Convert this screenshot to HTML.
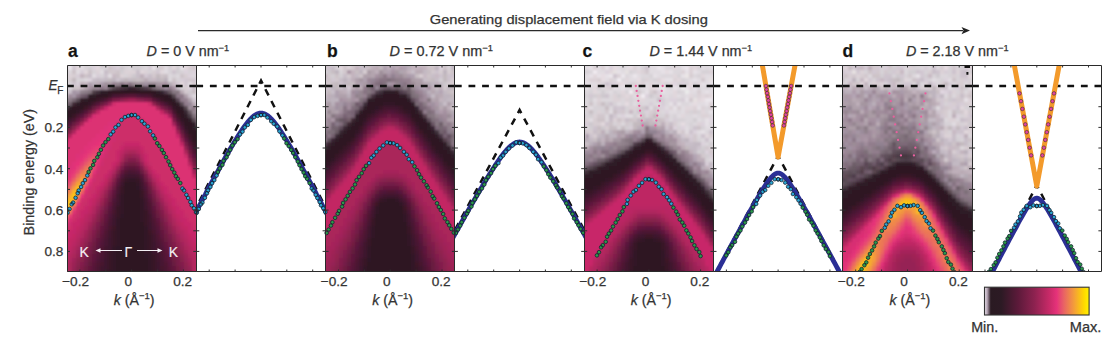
<!DOCTYPE html><html><head><meta charset="utf-8"><style>html,body{margin:0;padding:0;background:#fff;width:1120px;height:343px;overflow:hidden}svg{display:block}text{font-family:"Liberation Sans",sans-serif;fill:#333;stroke:#333;stroke-width:0.25px}</style></head><body>
<svg width="1120" height="343" viewBox="0 0 1120 343">
<defs><clipPath id="hc"><rect x="67.0" y="65.0" width="129.3" height="207.0"/><rect x="325.6" y="65.0" width="129.3" height="207.0"/><rect x="584.2" y="65.0" width="129.3" height="207.0"/><rect x="842.8" y="65.0" width="129.3" height="207.0"/></clipPath><filter id="bl" x="-5%" y="-5%" width="110%" height="110%"><feGaussianBlur stdDeviation="1.3"/></filter></defs><g clip-path="url(#hc)"><g filter="url(#bl)" shape-rendering="crispEdges"><path fill="#c8bec8" d="M64 62h4v4h-4zM168 62h4v4h-4zM104 70h4v4h-4zM136 70h4v4h-4zM88 74h4v4h-4zM136 74h4v4h-4zM148 74h4v4h-4zM92 78h4v4h-4zM100 78h4v4h-4zM176 86h4v4h-4zM192 86h4v4h-4zM68 90h4v4h-4zM339 62h4v4h-4zM359 62h4v4h-4zM443 62h4v4h-4zM331 66h4v4h-4zM359 66h4v4h-4zM363 66h4v4h-4zM411 70h4v4h-4zM343 74h4v4h-4zM431 74h4v4h-4zM455 74h4v4h-4zM339 78h4v4h-4zM347 78h4v4h-4zM423 78h4v4h-4zM435 78h4v4h-4zM455 82h4v4h-4zM339 86h4v4h-4zM331 90h4v4h-4zM443 102h4v4h-4zM657 98h4v4h-4zM581 106h4v4h-4zM645 106h4v4h-4zM581 114h4v4h-4zM609 118h4v4h-4zM625 118h4v4h-4zM669 122h4v4h-4zM581 130h4v4h-4zM593 130h4v4h-4zM685 142h4v4h-4zM689 142h4v4h-4zM709 166h4v4h-4zM717 166h4v4h-4zM856 66h4v4h-4zM932 70h4v4h-4zM964 70h4v4h-4zM888 78h4v4h-4zM920 78h4v4h-4zM848 86h4v4h-4zM864 86h4v4h-4zM888 86h4v4h-4zM972 90h4v4h-4zM960 94h4v4h-4zM976 110h4v4h-4zM972 114h4v4h-4zM960 118h4v4h-4zM940 122h4v4h-4zM964 126h4v4h-4zM952 134h4v4h-4zM944 138h4v4h-4zM952 138h4v4h-4zM964 138h4v4h-4zM944 142h4v4h-4zM964 142h4v4h-4zM972 142h4v4h-4zM944 150h4v4h-4zM952 154h4v4h-4zM972 158h4v4h-4z"/><path fill="#ebe6eb" d="M68 62h4v4h-4zM68 66h4v4h-4zM629 62h4v4h-4zM653 62h4v4h-4zM657 66h4v4h-4zM685 66h4v4h-4zM609 74h4v4h-4zM621 74h4v4h-4zM633 74h4v4h-4zM717 90h4v4h-4zM717 94h4v4h-4zM705 98h4v4h-4zM709 98h4v4h-4z"/><path fill="#d7cdd7" d="M72 62h4v4h-4zM116 66h4v4h-4zM148 66h4v4h-4zM80 70h4v4h-4zM76 74h4v4h-4zM96 74h4v4h-4zM196 74h4v4h-4zM180 78h4v4h-4zM76 82h4v4h-4zM196 98h4v4h-4zM200 98h4v4h-4zM609 82h4v4h-4zM661 98h4v4h-4zM681 98h4v4h-4zM717 98h4v4h-4zM649 102h4v4h-4zM661 102h4v4h-4zM673 102h4v4h-4zM665 118h4v4h-4zM673 118h4v4h-4zM585 122h4v4h-4zM629 126h4v4h-4zM689 134h4v4h-4zM717 150h4v4h-4zM709 154h4v4h-4zM717 154h4v4h-4zM705 162h4v4h-4zM884 66h4v4h-4zM924 66h4v4h-4zM964 66h4v4h-4zM844 70h4v4h-4zM848 70h4v4h-4zM944 70h4v4h-4zM848 78h4v4h-4zM924 78h4v4h-4zM964 78h4v4h-4zM932 82h4v4h-4zM948 82h4v4h-4zM956 86h4v4h-4zM948 102h4v4h-4zM960 102h4v4h-4zM952 106h4v4h-4zM960 134h4v4h-4zM968 150h4v4h-4z"/><path fill="#dcd7dc" d="M76 62h4v4h-4zM80 62h4v4h-4zM96 62h4v4h-4zM116 62h4v4h-4zM156 62h4v4h-4zM128 66h4v4h-4zM144 66h4v4h-4zM200 66h4v4h-4zM68 70h4v4h-4zM168 74h4v4h-4zM176 74h4v4h-4zM192 74h4v4h-4zM200 74h4v4h-4zM64 78h4v4h-4zM84 78h4v4h-4zM168 78h4v4h-4zM192 94h4v4h-4zM331 62h4v4h-4zM459 82h4v4h-4zM585 62h4v4h-4zM589 62h4v4h-4zM593 62h4v4h-4zM609 62h4v4h-4zM617 62h4v4h-4zM621 62h4v4h-4zM657 62h4v4h-4zM661 62h4v4h-4zM665 62h4v4h-4zM677 62h4v4h-4zM693 62h4v4h-4zM701 62h4v4h-4zM713 62h4v4h-4zM621 66h4v4h-4zM665 66h4v4h-4zM669 66h4v4h-4zM677 66h4v4h-4zM705 66h4v4h-4zM581 70h4v4h-4zM589 70h4v4h-4zM633 70h4v4h-4zM673 70h4v4h-4zM677 70h4v4h-4zM625 74h4v4h-4zM641 74h4v4h-4zM645 74h4v4h-4zM661 74h4v4h-4zM665 74h4v4h-4zM669 74h4v4h-4zM693 74h4v4h-4zM613 78h4v4h-4zM621 78h4v4h-4zM649 78h4v4h-4zM685 78h4v4h-4zM625 82h4v4h-4zM657 82h4v4h-4zM589 86h4v4h-4zM601 86h4v4h-4zM629 86h4v4h-4zM637 86h4v4h-4zM669 86h4v4h-4zM697 86h4v4h-4zM705 86h4v4h-4zM585 90h4v4h-4zM597 90h4v4h-4zM605 90h4v4h-4zM617 90h4v4h-4zM641 90h4v4h-4zM681 90h4v4h-4zM609 94h4v4h-4zM661 94h4v4h-4zM669 94h4v4h-4zM681 94h4v4h-4zM693 94h4v4h-4zM585 98h4v4h-4zM601 98h4v4h-4zM605 98h4v4h-4zM609 98h4v4h-4zM621 98h4v4h-4zM633 98h4v4h-4zM645 98h4v4h-4zM649 98h4v4h-4zM653 98h4v4h-4zM665 98h4v4h-4zM581 102h4v4h-4zM585 102h4v4h-4zM593 102h4v4h-4zM621 102h4v4h-4zM641 102h4v4h-4zM645 102h4v4h-4zM653 102h4v4h-4zM665 102h4v4h-4zM681 102h4v4h-4zM685 102h4v4h-4zM609 106h4v4h-4zM705 106h4v4h-4zM713 106h4v4h-4zM661 110h4v4h-4zM677 110h4v4h-4zM705 110h4v4h-4zM713 110h4v4h-4zM605 114h4v4h-4zM617 114h4v4h-4zM669 114h4v4h-4zM685 114h4v4h-4zM689 114h4v4h-4zM697 114h4v4h-4zM709 114h4v4h-4zM605 118h4v4h-4zM669 118h4v4h-4zM685 118h4v4h-4zM689 118h4v4h-4zM701 118h4v4h-4zM621 122h4v4h-4zM677 122h4v4h-4zM685 122h4v4h-4zM693 122h4v4h-4zM709 122h4v4h-4zM717 122h4v4h-4zM585 126h4v4h-4zM705 130h4v4h-4zM697 134h4v4h-4zM717 134h4v4h-4zM701 138h4v4h-4zM705 142h4v4h-4zM709 158h4v4h-4zM924 62h4v4h-4zM944 62h4v4h-4zM976 62h4v4h-4zM904 66h4v4h-4zM920 66h4v4h-4zM928 66h4v4h-4zM936 66h4v4h-4zM904 70h4v4h-4zM868 74h4v4h-4zM912 74h4v4h-4zM940 74h4v4h-4zM944 74h4v4h-4zM908 78h4v4h-4zM936 78h4v4h-4zM972 78h4v4h-4zM912 82h4v4h-4zM920 82h4v4h-4zM936 82h4v4h-4zM952 82h4v4h-4zM964 82h4v4h-4zM964 90h4v4h-4zM944 94h4v4h-4zM952 94h4v4h-4zM972 102h4v4h-4zM936 106h4v4h-4zM948 110h4v4h-4zM972 110h4v4h-4zM948 114h4v4h-4zM944 118h4v4h-4zM956 118h4v4h-4zM972 118h4v4h-4zM968 134h4v4h-4zM976 134h4v4h-4zM960 146h4v4h-4z"/><path fill="#dcd2d7" d="M84 62h4v4h-4zM92 62h4v4h-4zM108 62h4v4h-4zM112 62h4v4h-4zM132 62h4v4h-4zM140 62h4v4h-4zM160 62h4v4h-4zM172 62h4v4h-4zM176 62h4v4h-4zM96 70h4v4h-4zM124 70h4v4h-4zM128 70h4v4h-4zM132 70h4v4h-4zM144 70h4v4h-4zM68 74h4v4h-4zM120 74h4v4h-4zM64 82h4v4h-4zM196 82h4v4h-4zM196 90h4v4h-4zM200 90h4v4h-4zM431 62h4v4h-4zM347 66h4v4h-4zM459 70h4v4h-4zM717 62h4v4h-4zM593 66h4v4h-4zM601 66h4v4h-4zM633 66h4v4h-4zM689 66h4v4h-4zM641 70h4v4h-4zM681 70h4v4h-4zM689 70h4v4h-4zM709 70h4v4h-4zM717 70h4v4h-4zM617 74h4v4h-4zM589 78h4v4h-4zM593 78h4v4h-4zM609 78h4v4h-4zM645 78h4v4h-4zM657 78h4v4h-4zM673 78h4v4h-4zM633 82h4v4h-4zM641 82h4v4h-4zM605 86h4v4h-4zM633 90h4v4h-4zM613 94h4v4h-4zM621 94h4v4h-4zM629 94h4v4h-4zM657 94h4v4h-4zM697 94h4v4h-4zM705 94h4v4h-4zM597 98h4v4h-4zM613 98h4v4h-4zM617 98h4v4h-4zM625 98h4v4h-4zM709 102h4v4h-4zM585 106h4v4h-4zM629 106h4v4h-4zM633 106h4v4h-4zM669 106h4v4h-4zM693 106h4v4h-4zM701 106h4v4h-4zM597 110h4v4h-4zM657 110h4v4h-4zM685 110h4v4h-4zM593 114h4v4h-4zM701 114h4v4h-4zM705 114h4v4h-4zM717 114h4v4h-4zM585 118h4v4h-4zM613 118h4v4h-4zM697 122h4v4h-4zM677 130h4v4h-4zM581 134h4v4h-4zM713 134h4v4h-4zM713 138h4v4h-4zM709 146h4v4h-4zM717 146h4v4h-4zM713 166h4v4h-4zM896 62h4v4h-4zM916 62h4v4h-4zM840 66h4v4h-4zM844 66h4v4h-4zM908 66h4v4h-4zM968 66h4v4h-4zM860 70h4v4h-4zM940 70h4v4h-4zM956 70h4v4h-4zM856 74h4v4h-4zM972 74h4v4h-4zM872 82h4v4h-4zM880 82h4v4h-4zM924 82h4v4h-4zM924 86h4v4h-4zM952 90h4v4h-4zM968 98h4v4h-4zM976 98h4v4h-4zM968 102h4v4h-4zM964 114h4v4h-4zM948 118h4v4h-4zM952 118h4v4h-4zM964 122h4v4h-4zM968 130h4v4h-4zM944 134h4v4h-4zM948 134h4v4h-4z"/><path fill="#e6e1e6" d="M88 62h4v4h-4zM152 66h4v4h-4zM180 66h4v4h-4zM196 66h4v4h-4zM649 62h4v4h-4zM581 66h4v4h-4zM589 66h4v4h-4zM605 66h4v4h-4zM661 66h4v4h-4zM681 66h4v4h-4zM617 70h4v4h-4zM661 70h4v4h-4zM669 70h4v4h-4zM685 70h4v4h-4zM693 70h4v4h-4zM589 74h4v4h-4zM597 74h4v4h-4zM605 74h4v4h-4zM653 74h4v4h-4zM681 74h4v4h-4zM665 78h4v4h-4zM669 78h4v4h-4zM693 78h4v4h-4zM585 82h4v4h-4zM701 82h4v4h-4zM709 82h4v4h-4zM713 82h4v4h-4zM585 86h4v4h-4zM613 86h4v4h-4zM621 86h4v4h-4zM657 86h4v4h-4zM673 86h4v4h-4zM685 86h4v4h-4zM693 86h4v4h-4zM645 90h4v4h-4zM661 90h4v4h-4zM705 90h4v4h-4zM685 98h4v4h-4zM669 102h4v4h-4zM677 102h4v4h-4zM705 102h4v4h-4zM673 106h4v4h-4zM697 106h4v4h-4zM709 110h4v4h-4zM705 118h4v4h-4zM705 122h4v4h-4zM701 130h4v4h-4zM717 130h4v4h-4zM717 162h4v4h-4zM968 62h4v4h-4zM916 74h4v4h-4zM972 82h4v4h-4zM964 98h4v4h-4z"/><path fill="#beafb9" d="M100 62h4v4h-4zM140 74h4v4h-4zM80 82h4v4h-4zM371 66h4v4h-4zM387 66h4v4h-4zM419 66h4v4h-4zM375 70h4v4h-4zM323 74h4v4h-4zM351 78h4v4h-4zM455 78h4v4h-4zM435 82h4v4h-4zM431 86h4v4h-4zM439 86h4v4h-4zM343 90h4v4h-4zM327 94h4v4h-4zM455 98h4v4h-4zM447 106h4v4h-4zM661 122h4v4h-4zM601 130h4v4h-4zM673 134h4v4h-4zM677 138h4v4h-4zM677 142h4v4h-4zM689 150h4v4h-4zM697 154h4v4h-4zM697 158h4v4h-4zM701 158h4v4h-4zM717 170h4v4h-4zM717 178h4v4h-4zM868 66h4v4h-4zM856 86h4v4h-4zM868 86h4v4h-4zM932 98h4v4h-4zM856 102h4v4h-4zM952 114h4v4h-4zM936 118h4v4h-4zM936 126h4v4h-4zM964 134h4v4h-4zM956 142h4v4h-4zM948 150h4v4h-4zM948 154h4v4h-4zM948 158h4v4h-4zM956 166h4v4h-4zM972 166h4v4h-4zM952 170h4v4h-4zM956 170h4v4h-4zM964 170h4v4h-4z"/><path fill="#d7d2d7" d="M104 62h4v4h-4zM144 62h4v4h-4zM200 62h4v4h-4zM84 66h4v4h-4zM100 66h4v4h-4zM104 66h4v4h-4zM124 66h4v4h-4zM140 66h4v4h-4zM168 66h4v4h-4zM64 70h4v4h-4zM92 70h4v4h-4zM148 70h4v4h-4zM168 70h4v4h-4zM180 70h4v4h-4zM188 70h4v4h-4zM64 74h4v4h-4zM100 74h4v4h-4zM124 74h4v4h-4zM172 74h4v4h-4zM76 78h4v4h-4zM80 78h4v4h-4zM176 78h4v4h-4zM196 78h4v4h-4zM68 82h4v4h-4zM68 86h4v4h-4zM196 86h4v4h-4zM200 94h4v4h-4zM427 62h4v4h-4zM439 62h4v4h-4zM455 62h4v4h-4zM335 66h4v4h-4zM447 66h4v4h-4zM323 70h4v4h-4zM339 70h4v4h-4zM459 78h4v4h-4zM597 62h4v4h-4zM641 66h4v4h-4zM697 66h4v4h-4zM585 70h4v4h-4zM629 70h4v4h-4zM701 70h4v4h-4zM705 70h4v4h-4zM649 74h4v4h-4zM677 74h4v4h-4zM697 74h4v4h-4zM641 78h4v4h-4zM653 78h4v4h-4zM681 78h4v4h-4zM717 78h4v4h-4zM601 82h4v4h-4zM629 82h4v4h-4zM665 82h4v4h-4zM677 82h4v4h-4zM685 82h4v4h-4zM693 82h4v4h-4zM581 86h4v4h-4zM589 90h4v4h-4zM613 90h4v4h-4zM625 90h4v4h-4zM677 90h4v4h-4zM585 94h4v4h-4zM653 94h4v4h-4zM581 98h4v4h-4zM629 98h4v4h-4zM677 98h4v4h-4zM613 102h4v4h-4zM629 102h4v4h-4zM637 102h4v4h-4zM593 106h4v4h-4zM597 106h4v4h-4zM601 106h4v4h-4zM625 106h4v4h-4zM657 106h4v4h-4zM585 110h4v4h-4zM593 110h4v4h-4zM601 110h4v4h-4zM625 110h4v4h-4zM633 110h4v4h-4zM689 110h4v4h-4zM697 110h4v4h-4zM585 114h4v4h-4zM645 114h4v4h-4zM657 114h4v4h-4zM661 114h4v4h-4zM673 114h4v4h-4zM677 118h4v4h-4zM681 118h4v4h-4zM613 122h4v4h-4zM689 122h4v4h-4zM617 126h4v4h-4zM677 126h4v4h-4zM689 126h4v4h-4zM701 126h4v4h-4zM713 126h4v4h-4zM717 126h4v4h-4zM713 130h4v4h-4zM697 138h4v4h-4zM713 146h4v4h-4zM705 158h4v4h-4zM713 162h4v4h-4zM856 62h4v4h-4zM884 62h4v4h-4zM928 62h4v4h-4zM940 62h4v4h-4zM960 62h4v4h-4zM880 66h4v4h-4zM912 66h4v4h-4zM916 66h4v4h-4zM948 66h4v4h-4zM956 66h4v4h-4zM864 70h4v4h-4zM880 70h4v4h-4zM924 70h4v4h-4zM948 70h4v4h-4zM968 70h4v4h-4zM976 70h4v4h-4zM892 74h4v4h-4zM904 74h4v4h-4zM932 74h4v4h-4zM948 74h4v4h-4zM956 74h4v4h-4zM844 78h4v4h-4zM856 78h4v4h-4zM872 78h4v4h-4zM928 78h4v4h-4zM940 78h4v4h-4zM956 78h4v4h-4zM968 78h4v4h-4zM844 82h4v4h-4zM868 82h4v4h-4zM884 82h4v4h-4zM952 86h4v4h-4zM956 90h4v4h-4zM976 90h4v4h-4zM972 94h4v4h-4zM944 102h4v4h-4zM964 106h4v4h-4zM960 114h4v4h-4zM976 114h4v4h-4zM944 122h4v4h-4zM948 122h4v4h-4zM960 122h4v4h-4zM948 130h4v4h-4zM956 134h4v4h-4zM960 138h4v4h-4z"/><path fill="#e1d7dc" d="M120 62h4v4h-4zM184 62h4v4h-4zM76 66h4v4h-4zM96 66h4v4h-4zM172 66h4v4h-4zM184 66h4v4h-4zM84 70h4v4h-4zM140 70h4v4h-4zM160 70h4v4h-4zM200 70h4v4h-4zM180 82h4v4h-4zM200 86h4v4h-4zM339 66h4v4h-4zM697 62h4v4h-4zM673 66h4v4h-4zM693 66h4v4h-4zM609 70h4v4h-4zM637 70h4v4h-4zM593 74h4v4h-4zM673 74h4v4h-4zM701 74h4v4h-4zM713 74h4v4h-4zM625 78h4v4h-4zM677 78h4v4h-4zM581 82h4v4h-4zM597 82h4v4h-4zM617 82h4v4h-4zM637 82h4v4h-4zM649 82h4v4h-4zM661 82h4v4h-4zM669 82h4v4h-4zM697 82h4v4h-4zM593 86h4v4h-4zM633 86h4v4h-4zM649 86h4v4h-4zM689 86h4v4h-4zM593 90h4v4h-4zM621 90h4v4h-4zM673 90h4v4h-4zM713 90h4v4h-4zM625 94h4v4h-4zM637 94h4v4h-4zM673 94h4v4h-4zM689 94h4v4h-4zM701 94h4v4h-4zM709 94h4v4h-4zM637 98h4v4h-4zM641 98h4v4h-4zM697 98h4v4h-4zM685 106h4v4h-4zM689 106h4v4h-4zM717 106h4v4h-4zM701 110h4v4h-4zM637 114h4v4h-4zM681 114h4v4h-4zM601 122h4v4h-4zM705 134h4v4h-4zM713 142h4v4h-4zM864 62h4v4h-4zM972 62h4v4h-4zM968 74h4v4h-4zM864 78h4v4h-4zM904 78h4v4h-4zM860 82h4v4h-4zM960 106h4v4h-4zM964 110h4v4h-4zM964 130h4v4h-4z"/><path fill="#dcd2dc" d="M124 62h4v4h-4zM188 62h4v4h-4zM92 66h4v4h-4zM184 70h4v4h-4zM192 70h4v4h-4zM188 74h4v4h-4zM88 78h4v4h-4zM188 86h4v4h-4zM447 62h4v4h-4zM439 66h4v4h-4zM601 62h4v4h-4zM685 62h4v4h-4zM609 66h4v4h-4zM605 70h4v4h-4zM613 82h4v4h-4zM681 82h4v4h-4zM657 90h4v4h-4zM645 94h4v4h-4zM669 98h4v4h-4zM673 98h4v4h-4zM661 106h4v4h-4zM645 110h4v4h-4zM665 110h4v4h-4zM621 114h4v4h-4zM701 122h4v4h-4zM673 126h4v4h-4zM681 126h4v4h-4zM693 130h4v4h-4zM701 142h4v4h-4zM705 150h4v4h-4zM852 62h4v4h-4zM944 78h4v4h-4zM944 90h4v4h-4zM976 106h4v4h-4zM956 114h4v4h-4z"/><path fill="#d7cdd2" d="M128 62h4v4h-4zM152 62h4v4h-4zM164 62h4v4h-4zM196 62h4v4h-4zM64 66h4v4h-4zM160 66h4v4h-4zM188 66h4v4h-4zM152 70h4v4h-4zM72 74h4v4h-4zM128 74h4v4h-4zM184 74h4v4h-4zM68 78h4v4h-4zM192 82h4v4h-4zM64 86h4v4h-4zM184 86h4v4h-4zM64 90h4v4h-4zM419 62h4v4h-4zM435 62h4v4h-4zM455 66h4v4h-4zM363 70h4v4h-4zM439 70h4v4h-4zM447 70h4v4h-4zM419 74h4v4h-4zM451 78h4v4h-4zM447 82h4v4h-4zM451 82h4v4h-4zM689 74h4v4h-4zM597 78h4v4h-4zM609 86h4v4h-4zM581 90h4v4h-4zM649 90h4v4h-4zM697 90h4v4h-4zM597 94h4v4h-4zM597 102h4v4h-4zM637 106h4v4h-4zM677 106h4v4h-4zM709 106h4v4h-4zM649 110h4v4h-4zM693 110h4v4h-4zM593 118h4v4h-4zM621 118h4v4h-4zM593 122h4v4h-4zM597 122h4v4h-4zM617 122h4v4h-4zM673 122h4v4h-4zM605 126h4v4h-4zM589 130h4v4h-4zM593 134h4v4h-4zM685 134h4v4h-4zM709 134h4v4h-4zM713 150h4v4h-4zM717 158h4v4h-4zM872 62h4v4h-4zM876 62h4v4h-4zM880 62h4v4h-4zM948 62h4v4h-4zM940 66h4v4h-4zM972 66h4v4h-4zM976 66h4v4h-4zM896 70h4v4h-4zM928 70h4v4h-4zM848 74h4v4h-4zM860 74h4v4h-4zM952 74h4v4h-4zM960 78h4v4h-4zM840 82h4v4h-4zM876 82h4v4h-4zM896 82h4v4h-4zM940 82h4v4h-4zM956 82h4v4h-4zM960 82h4v4h-4zM968 82h4v4h-4zM920 86h4v4h-4zM928 86h4v4h-4zM976 86h4v4h-4zM968 90h4v4h-4zM956 94h4v4h-4zM964 94h4v4h-4zM944 98h4v4h-4zM952 102h4v4h-4zM964 102h4v4h-4zM948 106h4v4h-4zM944 110h4v4h-4zM944 114h4v4h-4zM956 122h4v4h-4zM968 126h4v4h-4zM944 130h4v4h-4zM972 130h4v4h-4zM976 130h4v4h-4zM972 134h4v4h-4zM976 138h4v4h-4zM964 146h4v4h-4zM952 150h4v4h-4zM976 150h4v4h-4zM968 154h4v4h-4zM972 154h4v4h-4zM968 162h4v4h-4z"/><path fill="#d2c8cd" d="M136 62h4v4h-4zM192 66h4v4h-4zM108 70h4v4h-4zM112 70h4v4h-4zM152 74h4v4h-4zM188 78h4v4h-4zM200 82h4v4h-4zM184 90h4v4h-4zM355 62h4v4h-4zM459 62h4v4h-4zM343 66h4v4h-4zM351 66h4v4h-4zM343 70h4v4h-4zM431 70h4v4h-4zM455 70h4v4h-4zM327 74h4v4h-4zM347 74h4v4h-4zM335 78h4v4h-4zM327 82h4v4h-4zM443 86h4v4h-4zM451 106h4v4h-4zM645 70h4v4h-4zM701 78h4v4h-4zM637 90h4v4h-4zM689 98h4v4h-4zM641 106h4v4h-4zM653 106h4v4h-4zM605 110h4v4h-4zM621 110h4v4h-4zM653 110h4v4h-4zM597 114h4v4h-4zM601 114h4v4h-4zM649 114h4v4h-4zM665 114h4v4h-4zM633 118h4v4h-4zM653 118h4v4h-4zM625 122h4v4h-4zM665 122h4v4h-4zM585 130h4v4h-4zM681 130h4v4h-4zM693 134h4v4h-4zM693 138h4v4h-4zM705 146h4v4h-4zM709 150h4v4h-4zM701 154h4v4h-4zM848 62h4v4h-4zM920 62h4v4h-4zM872 66h4v4h-4zM888 66h4v4h-4zM952 66h4v4h-4zM876 70h4v4h-4zM884 70h4v4h-4zM852 74h4v4h-4zM864 74h4v4h-4zM908 74h4v4h-4zM976 78h4v4h-4zM852 82h4v4h-4zM936 86h4v4h-4zM940 86h4v4h-4zM960 90h4v4h-4zM948 94h4v4h-4zM976 94h4v4h-4zM936 98h4v4h-4zM956 98h4v4h-4zM960 98h4v4h-4zM944 106h4v4h-4zM940 110h4v4h-4zM960 110h4v4h-4zM968 110h4v4h-4zM968 118h4v4h-4zM976 118h4v4h-4zM944 126h4v4h-4zM972 126h4v4h-4zM972 138h4v4h-4zM944 146h4v4h-4zM960 154h4v4h-4zM944 158h4v4h-4z"/><path fill="#cdc3c8" d="M148 62h4v4h-4zM108 66h4v4h-4zM72 70h4v4h-4zM88 70h4v4h-4zM116 70h4v4h-4zM84 74h4v4h-4zM160 74h4v4h-4zM180 74h4v4h-4zM172 78h4v4h-4zM72 86h4v4h-4zM76 86h4v4h-4zM200 102h4v4h-4zM323 62h4v4h-4zM343 62h4v4h-4zM423 62h4v4h-4zM323 66h4v4h-4zM427 66h4v4h-4zM431 66h4v4h-4zM443 66h4v4h-4zM451 70h4v4h-4zM335 74h4v4h-4zM359 74h4v4h-4zM427 74h4v4h-4zM327 78h4v4h-4zM323 82h4v4h-4zM451 90h4v4h-4zM455 90h4v4h-4zM653 90h4v4h-4zM589 102h4v4h-4zM641 114h4v4h-4zM581 118h4v4h-4zM597 118h4v4h-4zM601 118h4v4h-4zM617 118h4v4h-4zM629 118h4v4h-4zM641 118h4v4h-4zM661 118h4v4h-4zM609 122h4v4h-4zM657 122h4v4h-4zM697 126h4v4h-4zM597 130h4v4h-4zM713 154h4v4h-4zM868 70h4v4h-4zM844 74h4v4h-4zM872 74h4v4h-4zM876 74h4v4h-4zM912 78h4v4h-4zM952 78h4v4h-4zM856 82h4v4h-4zM880 86h4v4h-4zM960 86h4v4h-4zM968 94h4v4h-4zM932 130h4v4h-4zM936 138h4v4h-4zM968 138h4v4h-4zM952 142h4v4h-4zM968 146h4v4h-4zM976 146h4v4h-4zM956 154h4v4h-4zM976 154h4v4h-4zM964 166h4v4h-4z"/><path fill="#d2c8d2" d="M180 62h4v4h-4zM72 66h4v4h-4zM112 66h4v4h-4zM156 70h4v4h-4zM144 74h4v4h-4zM184 78h4v4h-4zM192 78h4v4h-4zM176 82h4v4h-4zM184 82h4v4h-4zM196 102h4v4h-4zM200 106h4v4h-4zM327 62h4v4h-4zM347 62h4v4h-4zM459 66h4v4h-4zM331 78h4v4h-4zM347 86h4v4h-4zM713 70h4v4h-4zM589 94h4v4h-4zM713 98h4v4h-4zM617 106h4v4h-4zM617 110h4v4h-4zM613 114h4v4h-4zM681 134h4v4h-4zM689 138h4v4h-4zM717 142h4v4h-4zM844 62h4v4h-4zM860 62h4v4h-4zM904 62h4v4h-4zM932 62h4v4h-4zM952 62h4v4h-4zM852 66h4v4h-4zM864 66h4v4h-4zM876 66h4v4h-4zM896 66h4v4h-4zM900 66h4v4h-4zM856 70h4v4h-4zM872 70h4v4h-4zM892 70h4v4h-4zM920 70h4v4h-4zM840 74h4v4h-4zM900 74h4v4h-4zM920 74h4v4h-4zM868 78h4v4h-4zM904 82h4v4h-4zM908 82h4v4h-4zM948 90h4v4h-4zM940 98h4v4h-4zM940 102h4v4h-4zM956 102h4v4h-4zM940 114h4v4h-4zM968 114h4v4h-4zM952 126h4v4h-4zM960 126h4v4h-4zM940 130h4v4h-4zM948 138h4v4h-4z"/><path fill="#d2cdd2" d="M192 62h4v4h-4zM88 66h4v4h-4zM132 66h4v4h-4zM136 66h4v4h-4zM156 66h4v4h-4zM176 66h4v4h-4zM120 70h4v4h-4zM176 70h4v4h-4zM196 70h4v4h-4zM180 86h4v4h-4zM331 74h4v4h-4zM339 74h4v4h-4zM439 78h4v4h-4zM673 62h4v4h-4zM597 86h4v4h-4zM601 90h4v4h-4zM593 94h4v4h-4zM617 94h4v4h-4zM589 98h4v4h-4zM605 102h4v4h-4zM641 110h4v4h-4zM589 114h4v4h-4zM633 114h4v4h-4zM693 118h4v4h-4zM629 122h4v4h-4zM589 126h4v4h-4zM625 126h4v4h-4zM709 142h4v4h-4zM701 146h4v4h-4zM697 150h4v4h-4zM705 154h4v4h-4zM868 62h4v4h-4zM892 66h4v4h-4zM960 66h4v4h-4zM888 70h4v4h-4zM908 70h4v4h-4zM912 70h4v4h-4zM880 74h4v4h-4zM924 74h4v4h-4zM900 82h4v4h-4zM976 82h4v4h-4zM964 86h4v4h-4zM968 106h4v4h-4zM976 126h4v4h-4zM956 138h4v4h-4zM968 142h4v4h-4zM976 162h4v4h-4z"/><path fill="#e1dce1" d="M80 66h4v4h-4zM164 66h4v4h-4zM76 70h4v4h-4zM100 70h4v4h-4zM164 70h4v4h-4zM92 74h4v4h-4zM108 74h4v4h-4zM188 82h4v4h-4zM581 62h4v4h-4zM605 62h4v4h-4zM613 62h4v4h-4zM625 62h4v4h-4zM633 62h4v4h-4zM637 62h4v4h-4zM641 62h4v4h-4zM645 62h4v4h-4zM669 62h4v4h-4zM681 62h4v4h-4zM689 62h4v4h-4zM705 62h4v4h-4zM709 62h4v4h-4zM585 66h4v4h-4zM597 66h4v4h-4zM617 66h4v4h-4zM625 66h4v4h-4zM637 66h4v4h-4zM649 66h4v4h-4zM653 66h4v4h-4zM701 66h4v4h-4zM709 66h4v4h-4zM713 66h4v4h-4zM717 66h4v4h-4zM597 70h4v4h-4zM601 70h4v4h-4zM621 70h4v4h-4zM649 70h4v4h-4zM653 70h4v4h-4zM657 70h4v4h-4zM697 70h4v4h-4zM581 74h4v4h-4zM585 74h4v4h-4zM629 74h4v4h-4zM637 74h4v4h-4zM657 74h4v4h-4zM705 74h4v4h-4zM709 74h4v4h-4zM717 74h4v4h-4zM581 78h4v4h-4zM585 78h4v4h-4zM605 78h4v4h-4zM629 78h4v4h-4zM633 78h4v4h-4zM689 78h4v4h-4zM697 78h4v4h-4zM705 78h4v4h-4zM713 78h4v4h-4zM589 82h4v4h-4zM593 82h4v4h-4zM645 82h4v4h-4zM653 82h4v4h-4zM705 82h4v4h-4zM717 82h4v4h-4zM617 86h4v4h-4zM625 86h4v4h-4zM641 86h4v4h-4zM645 86h4v4h-4zM665 86h4v4h-4zM677 86h4v4h-4zM701 86h4v4h-4zM709 86h4v4h-4zM717 86h4v4h-4zM609 90h4v4h-4zM665 90h4v4h-4zM669 90h4v4h-4zM689 90h4v4h-4zM693 90h4v4h-4zM701 90h4v4h-4zM709 90h4v4h-4zM633 94h4v4h-4zM665 94h4v4h-4zM677 94h4v4h-4zM685 94h4v4h-4zM593 98h4v4h-4zM617 102h4v4h-4zM633 102h4v4h-4zM657 102h4v4h-4zM689 102h4v4h-4zM697 102h4v4h-4zM701 102h4v4h-4zM713 102h4v4h-4zM717 102h4v4h-4zM589 106h4v4h-4zM649 106h4v4h-4zM665 106h4v4h-4zM681 106h4v4h-4zM581 110h4v4h-4zM609 110h4v4h-4zM669 110h4v4h-4zM673 110h4v4h-4zM681 110h4v4h-4zM717 110h4v4h-4zM625 114h4v4h-4zM629 114h4v4h-4zM677 114h4v4h-4zM693 114h4v4h-4zM713 114h4v4h-4zM589 118h4v4h-4zM697 118h4v4h-4zM713 118h4v4h-4zM713 122h4v4h-4zM685 126h4v4h-4zM705 126h4v4h-4zM709 126h4v4h-4zM685 130h4v4h-4zM697 130h4v4h-4zM709 138h4v4h-4zM717 138h4v4h-4zM892 62h4v4h-4zM900 62h4v4h-4zM936 62h4v4h-4zM956 62h4v4h-4zM964 62h4v4h-4zM932 78h4v4h-4zM948 78h4v4h-4zM948 86h4v4h-4zM968 86h4v4h-4zM972 86h4v4h-4zM952 122h4v4h-4zM976 122h4v4h-4z"/><path fill="#cdc8cd" d="M120 66h4v4h-4zM132 74h4v4h-4zM188 90h4v4h-4zM327 70h4v4h-4zM443 82h4v4h-4zM459 90h4v4h-4zM459 94h4v4h-4zM581 94h4v4h-4zM601 94h4v4h-4zM649 94h4v4h-4zM589 122h4v4h-4zM601 126h4v4h-4zM605 130h4v4h-4zM701 150h4v4h-4zM840 62h4v4h-4zM896 74h4v4h-4zM936 74h4v4h-4zM900 78h4v4h-4zM948 98h4v4h-4zM956 110h4v4h-4zM968 122h4v4h-4zM976 142h4v4h-4z"/><path fill="#cdc3cd" d="M172 70h4v4h-4zM104 74h4v4h-4zM116 78h4v4h-4zM200 78h4v4h-4zM72 82h4v4h-4zM188 94h4v4h-4zM192 98h4v4h-4zM415 62h4v4h-4zM327 66h4v4h-4zM435 70h4v4h-4zM439 74h4v4h-4zM447 74h4v4h-4zM451 74h4v4h-4zM323 78h4v4h-4zM447 78h4v4h-4zM339 82h4v4h-4zM327 86h4v4h-4zM455 86h4v4h-4zM459 86h4v4h-4zM323 90h4v4h-4zM645 66h4v4h-4zM613 74h4v4h-4zM605 82h4v4h-4zM605 94h4v4h-4zM609 102h4v4h-4zM613 106h4v4h-4zM621 106h4v4h-4zM637 110h4v4h-4zM581 122h4v4h-4zM605 122h4v4h-4zM593 126h4v4h-4zM665 126h4v4h-4zM693 126h4v4h-4zM689 130h4v4h-4zM709 130h4v4h-4zM589 134h4v4h-4zM701 134h4v4h-4zM705 138h4v4h-4zM697 146h4v4h-4zM713 158h4v4h-4zM713 170h4v4h-4zM908 62h4v4h-4zM932 66h4v4h-4zM840 70h4v4h-4zM916 70h4v4h-4zM936 70h4v4h-4zM952 70h4v4h-4zM960 70h4v4h-4zM884 74h4v4h-4zM888 74h4v4h-4zM960 74h4v4h-4zM964 74h4v4h-4zM876 78h4v4h-4zM884 78h4v4h-4zM916 78h4v4h-4zM888 82h4v4h-4zM916 86h4v4h-4zM944 86h4v4h-4zM936 94h4v4h-4zM952 98h4v4h-4zM972 98h4v4h-4zM976 102h4v4h-4zM940 106h4v4h-4zM956 106h4v4h-4zM936 110h4v4h-4zM964 118h4v4h-4zM956 130h4v4h-4zM960 130h4v4h-4zM940 134h4v4h-4zM940 146h4v4h-4zM956 150h4v4h-4zM972 150h4v4h-4zM964 154h4v4h-4zM976 158h4v4h-4z"/><path fill="#c3b4be" d="M80 74h4v4h-4zM84 82h4v4h-4zM80 86h4v4h-4zM399 62h4v4h-4zM411 62h4v4h-4zM355 66h4v4h-4zM411 66h4v4h-4zM415 66h4v4h-4zM423 66h4v4h-4zM351 70h4v4h-4zM407 70h4v4h-4zM351 74h4v4h-4zM439 98h4v4h-4zM459 106h4v4h-4zM459 110h4v4h-4zM669 126h4v4h-4zM601 138h4v4h-4zM681 142h4v4h-4zM705 166h4v4h-4zM888 62h4v4h-4zM864 82h4v4h-4zM844 86h4v4h-4zM912 90h4v4h-4zM936 102h4v4h-4zM928 110h4v4h-4zM936 114h4v4h-4zM940 142h4v4h-4zM960 150h4v4h-4zM968 170h4v4h-4z"/><path fill="#c8b9c3" d="M112 74h4v4h-4zM152 78h4v4h-4zM172 82h4v4h-4zM423 74h4v4h-4zM435 74h4v4h-4zM629 110h4v4h-4zM649 118h4v4h-4zM581 142h4v4h-4zM912 62h4v4h-4zM860 66h4v4h-4zM900 70h4v4h-4zM928 74h4v4h-4zM860 78h4v4h-4zM880 78h4v4h-4zM848 82h4v4h-4zM892 82h4v4h-4zM892 86h4v4h-4zM952 130h4v4h-4zM948 146h4v4h-4zM952 146h4v4h-4z"/><path fill="#c8bec3" d="M116 74h4v4h-4zM164 74h4v4h-4zM136 78h4v4h-4zM192 90h4v4h-4zM351 62h4v4h-4zM363 62h4v4h-4zM367 66h4v4h-4zM331 70h4v4h-4zM355 70h4v4h-4zM427 70h4v4h-4zM415 74h4v4h-4zM427 78h4v4h-4zM331 82h4v4h-4zM351 82h4v4h-4zM323 86h4v4h-4zM435 86h4v4h-4zM447 90h4v4h-4zM459 102h4v4h-4zM601 102h4v4h-4zM605 106h4v4h-4zM589 110h4v4h-4zM613 110h4v4h-4zM657 118h4v4h-4zM597 126h4v4h-4zM609 126h4v4h-4zM613 126h4v4h-4zM621 126h4v4h-4zM593 138h4v4h-4zM585 142h4v4h-4zM717 174h4v4h-4zM848 66h4v4h-4zM976 74h4v4h-4zM892 78h4v4h-4zM908 86h4v4h-4zM936 90h4v4h-4zM928 94h4v4h-4zM952 110h4v4h-4zM956 146h4v4h-4zM960 158h4v4h-4zM968 158h4v4h-4zM972 162h4v4h-4zM976 170h4v4h-4z"/><path fill="#c3b9be" d="M156 74h4v4h-4zM72 78h4v4h-4zM108 78h4v4h-4zM132 78h4v4h-4zM140 78h4v4h-4zM160 78h4v4h-4zM200 110h4v4h-4zM335 62h4v4h-4zM379 66h4v4h-4zM443 74h4v4h-4zM431 78h4v4h-4zM443 78h4v4h-4zM335 82h4v4h-4zM347 82h4v4h-4zM335 86h4v4h-4zM451 86h4v4h-4zM327 90h4v4h-4zM451 94h4v4h-4zM459 114h4v4h-4zM653 114h4v4h-4zM633 122h4v4h-4zM637 122h4v4h-4zM649 122h4v4h-4zM633 126h4v4h-4zM685 146h4v4h-4zM896 78h4v4h-4zM944 82h4v4h-4zM884 86h4v4h-4zM948 126h4v4h-4zM956 126h4v4h-4zM960 142h4v4h-4z"/><path fill="#c3b9c3" d="M96 78h4v4h-4zM104 78h4v4h-4zM120 78h4v4h-4zM128 78h4v4h-4zM148 78h4v4h-4zM371 62h4v4h-4zM451 62h4v4h-4zM451 66h4v4h-4zM423 70h4v4h-4zM355 74h4v4h-4zM343 82h4v4h-4zM439 82h4v4h-4zM447 86h4v4h-4zM347 90h4v4h-4zM443 90h4v4h-4zM323 94h4v4h-4zM431 94h4v4h-4zM455 94h4v4h-4zM447 98h4v4h-4zM451 98h4v4h-4zM609 114h4v4h-4zM637 118h4v4h-4zM645 118h4v4h-4zM581 126h4v4h-4zM669 130h4v4h-4zM597 134h4v4h-4zM589 138h4v4h-4zM681 138h4v4h-4zM693 142h4v4h-4zM697 142h4v4h-4zM689 146h4v4h-4zM693 146h4v4h-4zM693 150h4v4h-4zM709 162h4v4h-4zM713 174h4v4h-4zM972 70h4v4h-4zM840 78h4v4h-4zM916 82h4v4h-4zM928 82h4v4h-4zM896 86h4v4h-4zM940 94h4v4h-4zM932 106h4v4h-4zM928 118h4v4h-4zM932 118h4v4h-4zM948 142h4v4h-4zM972 146h4v4h-4zM940 150h4v4h-4zM956 158h4v4h-4zM952 162h4v4h-4zM956 162h4v4h-4zM960 166h4v4h-4z"/><path fill="#beb4be" d="M112 78h4v4h-4zM156 78h4v4h-4zM375 62h4v4h-4zM435 66h4v4h-4zM335 70h4v4h-4zM359 70h4v4h-4zM443 70h4v4h-4zM343 78h4v4h-4zM431 82h4v4h-4zM331 86h4v4h-4zM343 86h4v4h-4zM443 94h4v4h-4zM447 94h4v4h-4zM323 98h4v4h-4zM331 98h4v4h-4zM335 98h4v4h-4zM443 98h4v4h-4zM451 102h4v4h-4zM653 122h4v4h-4zM609 130h4v4h-4zM625 130h4v4h-4zM601 134h4v4h-4zM609 134h4v4h-4zM613 134h4v4h-4zM677 134h4v4h-4zM685 138h4v4h-4zM852 78h4v4h-4zM840 86h4v4h-4zM912 86h4v4h-4zM888 90h4v4h-4zM928 90h4v4h-4zM932 90h4v4h-4zM932 94h4v4h-4zM940 118h4v4h-4zM932 126h4v4h-4zM940 138h4v4h-4zM944 154h4v4h-4zM952 158h4v4h-4zM964 158h4v4h-4zM972 170h4v4h-4zM960 174h4v4h-4z"/><path fill="#beb4b9" d="M124 78h4v4h-4zM64 94h4v4h-4zM932 86h4v4h-4zM924 102h4v4h-4zM920 106h4v4h-4zM928 130h4v4h-4zM936 130h4v4h-4zM932 134h4v4h-4z"/><path fill="#b9aab4" d="M144 78h4v4h-4zM96 82h4v4h-4zM180 90h4v4h-4zM192 102h4v4h-4zM196 106h4v4h-4zM383 62h4v4h-4zM387 62h4v4h-4zM375 66h4v4h-4zM395 66h4v4h-4zM415 70h4v4h-4zM419 70h4v4h-4zM351 86h4v4h-4zM359 86h4v4h-4zM339 90h4v4h-4zM439 94h4v4h-4zM323 106h4v4h-4zM439 106h4v4h-4zM455 106h4v4h-4zM455 110h4v4h-4zM455 114h4v4h-4zM459 122h4v4h-4zM645 122h4v4h-4zM641 126h4v4h-4zM613 130h4v4h-4zM629 130h4v4h-4zM581 138h4v4h-4zM609 138h4v4h-4zM585 146h4v4h-4zM681 146h4v4h-4zM852 86h4v4h-4zM860 86h4v4h-4zM904 86h4v4h-4zM916 90h4v4h-4zM892 94h4v4h-4zM916 94h4v4h-4zM852 98h4v4h-4zM904 98h4v4h-4zM916 98h4v4h-4zM932 102h4v4h-4zM924 106h4v4h-4zM972 106h4v4h-4zM860 110h4v4h-4zM840 114h4v4h-4zM876 122h4v4h-4zM940 126h4v4h-4zM936 142h4v4h-4zM952 166h4v4h-4zM960 170h4v4h-4z"/><path fill="#b9afb9" d="M164 78h4v4h-4zM92 82h4v4h-4zM391 62h4v4h-4zM407 66h4v4h-4zM427 90h4v4h-4zM435 90h4v4h-4zM331 94h4v4h-4zM347 94h4v4h-4zM327 98h4v4h-4zM331 102h4v4h-4zM455 102h4v4h-4zM323 110h4v4h-4zM637 126h4v4h-4zM665 130h4v4h-4zM673 130h4v4h-4zM585 138h4v4h-4zM589 142h4v4h-4zM601 142h4v4h-4zM701 166h4v4h-4zM844 90h4v4h-4zM848 90h4v4h-4zM856 90h4v4h-4zM920 90h4v4h-4zM864 94h4v4h-4zM872 102h4v4h-4zM936 122h4v4h-4zM936 134h4v4h-4zM964 150h4v4h-4zM976 178h4v4h-4z"/><path fill="#afa0af" d="M88 82h4v4h-4zM379 62h4v4h-4zM395 62h4v4h-4zM383 66h4v4h-4zM391 66h4v4h-4zM403 66h4v4h-4zM387 70h4v4h-4zM411 74h4v4h-4zM363 78h4v4h-4zM359 82h4v4h-4zM335 90h4v4h-4zM335 94h4v4h-4zM427 94h4v4h-4zM451 114h4v4h-4zM459 118h4v4h-4zM641 130h4v4h-4zM585 134h4v4h-4zM593 142h4v4h-4zM693 158h4v4h-4zM701 162h4v4h-4zM864 90h4v4h-4zM868 90h4v4h-4zM872 94h4v4h-4zM876 98h4v4h-4zM912 98h4v4h-4zM868 102h4v4h-4zM924 130h4v4h-4zM932 138h4v4h-4zM964 162h4v4h-4z"/><path fill="#aa9baa" d="M100 82h4v4h-4zM76 90h4v4h-4zM407 74h4v4h-4zM419 86h4v4h-4zM840 90h4v4h-4zM900 90h4v4h-4zM888 94h4v4h-4zM844 98h4v4h-4zM860 106h4v4h-4zM904 106h4v4h-4zM916 110h4v4h-4zM876 118h4v4h-4zM924 122h4v4h-4zM936 150h4v4h-4zM948 162h4v4h-4z"/><path fill="#a0919b" d="M104 82h4v4h-4zM188 106h4v4h-4zM379 70h4v4h-4zM451 122h4v4h-4zM459 126h4v4h-4zM459 130h4v4h-4zM669 138h4v4h-4zM685 150h4v4h-4zM713 178h4v4h-4zM912 94h4v4h-4zM848 110h4v4h-4zM880 118h4v4h-4zM840 126h4v4h-4zM856 134h4v4h-4z"/><path fill="#a596a0" d="M108 82h4v4h-4zM156 82h4v4h-4zM395 70h4v4h-4zM359 78h4v4h-4zM339 106h4v4h-4zM435 106h4v4h-4zM323 118h4v4h-4zM613 138h4v4h-4zM617 138h4v4h-4zM597 142h4v4h-4zM669 142h4v4h-4zM673 142h4v4h-4zM677 150h4v4h-4zM705 174h4v4h-4zM896 90h4v4h-4zM876 94h4v4h-4zM860 102h4v4h-4zM864 102h4v4h-4zM908 106h4v4h-4zM884 114h4v4h-4zM916 114h4v4h-4zM844 122h4v4h-4zM856 122h4v4h-4zM916 122h4v4h-4zM876 130h4v4h-4zM840 138h4v4h-4zM952 174h4v4h-4z"/><path fill="#968291" d="M112 82h4v4h-4zM104 86h4v4h-4zM184 98h4v4h-4zM403 78h4v4h-4zM407 78h4v4h-4zM407 82h4v4h-4zM363 94h4v4h-4zM419 98h4v4h-4zM327 126h4v4h-4zM661 134h4v4h-4zM661 138h4v4h-4zM665 142h4v4h-4zM605 146h4v4h-4zM681 150h4v4h-4zM597 154h4v4h-4zM589 158h4v4h-4zM697 166h4v4h-4zM705 178h4v4h-4zM884 106h4v4h-4zM892 106h4v4h-4zM896 114h4v4h-4zM860 118h4v4h-4zM868 122h4v4h-4zM900 122h4v4h-4zM912 122h4v4h-4zM912 130h4v4h-4zM880 134h4v4h-4zM884 134h4v4h-4zM884 142h4v4h-4zM856 146h4v4h-4zM868 146h4v4h-4zM852 150h4v4h-4zM844 154h4v4h-4zM976 182h4v4h-4zM952 186h4v4h-4zM968 186h4v4h-4z"/><path fill="#968791" d="M116 82h4v4h-4zM132 82h4v4h-4zM148 82h4v4h-4zM152 82h4v4h-4zM92 86h4v4h-4zM192 110h4v4h-4zM200 114h4v4h-4zM411 86h4v4h-4zM359 90h4v4h-4zM359 94h4v4h-4zM327 110h4v4h-4zM435 114h4v4h-4zM443 122h4v4h-4zM617 142h4v4h-4zM593 146h4v4h-4zM613 146h4v4h-4zM593 154h4v4h-4zM844 110h4v4h-4zM872 110h4v4h-4zM884 118h4v4h-4zM852 122h4v4h-4zM924 126h4v4h-4zM892 134h4v4h-4zM916 134h4v4h-4zM876 138h4v4h-4zM848 150h4v4h-4z"/><path fill="#877382" d="M120 82h4v4h-4zM128 82h4v4h-4zM196 118h4v4h-4zM379 78h4v4h-4zM383 78h4v4h-4zM391 78h4v4h-4zM403 82h4v4h-4zM363 90h4v4h-4zM343 106h4v4h-4zM343 110h4v4h-4zM431 110h4v4h-4zM435 118h4v4h-4zM451 142h4v4h-4zM645 126h4v4h-4zM617 146h4v4h-4zM613 150h4v4h-4zM593 158h4v4h-4zM681 158h4v4h-4zM896 122h4v4h-4zM912 126h4v4h-4zM920 138h4v4h-4zM856 150h4v4h-4zM840 154h4v4h-4zM860 158h4v4h-4zM848 162h4v4h-4zM936 162h4v4h-4zM940 170h4v4h-4zM952 182h4v4h-4zM968 198h4v4h-4zM972 198h4v4h-4z"/><path fill="#9b8796" d="M124 82h4v4h-4zM96 86h4v4h-4zM196 110h4v4h-4zM200 118h4v4h-4zM367 78h4v4h-4zM419 90h4v4h-4zM439 114h4v4h-4zM327 118h4v4h-4zM443 118h4v4h-4zM455 118h4v4h-4zM609 142h4v4h-4zM597 150h4v4h-4zM685 154h4v4h-4zM705 170h4v4h-4zM717 186h4v4h-4zM872 90h4v4h-4zM864 98h4v4h-4zM888 98h4v4h-4zM900 98h4v4h-4zM884 110h4v4h-4zM876 114h4v4h-4zM908 114h4v4h-4zM896 126h4v4h-4zM880 130h4v4h-4zM888 130h4v4h-4zM848 134h4v4h-4zM920 134h4v4h-4zM844 138h4v4h-4zM868 138h4v4h-4zM880 138h4v4h-4zM848 142h4v4h-4zM856 142h4v4h-4zM844 150h4v4h-4zM840 158h4v4h-4zM960 178h4v4h-4zM956 182h4v4h-4zM968 182h4v4h-4zM972 186h4v4h-4z"/><path fill="#9b8c96" d="M136 82h4v4h-4zM140 82h4v4h-4zM379 74h4v4h-4zM399 74h4v4h-4zM411 82h4v4h-4zM447 114h4v4h-4zM327 122h4v4h-4zM673 146h4v4h-4zM601 154h4v4h-4zM701 174h4v4h-4zM888 102h4v4h-4zM912 106h4v4h-4zM916 106h4v4h-4zM856 110h4v4h-4zM864 114h4v4h-4zM880 122h4v4h-4zM860 126h4v4h-4zM848 130h4v4h-4zM852 142h4v4h-4z"/><path fill="#a091a0" d="M144 82h4v4h-4zM415 86h4v4h-4zM431 102h4v4h-4zM335 106h4v4h-4zM697 162h4v4h-4zM844 106h4v4h-4zM896 106h4v4h-4zM920 110h4v4h-4zM840 118h4v4h-4zM912 118h4v4h-4zM876 126h4v4h-4zM916 126h4v4h-4zM844 130h4v4h-4zM848 138h4v4h-4zM844 142h4v4h-4zM848 146h4v4h-4zM936 158h4v4h-4z"/><path fill="#aa96a5" d="M160 82h4v4h-4zM347 70h4v4h-4zM343 98h4v4h-4zM355 98h4v4h-4zM331 118h4v4h-4zM653 126h4v4h-4zM896 94h4v4h-4zM920 98h4v4h-4zM924 98h4v4h-4zM876 102h4v4h-4zM852 118h4v4h-4zM860 122h4v4h-4zM872 130h4v4h-4zM864 138h4v4h-4zM928 138h4v4h-4zM940 162h4v4h-4z"/><path fill="#a591a0" d="M164 82h4v4h-4zM88 86h4v4h-4zM172 86h4v4h-4zM391 70h4v4h-4zM375 74h4v4h-4zM387 74h4v4h-4zM391 82h4v4h-4zM427 86h4v4h-4zM351 94h4v4h-4zM339 98h4v4h-4zM351 98h4v4h-4zM335 102h4v4h-4zM427 102h4v4h-4zM443 110h4v4h-4zM323 122h4v4h-4zM633 130h4v4h-4zM657 134h4v4h-4zM669 134h4v4h-4zM665 138h4v4h-4zM673 138h4v4h-4zM589 146h4v4h-4zM689 154h4v4h-4zM709 182h4v4h-4zM713 186h4v4h-4zM892 90h4v4h-4zM856 94h4v4h-4zM884 94h4v4h-4zM900 94h4v4h-4zM880 98h4v4h-4zM896 102h4v4h-4zM920 102h4v4h-4zM840 106h4v4h-4zM900 106h4v4h-4zM864 110h4v4h-4zM888 110h4v4h-4zM904 110h4v4h-4zM912 110h4v4h-4zM856 114h4v4h-4zM924 114h4v4h-4zM856 118h4v4h-4zM868 118h4v4h-4zM872 118h4v4h-4zM840 122h4v4h-4zM888 122h4v4h-4zM904 122h4v4h-4zM852 130h4v4h-4zM860 134h4v4h-4zM864 134h4v4h-4zM860 138h4v4h-4zM840 150h4v4h-4z"/><path fill="#b4aab4" d="M168 82h4v4h-4zM367 62h4v4h-4zM427 82h4v4h-4zM439 102h4v4h-4zM451 110h4v4h-4zM597 138h4v4h-4zM876 86h4v4h-4zM924 90h4v4h-4zM928 122h4v4h-4zM964 174h4v4h-4z"/><path fill="#b4a5af" d="M84 86h4v4h-4zM371 70h4v4h-4zM403 70h4v4h-4zM371 74h4v4h-4zM423 82h4v4h-4zM431 90h4v4h-4zM435 94h4v4h-4zM431 98h4v4h-4zM459 98h4v4h-4zM323 102h4v4h-4zM451 118h4v4h-4zM657 126h4v4h-4zM605 134h4v4h-4zM621 134h4v4h-4zM709 170h4v4h-4zM872 86h4v4h-4zM900 86h4v4h-4zM876 90h4v4h-4zM908 90h4v4h-4zM904 94h4v4h-4zM924 94h4v4h-4zM856 98h4v4h-4zM872 98h4v4h-4zM916 102h4v4h-4zM928 102h4v4h-4zM932 110h4v4h-4zM852 114h4v4h-4zM920 114h4v4h-4zM928 114h4v4h-4zM932 114h4v4h-4zM864 118h4v4h-4zM920 118h4v4h-4zM932 142h4v4h-4zM940 158h4v4h-4zM960 162h4v4h-4zM968 166h4v4h-4zM948 170h4v4h-4zM968 174h4v4h-4zM968 178h4v4h-4z"/><path fill="#8c7887" d="M100 86h4v4h-4zM160 86h4v4h-4zM76 94h4v4h-4zM176 94h4v4h-4zM180 94h4v4h-4zM192 106h4v4h-4zM383 74h4v4h-4zM427 106h4v4h-4zM339 114h4v4h-4zM323 130h4v4h-4zM327 134h4v4h-4zM323 138h4v4h-4zM455 138h4v4h-4zM459 138h4v4h-4zM593 150h4v4h-4zM589 154h4v4h-4zM681 154h4v4h-4zM920 94h4v4h-4zM900 114h4v4h-4zM912 114h4v4h-4zM884 126h4v4h-4zM888 134h4v4h-4zM852 138h4v4h-4zM860 146h4v4h-4zM928 154h4v4h-4zM960 190h4v4h-4zM972 190h4v4h-4zM960 194h4v4h-4zM964 194h4v4h-4zM976 194h4v4h-4z"/><path fill="#6e5f69" d="M108 86h4v4h-4zM68 102h4v4h-4zM407 86h4v4h-4zM367 94h4v4h-4zM439 122h4v4h-4zM455 142h4v4h-4zM645 134h4v4h-4zM653 138h4v4h-4zM617 150h4v4h-4zM609 154h4v4h-4zM601 158h4v4h-4zM677 158h4v4h-4zM908 146h4v4h-4zM912 150h4v4h-4zM852 162h4v4h-4zM848 166h4v4h-4zM956 186h4v4h-4z"/><path fill="#554650" d="M112 86h4v4h-4zM172 94h4v4h-4zM184 106h4v4h-4zM589 166h4v4h-4zM717 202h4v4h-4zM896 158h4v4h-4zM888 162h4v4h-4zM868 166h4v4h-4zM928 170h4v4h-4zM848 174h4v4h-4zM864 174h4v4h-4zM940 182h4v4h-4zM952 194h4v4h-4zM956 198h4v4h-4z"/><path fill="#503c46" d="M116 86h4v4h-4zM92 90h4v4h-4zM64 106h4v4h-4zM888 158h4v4h-4zM872 166h4v4h-4zM932 174h4v4h-4zM840 186h4v4h-4z"/><path fill="#463241" d="M120 86h4v4h-4zM371 94h4v4h-4zM609 158h4v4h-4zM860 178h4v4h-4z"/><path fill="#3c2d37" d="M124 86h4v4h-4zM136 86h4v4h-4zM705 190h4v4h-4zM892 162h4v4h-4z"/><path fill="#32232d" d="M128 86h4v4h-4zM160 90h4v4h-4zM415 106h4v4h-4zM669 154h4v4h-4zM701 186h4v4h-4zM912 162h4v4h-4z"/><path fill="#37232d" d="M132 86h4v4h-4zM327 142h4v4h-4zM323 146h4v4h-4zM649 138h4v4h-4z"/><path fill="#463741" d="M140 86h4v4h-4zM601 162h4v4h-4zM593 166h4v4h-4zM709 194h4v4h-4zM900 154h4v4h-4zM904 154h4v4h-4zM916 162h4v4h-4zM876 170h4v4h-4zM868 174h4v4h-4z"/><path fill="#503c4b" d="M144 86h4v4h-4zM164 90h4v4h-4zM375 90h4v4h-4zM399 90h4v4h-4zM633 142h4v4h-4zM629 146h4v4h-4zM581 170h4v4h-4zM852 174h4v4h-4z"/><path fill="#5a4650" d="M148 86h4v4h-4zM860 166h4v4h-4zM872 170h4v4h-4zM948 190h4v4h-4z"/><path fill="#73646e" d="M152 86h4v4h-4zM379 86h4v4h-4zM399 86h4v4h-4zM331 126h4v4h-4zM335 126h4v4h-4zM439 130h4v4h-4zM649 134h4v4h-4zM625 146h4v4h-4zM597 158h4v4h-4zM701 178h4v4h-4zM908 142h4v4h-4zM888 146h4v4h-4zM896 146h4v4h-4zM884 150h4v4h-4zM924 158h4v4h-4zM856 162h4v4h-4zM932 170h4v4h-4zM960 198h4v4h-4z"/><path fill="#82737d" d="M156 86h4v4h-4zM88 90h4v4h-4zM200 122h4v4h-4zM383 82h4v4h-4zM367 86h4v4h-4zM411 90h4v4h-4zM415 94h4v4h-4zM359 98h4v4h-4zM427 114h4v4h-4zM451 138h4v4h-4zM629 138h4v4h-4zM661 142h4v4h-4zM621 146h4v4h-4zM581 162h4v4h-4zM900 126h4v4h-4zM884 130h4v4h-4zM908 130h4v4h-4zM900 134h4v4h-4zM900 138h4v4h-4zM876 146h4v4h-4zM884 146h4v4h-4zM876 154h4v4h-4zM928 166h4v4h-4zM960 186h4v4h-4zM964 198h4v4h-4z"/><path fill="#9b8c9b" d="M164 86h4v4h-4zM367 82h4v4h-4zM355 90h4v4h-4zM637 134h4v4h-4zM585 150h4v4h-4zM689 162h4v4h-4zM876 106h4v4h-4zM860 130h4v4h-4zM928 146h4v4h-4zM932 146h4v4h-4z"/><path fill="#917d8c" d="M168 86h4v4h-4zM180 98h4v4h-4zM184 102h4v4h-4zM375 78h4v4h-4zM399 78h4v4h-4zM371 82h4v4h-4zM363 86h4v4h-4zM415 90h4v4h-4zM419 94h4v4h-4zM423 110h4v4h-4zM335 114h4v4h-4zM447 122h4v4h-4zM633 134h4v4h-4zM641 134h4v4h-4zM633 138h4v4h-4zM657 138h4v4h-4zM613 142h4v4h-4zM685 158h4v4h-4zM693 162h4v4h-4zM697 170h4v4h-4zM717 194h4v4h-4zM900 102h4v4h-4zM888 114h4v4h-4zM892 114h4v4h-4zM848 118h4v4h-4zM904 118h4v4h-4zM884 122h4v4h-4zM900 130h4v4h-4zM868 142h4v4h-4zM872 142h4v4h-4zM872 150h4v4h-4zM876 150h4v4h-4zM932 158h4v4h-4zM840 166h4v4h-4zM944 174h4v4h-4zM956 178h4v4h-4zM976 186h4v4h-4z"/><path fill="#a596a5" d="M72 90h4v4h-4zM72 94h4v4h-4zM387 82h4v4h-4zM423 90h4v4h-4zM339 102h4v4h-4zM435 110h4v4h-4zM649 126h4v4h-4zM661 130h4v4h-4zM709 174h4v4h-4zM868 98h4v4h-4zM892 98h4v4h-4zM904 102h4v4h-4zM896 110h4v4h-4zM840 130h4v4h-4zM856 130h4v4h-4zM856 138h4v4h-4zM924 142h4v4h-4zM944 170h4v4h-4z"/><path fill="#91828c" d="M80 90h4v4h-4zM196 114h4v4h-4zM395 82h4v4h-4zM355 94h4v4h-4zM351 102h4v4h-4zM447 126h4v4h-4zM459 134h4v4h-4zM621 138h4v4h-4zM621 142h4v4h-4zM585 154h4v4h-4zM693 170h4v4h-4zM713 182h4v4h-4zM908 98h4v4h-4zM856 126h4v4h-4zM864 130h4v4h-4zM904 130h4v4h-4zM844 134h4v4h-4zM840 146h4v4h-4zM864 146h4v4h-4zM868 150h4v4h-4zM948 174h4v4h-4zM960 182h4v4h-4zM964 186h4v4h-4zM976 198h4v4h-4z"/><path fill="#8c7d87" d="M84 90h4v4h-4zM64 98h4v4h-4zM68 98h4v4h-4zM395 78h4v4h-4zM423 102h4v4h-4zM451 130h4v4h-4zM625 142h4v4h-4zM609 150h4v4h-4zM581 154h4v4h-4zM892 110h4v4h-4zM864 126h4v4h-4zM912 134h4v4h-4zM888 138h4v4h-4zM840 142h4v4h-4zM872 146h4v4h-4zM920 146h4v4h-4zM932 154h4v4h-4zM848 158h4v4h-4zM952 178h4v4h-4zM968 190h4v4h-4zM976 190h4v4h-4zM968 194h4v4h-4z"/><path fill="#41323c" d="M96 90h4v4h-4zM196 126h4v4h-4zM379 90h4v4h-4zM363 102h4v4h-4zM435 130h4v4h-4zM455 154h4v4h-4zM661 146h4v4h-4zM617 154h4v4h-4zM844 186h4v4h-4zM972 210h4v4h-4z"/><path fill="#2d1e28" d="M100 90h4v4h-4zM104 90h4v4h-4zM156 90h4v4h-4zM88 94h4v4h-4zM92 94h4v4h-4zM168 94h4v4h-4zM84 98h4v4h-4zM172 98h4v4h-4zM76 102h4v4h-4zM176 102h4v4h-4zM68 106h4v4h-4zM180 106h4v4h-4zM64 110h4v4h-4zM184 114h4v4h-4zM188 118h4v4h-4zM192 122h4v4h-4zM192 126h4v4h-4zM196 130h4v4h-4zM200 134h4v4h-4zM200 138h4v4h-4zM383 90h4v4h-4zM387 90h4v4h-4zM391 90h4v4h-4zM375 94h4v4h-4zM379 94h4v4h-4zM399 94h4v4h-4zM403 94h4v4h-4zM367 98h4v4h-4zM371 98h4v4h-4zM407 98h4v4h-4zM411 102h4v4h-4zM363 106h4v4h-4zM359 110h4v4h-4zM415 110h4v4h-4zM355 114h4v4h-4zM419 114h4v4h-4zM355 118h4v4h-4zM423 118h4v4h-4zM351 122h4v4h-4zM427 122h4v4h-4zM347 126h4v4h-4zM427 126h4v4h-4zM343 130h4v4h-4zM431 130h4v4h-4zM339 134h4v4h-4zM435 134h4v4h-4zM335 138h4v4h-4zM439 138h4v4h-4zM331 142h4v4h-4zM443 142h4v4h-4zM327 146h4v4h-4zM443 146h4v4h-4zM447 146h4v4h-4zM323 150h4v4h-4zM447 150h4v4h-4zM451 154h4v4h-4zM455 158h4v4h-4zM459 162h4v4h-4zM645 138h4v4h-4zM641 142h4v4h-4zM653 142h4v4h-4zM633 146h4v4h-4zM637 146h4v4h-4zM657 146h4v4h-4zM629 150h4v4h-4zM661 150h4v4h-4zM621 154h4v4h-4zM625 154h4v4h-4zM665 154h4v4h-4zM613 158h4v4h-4zM617 158h4v4h-4zM669 158h4v4h-4zM673 158h4v4h-4zM605 162h4v4h-4zM609 162h4v4h-4zM613 162h4v4h-4zM673 162h4v4h-4zM677 162h4v4h-4zM601 166h4v4h-4zM605 166h4v4h-4zM677 166h4v4h-4zM681 166h4v4h-4zM589 170h4v4h-4zM593 170h4v4h-4zM597 170h4v4h-4zM681 170h4v4h-4zM685 170h4v4h-4zM581 174h4v4h-4zM585 174h4v4h-4zM589 174h4v4h-4zM685 174h4v4h-4zM689 174h4v4h-4zM581 178h4v4h-4zM689 178h4v4h-4zM693 178h4v4h-4zM693 182h4v4h-4zM697 182h4v4h-4zM697 186h4v4h-4zM701 190h4v4h-4zM705 194h4v4h-4zM709 198h4v4h-4zM713 202h4v4h-4zM713 206h4v4h-4zM717 206h4v4h-4zM717 210h4v4h-4zM896 162h4v4h-4zM900 162h4v4h-4zM904 162h4v4h-4zM908 162h4v4h-4zM888 166h4v4h-4zM892 166h4v4h-4zM916 166h4v4h-4zM920 166h4v4h-4zM880 170h4v4h-4zM884 170h4v4h-4zM924 170h4v4h-4zM872 174h4v4h-4zM876 174h4v4h-4zM928 174h4v4h-4zM868 178h4v4h-4zM872 178h4v4h-4zM932 178h4v4h-4zM860 182h4v4h-4zM864 182h4v4h-4zM936 182h4v4h-4zM852 186h4v4h-4zM856 186h4v4h-4zM940 186h4v4h-4zM840 190h4v4h-4zM844 190h4v4h-4zM848 190h4v4h-4zM944 190h4v4h-4zM840 194h4v4h-4zM844 194h4v4h-4zM948 194h4v4h-4zM948 198h4v4h-4zM952 198h4v4h-4zM952 202h4v4h-4zM956 202h4v4h-4zM956 206h4v4h-4zM960 206h4v4h-4zM960 210h4v4h-4zM964 210h4v4h-4zM968 210h4v4h-4zM968 214h4v4h-4zM972 214h4v4h-4zM972 218h4v4h-4zM976 218h4v4h-4z"/><path fill="#2d1923" d="M108 90h4v4h-4zM112 90h4v4h-4zM116 90h4v4h-4zM120 90h4v4h-4zM124 90h4v4h-4zM128 90h4v4h-4zM132 90h4v4h-4zM136 90h4v4h-4zM140 90h4v4h-4zM144 90h4v4h-4zM148 90h4v4h-4zM152 90h4v4h-4zM96 94h4v4h-4zM100 94h4v4h-4zM104 94h4v4h-4zM156 94h4v4h-4zM160 94h4v4h-4zM164 94h4v4h-4zM88 98h4v4h-4zM92 98h4v4h-4zM164 98h4v4h-4zM168 98h4v4h-4zM80 102h4v4h-4zM84 102h4v4h-4zM172 102h4v4h-4zM72 106h4v4h-4zM76 106h4v4h-4zM80 106h4v4h-4zM176 106h4v4h-4zM68 110h4v4h-4zM72 110h4v4h-4zM176 110h4v4h-4zM180 110h4v4h-4zM64 114h4v4h-4zM68 114h4v4h-4zM180 114h4v4h-4zM64 118h4v4h-4zM184 118h4v4h-4zM184 122h4v4h-4zM188 122h4v4h-4zM188 126h4v4h-4zM188 130h4v4h-4zM192 130h4v4h-4zM192 134h4v4h-4zM196 134h4v4h-4zM192 138h4v4h-4zM196 138h4v4h-4zM196 142h4v4h-4zM200 142h4v4h-4zM196 146h4v4h-4zM200 146h4v4h-4zM200 150h4v4h-4zM124 182h4v4h-4zM128 182h4v4h-4zM132 182h4v4h-4zM124 186h4v4h-4zM128 186h4v4h-4zM132 186h4v4h-4zM124 190h4v4h-4zM128 190h4v4h-4zM132 190h4v4h-4zM136 190h4v4h-4zM124 194h4v4h-4zM128 194h4v4h-4zM132 194h4v4h-4zM136 194h4v4h-4zM124 198h4v4h-4zM128 198h4v4h-4zM132 198h4v4h-4zM136 198h4v4h-4zM124 202h4v4h-4zM128 202h4v4h-4zM132 202h4v4h-4zM136 202h4v4h-4zM124 206h4v4h-4zM128 206h4v4h-4zM132 206h4v4h-4zM136 206h4v4h-4zM124 210h4v4h-4zM128 210h4v4h-4zM132 210h4v4h-4zM136 210h4v4h-4zM124 214h4v4h-4zM128 214h4v4h-4zM132 214h4v4h-4zM136 214h4v4h-4zM120 218h4v4h-4zM124 218h4v4h-4zM128 218h4v4h-4zM132 218h4v4h-4zM136 218h4v4h-4zM120 222h4v4h-4zM124 222h4v4h-4zM128 222h4v4h-4zM132 222h4v4h-4zM136 222h4v4h-4zM140 222h4v4h-4zM120 226h4v4h-4zM124 226h4v4h-4zM128 226h4v4h-4zM132 226h4v4h-4zM136 226h4v4h-4zM140 226h4v4h-4zM120 230h4v4h-4zM124 230h4v4h-4zM128 230h4v4h-4zM132 230h4v4h-4zM136 230h4v4h-4zM140 230h4v4h-4zM120 234h4v4h-4zM124 234h4v4h-4zM128 234h4v4h-4zM132 234h4v4h-4zM136 234h4v4h-4zM140 234h4v4h-4zM120 238h4v4h-4zM124 238h4v4h-4zM128 238h4v4h-4zM132 238h4v4h-4zM136 238h4v4h-4zM140 238h4v4h-4zM120 242h4v4h-4zM124 242h4v4h-4zM128 242h4v4h-4zM132 242h4v4h-4zM136 242h4v4h-4zM140 242h4v4h-4zM120 246h4v4h-4zM124 246h4v4h-4zM128 246h4v4h-4zM132 246h4v4h-4zM136 246h4v4h-4zM140 246h4v4h-4zM116 250h4v4h-4zM120 250h4v4h-4zM124 250h4v4h-4zM128 250h4v4h-4zM132 250h4v4h-4zM136 250h4v4h-4zM140 250h4v4h-4zM116 254h4v4h-4zM120 254h4v4h-4zM124 254h4v4h-4zM128 254h4v4h-4zM132 254h4v4h-4zM136 254h4v4h-4zM140 254h4v4h-4zM116 258h4v4h-4zM120 258h4v4h-4zM124 258h4v4h-4zM128 258h4v4h-4zM132 258h4v4h-4zM136 258h4v4h-4zM140 258h4v4h-4zM144 258h4v4h-4zM116 262h4v4h-4zM120 262h4v4h-4zM124 262h4v4h-4zM128 262h4v4h-4zM132 262h4v4h-4zM136 262h4v4h-4zM140 262h4v4h-4zM144 262h4v4h-4zM116 266h4v4h-4zM120 266h4v4h-4zM124 266h4v4h-4zM128 266h4v4h-4zM132 266h4v4h-4zM136 266h4v4h-4zM140 266h4v4h-4zM144 266h4v4h-4zM116 270h4v4h-4zM120 270h4v4h-4zM124 270h4v4h-4zM128 270h4v4h-4zM132 270h4v4h-4zM136 270h4v4h-4zM140 270h4v4h-4zM144 270h4v4h-4zM116 274h4v4h-4zM120 274h4v4h-4zM124 274h4v4h-4zM128 274h4v4h-4zM132 274h4v4h-4zM136 274h4v4h-4zM140 274h4v4h-4zM144 274h4v4h-4zM383 94h4v4h-4zM387 94h4v4h-4zM391 94h4v4h-4zM395 94h4v4h-4zM375 98h4v4h-4zM379 98h4v4h-4zM383 98h4v4h-4zM387 98h4v4h-4zM391 98h4v4h-4zM395 98h4v4h-4zM399 98h4v4h-4zM403 98h4v4h-4zM367 102h4v4h-4zM371 102h4v4h-4zM375 102h4v4h-4zM379 102h4v4h-4zM395 102h4v4h-4zM399 102h4v4h-4zM403 102h4v4h-4zM407 102h4v4h-4zM367 106h4v4h-4zM371 106h4v4h-4zM403 106h4v4h-4zM407 106h4v4h-4zM411 106h4v4h-4zM363 110h4v4h-4zM367 110h4v4h-4zM411 110h4v4h-4zM359 114h4v4h-4zM363 114h4v4h-4zM411 114h4v4h-4zM415 114h4v4h-4zM359 118h4v4h-4zM415 118h4v4h-4zM419 118h4v4h-4zM355 122h4v4h-4zM359 122h4v4h-4zM419 122h4v4h-4zM423 122h4v4h-4zM351 126h4v4h-4zM355 126h4v4h-4zM419 126h4v4h-4zM423 126h4v4h-4zM347 130h4v4h-4zM351 130h4v4h-4zM423 130h4v4h-4zM427 130h4v4h-4zM343 134h4v4h-4zM347 134h4v4h-4zM351 134h4v4h-4zM427 134h4v4h-4zM431 134h4v4h-4zM339 138h4v4h-4zM343 138h4v4h-4zM347 138h4v4h-4zM431 138h4v4h-4zM435 138h4v4h-4zM335 142h4v4h-4zM339 142h4v4h-4zM343 142h4v4h-4zM431 142h4v4h-4zM435 142h4v4h-4zM439 142h4v4h-4zM331 146h4v4h-4zM335 146h4v4h-4zM339 146h4v4h-4zM435 146h4v4h-4zM439 146h4v4h-4zM327 150h4v4h-4zM331 150h4v4h-4zM335 150h4v4h-4zM439 150h4v4h-4zM443 150h4v4h-4zM323 154h4v4h-4zM327 154h4v4h-4zM331 154h4v4h-4zM443 154h4v4h-4zM447 154h4v4h-4zM323 158h4v4h-4zM327 158h4v4h-4zM443 158h4v4h-4zM447 158h4v4h-4zM451 158h4v4h-4zM323 162h4v4h-4zM447 162h4v4h-4zM451 162h4v4h-4zM455 162h4v4h-4zM451 166h4v4h-4zM455 166h4v4h-4zM459 166h4v4h-4zM455 170h4v4h-4zM459 170h4v4h-4zM455 174h4v4h-4zM459 174h4v4h-4zM459 178h4v4h-4zM387 198h4v4h-4zM391 198h4v4h-4zM379 202h4v4h-4zM383 202h4v4h-4zM387 202h4v4h-4zM391 202h4v4h-4zM395 202h4v4h-4zM379 206h4v4h-4zM383 206h4v4h-4zM387 206h4v4h-4zM391 206h4v4h-4zM395 206h4v4h-4zM399 206h4v4h-4zM379 210h4v4h-4zM383 210h4v4h-4zM387 210h4v4h-4zM391 210h4v4h-4zM395 210h4v4h-4zM399 210h4v4h-4zM375 214h4v4h-4zM379 214h4v4h-4zM383 214h4v4h-4zM387 214h4v4h-4zM391 214h4v4h-4zM395 214h4v4h-4zM399 214h4v4h-4zM375 218h4v4h-4zM379 218h4v4h-4zM383 218h4v4h-4zM387 218h4v4h-4zM391 218h4v4h-4zM395 218h4v4h-4zM399 218h4v4h-4zM375 222h4v4h-4zM379 222h4v4h-4zM383 222h4v4h-4zM387 222h4v4h-4zM391 222h4v4h-4zM395 222h4v4h-4zM399 222h4v4h-4zM403 222h4v4h-4zM375 226h4v4h-4zM379 226h4v4h-4zM383 226h4v4h-4zM387 226h4v4h-4zM391 226h4v4h-4zM395 226h4v4h-4zM399 226h4v4h-4zM403 226h4v4h-4zM375 230h4v4h-4zM379 230h4v4h-4zM383 230h4v4h-4zM387 230h4v4h-4zM391 230h4v4h-4zM395 230h4v4h-4zM399 230h4v4h-4zM403 230h4v4h-4zM375 234h4v4h-4zM379 234h4v4h-4zM383 234h4v4h-4zM387 234h4v4h-4zM391 234h4v4h-4zM395 234h4v4h-4zM399 234h4v4h-4zM403 234h4v4h-4zM371 238h4v4h-4zM375 238h4v4h-4zM379 238h4v4h-4zM383 238h4v4h-4zM387 238h4v4h-4zM391 238h4v4h-4zM395 238h4v4h-4zM399 238h4v4h-4zM403 238h4v4h-4zM371 242h4v4h-4zM375 242h4v4h-4zM379 242h4v4h-4zM383 242h4v4h-4zM387 242h4v4h-4zM391 242h4v4h-4zM395 242h4v4h-4zM399 242h4v4h-4zM403 242h4v4h-4zM371 246h4v4h-4zM375 246h4v4h-4zM379 246h4v4h-4zM383 246h4v4h-4zM387 246h4v4h-4zM391 246h4v4h-4zM395 246h4v4h-4zM399 246h4v4h-4zM403 246h4v4h-4zM407 246h4v4h-4zM371 250h4v4h-4zM375 250h4v4h-4zM379 250h4v4h-4zM383 250h4v4h-4zM387 250h4v4h-4zM391 250h4v4h-4zM395 250h4v4h-4zM399 250h4v4h-4zM403 250h4v4h-4zM407 250h4v4h-4zM371 254h4v4h-4zM375 254h4v4h-4zM379 254h4v4h-4zM383 254h4v4h-4zM387 254h4v4h-4zM391 254h4v4h-4zM395 254h4v4h-4zM399 254h4v4h-4zM403 254h4v4h-4zM407 254h4v4h-4zM371 258h4v4h-4zM375 258h4v4h-4zM379 258h4v4h-4zM383 258h4v4h-4zM387 258h4v4h-4zM391 258h4v4h-4zM395 258h4v4h-4zM399 258h4v4h-4zM403 258h4v4h-4zM407 258h4v4h-4zM367 262h4v4h-4zM371 262h4v4h-4zM375 262h4v4h-4zM379 262h4v4h-4zM383 262h4v4h-4zM387 262h4v4h-4zM391 262h4v4h-4zM395 262h4v4h-4zM399 262h4v4h-4zM403 262h4v4h-4zM407 262h4v4h-4zM367 266h4v4h-4zM371 266h4v4h-4zM375 266h4v4h-4zM379 266h4v4h-4zM383 266h4v4h-4zM387 266h4v4h-4zM391 266h4v4h-4zM395 266h4v4h-4zM399 266h4v4h-4zM403 266h4v4h-4zM407 266h4v4h-4zM367 270h4v4h-4zM371 270h4v4h-4zM375 270h4v4h-4zM379 270h4v4h-4zM383 270h4v4h-4zM387 270h4v4h-4zM391 270h4v4h-4zM395 270h4v4h-4zM399 270h4v4h-4zM403 270h4v4h-4zM407 270h4v4h-4zM411 270h4v4h-4zM367 274h4v4h-4zM371 274h4v4h-4zM375 274h4v4h-4zM379 274h4v4h-4zM383 274h4v4h-4zM387 274h4v4h-4zM391 274h4v4h-4zM395 274h4v4h-4zM399 274h4v4h-4zM403 274h4v4h-4zM407 274h4v4h-4zM411 274h4v4h-4zM645 142h4v4h-4zM649 142h4v4h-4zM641 146h4v4h-4zM645 146h4v4h-4zM649 146h4v4h-4zM653 146h4v4h-4zM633 150h4v4h-4zM637 150h4v4h-4zM641 150h4v4h-4zM653 150h4v4h-4zM657 150h4v4h-4zM629 154h4v4h-4zM633 154h4v4h-4zM657 154h4v4h-4zM661 154h4v4h-4zM621 158h4v4h-4zM625 158h4v4h-4zM629 158h4v4h-4zM661 158h4v4h-4zM665 158h4v4h-4zM617 162h4v4h-4zM621 162h4v4h-4zM625 162h4v4h-4zM665 162h4v4h-4zM669 162h4v4h-4zM609 166h4v4h-4zM613 166h4v4h-4zM617 166h4v4h-4zM621 166h4v4h-4zM669 166h4v4h-4zM673 166h4v4h-4zM601 170h4v4h-4zM605 170h4v4h-4zM609 170h4v4h-4zM613 170h4v4h-4zM673 170h4v4h-4zM677 170h4v4h-4zM593 174h4v4h-4zM597 174h4v4h-4zM601 174h4v4h-4zM605 174h4v4h-4zM609 174h4v4h-4zM677 174h4v4h-4zM681 174h4v4h-4zM585 178h4v4h-4zM589 178h4v4h-4zM593 178h4v4h-4zM597 178h4v4h-4zM601 178h4v4h-4zM681 178h4v4h-4zM685 178h4v4h-4zM581 182h4v4h-4zM585 182h4v4h-4zM589 182h4v4h-4zM593 182h4v4h-4zM597 182h4v4h-4zM685 182h4v4h-4zM689 182h4v4h-4zM581 186h4v4h-4zM585 186h4v4h-4zM589 186h4v4h-4zM689 186h4v4h-4zM693 186h4v4h-4zM581 190h4v4h-4zM693 190h4v4h-4zM697 190h4v4h-4zM697 194h4v4h-4zM701 194h4v4h-4zM701 198h4v4h-4zM705 198h4v4h-4zM701 202h4v4h-4zM705 202h4v4h-4zM709 202h4v4h-4zM705 206h4v4h-4zM709 206h4v4h-4zM709 210h4v4h-4zM713 210h4v4h-4zM713 214h4v4h-4zM717 214h4v4h-4zM713 218h4v4h-4zM717 218h4v4h-4zM717 222h4v4h-4zM645 238h4v4h-4zM649 238h4v4h-4zM637 242h4v4h-4zM641 242h4v4h-4zM645 242h4v4h-4zM649 242h4v4h-4zM653 242h4v4h-4zM657 242h4v4h-4zM637 246h4v4h-4zM641 246h4v4h-4zM645 246h4v4h-4zM649 246h4v4h-4zM653 246h4v4h-4zM657 246h4v4h-4zM637 250h4v4h-4zM641 250h4v4h-4zM645 250h4v4h-4zM649 250h4v4h-4zM653 250h4v4h-4zM657 250h4v4h-4zM637 254h4v4h-4zM641 254h4v4h-4zM645 254h4v4h-4zM649 254h4v4h-4zM653 254h4v4h-4zM657 254h4v4h-4zM637 258h4v4h-4zM641 258h4v4h-4zM645 258h4v4h-4zM649 258h4v4h-4zM653 258h4v4h-4zM657 258h4v4h-4zM637 262h4v4h-4zM641 262h4v4h-4zM645 262h4v4h-4zM649 262h4v4h-4zM653 262h4v4h-4zM657 262h4v4h-4zM633 266h4v4h-4zM637 266h4v4h-4zM641 266h4v4h-4zM645 266h4v4h-4zM649 266h4v4h-4zM653 266h4v4h-4zM657 266h4v4h-4zM661 266h4v4h-4zM633 270h4v4h-4zM637 270h4v4h-4zM641 270h4v4h-4zM645 270h4v4h-4zM649 270h4v4h-4zM653 270h4v4h-4zM657 270h4v4h-4zM661 270h4v4h-4zM633 274h4v4h-4zM637 274h4v4h-4zM641 274h4v4h-4zM645 274h4v4h-4zM649 274h4v4h-4zM653 274h4v4h-4zM657 274h4v4h-4zM661 274h4v4h-4zM896 166h4v4h-4zM900 166h4v4h-4zM904 166h4v4h-4zM908 166h4v4h-4zM912 166h4v4h-4zM888 170h4v4h-4zM892 170h4v4h-4zM896 170h4v4h-4zM900 170h4v4h-4zM904 170h4v4h-4zM908 170h4v4h-4zM912 170h4v4h-4zM916 170h4v4h-4zM920 170h4v4h-4zM880 174h4v4h-4zM884 174h4v4h-4zM888 174h4v4h-4zM892 174h4v4h-4zM916 174h4v4h-4zM920 174h4v4h-4zM924 174h4v4h-4zM876 178h4v4h-4zM880 178h4v4h-4zM884 178h4v4h-4zM924 178h4v4h-4zM928 178h4v4h-4zM868 182h4v4h-4zM872 182h4v4h-4zM876 182h4v4h-4zM880 182h4v4h-4zM928 182h4v4h-4zM932 182h4v4h-4zM860 186h4v4h-4zM864 186h4v4h-4zM868 186h4v4h-4zM872 186h4v4h-4zM932 186h4v4h-4zM936 186h4v4h-4zM852 190h4v4h-4zM856 190h4v4h-4zM860 190h4v4h-4zM864 190h4v4h-4zM868 190h4v4h-4zM936 190h4v4h-4zM940 190h4v4h-4zM848 194h4v4h-4zM852 194h4v4h-4zM856 194h4v4h-4zM860 194h4v4h-4zM940 194h4v4h-4zM944 194h4v4h-4zM840 198h4v4h-4zM844 198h4v4h-4zM848 198h4v4h-4zM852 198h4v4h-4zM856 198h4v4h-4zM940 198h4v4h-4zM944 198h4v4h-4zM840 202h4v4h-4zM844 202h4v4h-4zM848 202h4v4h-4zM852 202h4v4h-4zM944 202h4v4h-4zM948 202h4v4h-4zM840 206h4v4h-4zM844 206h4v4h-4zM948 206h4v4h-4zM952 206h4v4h-4zM840 210h4v4h-4zM952 210h4v4h-4zM956 210h4v4h-4zM952 214h4v4h-4zM956 214h4v4h-4zM960 214h4v4h-4zM964 214h4v4h-4zM956 218h4v4h-4zM960 218h4v4h-4zM964 218h4v4h-4zM968 218h4v4h-4zM960 222h4v4h-4zM964 222h4v4h-4zM968 222h4v4h-4zM972 222h4v4h-4zM976 222h4v4h-4zM964 226h4v4h-4zM968 226h4v4h-4zM972 226h4v4h-4zM976 226h4v4h-4zM968 230h4v4h-4zM972 230h4v4h-4zM976 230h4v4h-4zM972 234h4v4h-4zM976 234h4v4h-4z"/><path fill="#695a64" d="M168 90h4v4h-4zM188 110h4v4h-4zM395 86h4v4h-4zM407 90h4v4h-4zM339 118h4v4h-4zM335 130h4v4h-4zM455 150h4v4h-4zM673 154h4v4h-4zM717 198h4v4h-4zM900 146h4v4h-4zM912 146h4v4h-4zM864 158h4v4h-4zM852 166h4v4h-4zM976 206h4v4h-4z"/><path fill="#877882" d="M172 90h4v4h-4zM176 90h4v4h-4zM403 86h4v4h-4zM367 90h4v4h-4zM427 98h4v4h-4zM331 114h4v4h-4zM431 114h4v4h-4zM435 122h4v4h-4zM645 130h4v4h-4zM625 138h4v4h-4zM669 146h4v4h-4zM581 158h4v4h-4zM685 162h4v4h-4zM888 106h4v4h-4zM892 118h4v4h-4zM904 126h4v4h-4zM896 130h4v4h-4zM916 130h4v4h-4zM896 134h4v4h-4zM908 134h4v4h-4zM884 138h4v4h-4zM852 158h4v4h-4zM868 158h4v4h-4zM840 162h4v4h-4zM972 194h4v4h-4z"/><path fill="#a08c9b" d="M68 94h4v4h-4zM395 74h4v4h-4zM351 90h4v4h-4zM423 94h4v4h-4zM423 98h4v4h-4zM347 102h4v4h-4zM347 106h4v4h-4zM431 106h4v4h-4zM339 110h4v4h-4zM443 114h4v4h-4zM455 122h4v4h-4zM451 126h4v4h-4zM455 130h4v4h-4zM637 130h4v4h-4zM657 130h4v4h-4zM625 134h4v4h-4zM653 134h4v4h-4zM605 142h4v4h-4zM677 146h4v4h-4zM581 150h4v4h-4zM589 150h4v4h-4zM689 158h4v4h-4zM693 166h4v4h-4zM701 170h4v4h-4zM709 178h4v4h-4zM717 182h4v4h-4zM717 190h4v4h-4zM868 94h4v4h-4zM880 94h4v4h-4zM864 106h4v4h-4zM840 110h4v4h-4zM852 110h4v4h-4zM876 110h4v4h-4zM880 110h4v4h-4zM900 110h4v4h-4zM924 110h4v4h-4zM844 114h4v4h-4zM860 114h4v4h-4zM844 118h4v4h-4zM900 118h4v4h-4zM848 122h4v4h-4zM872 122h4v4h-4zM892 122h4v4h-4zM844 126h4v4h-4zM868 130h4v4h-4zM840 134h4v4h-4zM868 134h4v4h-4zM876 134h4v4h-4zM872 138h4v4h-4zM916 138h4v4h-4zM924 138h4v4h-4zM864 142h4v4h-4zM928 142h4v4h-4zM852 146h4v4h-4zM928 150h4v4h-4zM948 166h4v4h-4z"/><path fill="#735f6e" d="M80 94h4v4h-4zM371 86h4v4h-4zM391 86h4v4h-4zM419 106h4v4h-4zM331 134h4v4h-4zM673 150h4v4h-4zM589 162h4v4h-4zM860 162h4v4h-4zM868 170h4v4h-4z"/><path fill="#695564" d="M84 94h4v4h-4zM383 86h4v4h-4zM343 118h4v4h-4zM431 122h4v4h-4zM447 138h4v4h-4zM451 146h4v4h-4zM459 154h4v4h-4zM892 146h4v4h-4zM904 146h4v4h-4zM880 154h4v4h-4zM884 162h4v4h-4zM856 166h4v4h-4zM856 174h4v4h-4z"/><path fill="#371928" d="M108 94h4v4h-4zM96 98h4v4h-4zM160 98h4v4h-4zM168 102h4v4h-4zM72 114h4v4h-4zM188 134h4v4h-4zM192 142h4v4h-4zM196 150h4v4h-4zM124 178h4v4h-4zM136 178h4v4h-4zM120 186h4v4h-4zM120 190h4v4h-4zM140 190h4v4h-4zM140 194h4v4h-4zM116 206h4v4h-4zM116 210h4v4h-4zM144 210h4v4h-4zM116 214h4v4h-4zM144 214h4v4h-4zM144 218h4v4h-4zM144 222h4v4h-4zM112 230h4v4h-4zM112 234h4v4h-4zM148 234h4v4h-4zM112 238h4v4h-4zM148 238h4v4h-4zM112 242h4v4h-4zM148 242h4v4h-4zM148 246h4v4h-4zM108 250h4v4h-4zM108 254h4v4h-4zM152 254h4v4h-4zM108 258h4v4h-4zM152 258h4v4h-4zM108 262h4v4h-4zM152 262h4v4h-4zM108 266h4v4h-4zM152 266h4v4h-4zM104 270h4v4h-4zM152 270h4v4h-4zM104 274h4v4h-4zM156 274h4v4h-4zM379 106h4v4h-4zM399 106h4v4h-4zM403 110h4v4h-4zM367 114h4v4h-4zM411 118h4v4h-4zM359 126h4v4h-4zM423 134h4v4h-4zM351 138h4v4h-4zM347 142h4v4h-4zM343 146h4v4h-4zM431 146h4v4h-4zM339 150h4v4h-4zM335 154h4v4h-4zM443 162h4v4h-4zM447 166h4v4h-4zM455 178h4v4h-4zM459 182h4v4h-4zM379 198h4v4h-4zM403 210h4v4h-4zM371 218h4v4h-4zM371 222h4v4h-4zM407 226h4v4h-4zM407 230h4v4h-4zM367 238h4v4h-4zM367 242h4v4h-4zM411 246h4v4h-4zM411 250h4v4h-4zM363 258h4v4h-4zM363 262h4v4h-4zM415 266h4v4h-4zM415 270h4v4h-4zM645 150h4v4h-4zM649 150h4v4h-4zM633 158h4v4h-4zM629 162h4v4h-4zM625 166h4v4h-4zM613 174h4v4h-4zM673 174h4v4h-4zM609 178h4v4h-4zM677 178h4v4h-4zM601 182h4v4h-4zM681 182h4v4h-4zM597 186h4v4h-4zM589 190h4v4h-4zM581 194h4v4h-4zM701 206h4v4h-4zM705 210h4v4h-4zM713 222h4v4h-4zM717 226h4v4h-4zM637 238h4v4h-4zM657 238h4v4h-4zM633 242h4v4h-4zM661 242h4v4h-4zM633 246h4v4h-4zM661 246h4v4h-4zM629 258h4v4h-4zM629 262h4v4h-4zM665 262h4v4h-4zM629 266h4v4h-4zM665 266h4v4h-4zM900 174h4v4h-4zM904 174h4v4h-4zM908 174h4v4h-4zM884 182h4v4h-4zM928 186h4v4h-4zM872 190h4v4h-4zM932 190h4v4h-4zM868 194h4v4h-4zM856 202h4v4h-4zM940 202h4v4h-4zM844 210h4v4h-4zM840 214h4v4h-4zM952 218h4v4h-4zM964 230h4v4h-4zM968 234h4v4h-4zM972 238h4v4h-4z"/><path fill="#461932" d="M112 94h4v4h-4zM156 98h4v4h-4zM164 102h4v4h-4zM128 170h4v4h-4zM140 178h4v4h-4zM116 190h4v4h-4zM144 194h4v4h-4zM112 206h4v4h-4zM148 210h4v4h-4zM108 222h4v4h-4zM152 226h4v4h-4zM104 238h4v4h-4zM104 242h4v4h-4zM156 242h4v4h-4zM100 258h4v4h-4zM160 258h4v4h-4zM160 262h4v4h-4zM96 274h4v4h-4zM164 274h4v4h-4zM379 110h4v4h-4zM403 114h4v4h-4zM419 134h4v4h-4zM427 146h4v4h-4zM439 162h4v4h-4zM323 174h4v4h-4zM451 178h4v4h-4zM379 194h4v4h-4zM375 198h4v4h-4zM371 206h4v4h-4zM407 210h4v4h-4zM367 222h4v4h-4zM411 226h4v4h-4zM363 238h4v4h-4zM415 242h4v4h-4zM359 254h4v4h-4zM419 258h4v4h-4zM355 270h4v4h-4zM423 274h4v4h-4zM633 162h4v4h-4zM629 166h4v4h-4zM673 178h4v4h-4zM609 182h4v4h-4zM677 182h4v4h-4zM597 190h4v4h-4zM585 198h4v4h-4zM701 210h4v4h-4zM629 242h4v4h-4zM665 242h4v4h-4zM625 258h4v4h-4zM669 258h4v4h-4zM621 270h4v4h-4zM673 270h4v4h-4zM920 182h4v4h-4zM924 186h4v4h-4zM928 190h4v4h-4zM932 194h4v4h-4zM868 198h4v4h-4zM940 206h4v4h-4zM852 210h4v4h-4zM948 218h4v4h-4zM960 234h4v4h-4z"/><path fill="#4b1932" d="M116 94h4v4h-4zM140 94h4v4h-4zM144 94h4v4h-4zM88 106h4v4h-4zM76 114h4v4h-4zM72 118h4v4h-4zM176 118h4v4h-4zM196 158h4v4h-4zM132 170h4v4h-4zM116 186h4v4h-4zM144 190h4v4h-4zM112 202h4v4h-4zM148 206h4v4h-4zM108 218h4v4h-4zM152 222h4v4h-4zM104 234h4v4h-4zM156 238h4v4h-4zM100 250h4v4h-4zM160 250h4v4h-4zM100 254h4v4h-4zM160 254h4v4h-4zM96 266h4v4h-4zM164 266h4v4h-4zM96 270h4v4h-4zM164 270h4v4h-4zM395 110h4v4h-4zM375 114h4v4h-4zM407 118h4v4h-4zM363 126h4v4h-4zM415 130h4v4h-4zM355 138h4v4h-4zM339 158h4v4h-4zM435 158h4v4h-4zM335 162h4v4h-4zM331 166h4v4h-4zM327 170h4v4h-4zM447 174h4v4h-4zM455 186h4v4h-4zM459 190h4v4h-4zM399 194h4v4h-4zM403 198h4v4h-4zM367 218h4v4h-4zM411 222h4v4h-4zM363 234h4v4h-4zM415 238h4v4h-4zM359 246h4v4h-4zM359 250h4v4h-4zM419 254h4v4h-4zM355 262h4v4h-4zM355 266h4v4h-4zM423 266h4v4h-4zM423 270h4v4h-4zM649 154h4v4h-4zM625 170h4v4h-4zM621 174h4v4h-4zM669 174h4v4h-4zM605 186h4v4h-4zM593 194h4v4h-4zM581 202h4v4h-4zM693 202h4v4h-4zM697 206h4v4h-4zM709 222h4v4h-4zM641 230h4v4h-4zM645 230h4v4h-4zM649 230h4v4h-4zM653 230h4v4h-4zM633 234h4v4h-4zM625 254h4v4h-4zM669 254h4v4h-4zM621 266h4v4h-4zM673 266h4v4h-4zM900 178h4v4h-4zM908 178h4v4h-4zM884 186h4v4h-4zM864 202h4v4h-4zM848 214h4v4h-4zM844 218h4v4h-4zM956 230h4v4h-4zM964 238h4v4h-4zM968 242h4v4h-4zM972 246h4v4h-4zM976 250h4v4h-4z"/><path fill="#501932" d="M120 94h4v4h-4zM104 98h4v4h-4zM184 134h4v4h-4zM188 142h4v4h-4zM192 150h4v4h-4zM200 166h4v4h-4zM124 170h4v4h-4zM148 202h4v4h-4zM152 218h4v4h-4zM104 230h4v4h-4zM156 234h4v4h-4zM100 246h4v4h-4zM96 262h4v4h-4zM164 262h4v4h-4zM383 110h4v4h-4zM423 142h4v4h-4zM347 150h4v4h-4zM343 154h4v4h-4zM443 170h4v4h-4zM387 190h4v4h-4zM391 190h4v4h-4zM371 202h4v4h-4zM407 206h4v4h-4zM367 214h4v4h-4zM363 230h4v4h-4zM415 234h4v4h-4zM419 250h4v4h-4zM355 258h4v4h-4zM351 274h4v4h-4zM645 154h4v4h-4zM653 158h4v4h-4zM665 170h4v4h-4zM617 178h4v4h-4zM601 190h4v4h-4zM589 198h4v4h-4zM689 198h4v4h-4zM705 218h4v4h-4zM661 234h4v4h-4zM717 234h4v4h-4zM625 250h4v4h-4zM669 250h4v4h-4zM621 262h4v4h-4zM673 262h4v4h-4zM617 274h4v4h-4zM904 178h4v4h-4zM880 190h4v4h-4zM936 202h4v4h-4zM860 206h4v4h-4zM944 214h4v4h-4zM840 222h4v4h-4zM952 226h4v4h-4z"/><path fill="#551937" d="M124 94h4v4h-4zM96 102h4v4h-4zM168 106h4v4h-4zM84 110h4v4h-4zM64 126h4v4h-4zM140 174h4v4h-4zM116 182h4v4h-4zM148 198h4v4h-4zM108 210h4v4h-4zM152 214h4v4h-4zM104 226h4v4h-4zM156 226h4v4h-4zM100 238h4v4h-4zM160 242h4v4h-4zM96 254h4v4h-4zM164 254h4v4h-4zM164 258h4v4h-4zM92 266h4v4h-4zM92 270h4v4h-4zM168 270h4v4h-4zM387 110h4v4h-4zM399 114h4v4h-4zM403 118h4v4h-4zM411 126h4v4h-4zM419 138h4v4h-4zM355 142h4v4h-4zM427 150h4v4h-4zM439 166h4v4h-4zM331 170h4v4h-4zM327 174h4v4h-4zM323 178h4v4h-4zM447 178h4v4h-4zM379 190h4v4h-4zM375 194h4v4h-4zM407 202h4v4h-4zM367 210h4v4h-4zM363 226h4v4h-4zM415 230h4v4h-4zM359 238h4v4h-4zM419 242h4v4h-4zM355 250h4v4h-4zM355 254h4v4h-4zM423 258h4v4h-4zM351 266h4v4h-4zM427 270h4v4h-4zM641 158h4v4h-4zM657 162h4v4h-4zM661 166h4v4h-4zM613 182h4v4h-4zM609 186h4v4h-4zM677 186h4v4h-4zM681 190h4v4h-4zM597 194h4v4h-4zM585 202h4v4h-4zM701 214h4v4h-4zM625 246h4v4h-4zM669 246h4v4h-4zM621 258h4v4h-4zM673 258h4v4h-4zM617 270h4v4h-4zM677 270h4v4h-4zM892 182h4v4h-4zM916 182h4v4h-4zM872 198h4v4h-4zM940 210h4v4h-4zM852 214h4v4h-4zM848 218h4v4h-4zM948 222h4v4h-4zM956 234h4v4h-4zM960 238h4v4h-4zM964 242h4v4h-4zM968 246h4v4h-4zM972 250h4v4h-4zM976 254h4v4h-4z"/><path fill="#5a1937" d="M128 94h4v4h-4zM132 94h4v4h-4zM152 98h4v4h-4zM160 102h4v4h-4zM196 162h4v4h-4zM128 166h4v4h-4zM132 166h4v4h-4zM200 170h4v4h-4zM144 182h4v4h-4zM112 194h4v4h-4zM152 210h4v4h-4zM104 222h4v4h-4zM156 222h4v4h-4zM100 234h4v4h-4zM160 238h4v4h-4zM96 250h4v4h-4zM164 250h4v4h-4zM92 262h4v4h-4zM168 266h4v4h-4zM88 274h4v4h-4zM379 114h4v4h-4zM407 122h4v4h-4zM363 130h4v4h-4zM339 162h4v4h-4zM435 162h4v4h-4zM335 166h4v4h-4zM455 190h4v4h-4zM459 194h4v4h-4zM371 198h4v4h-4zM411 214h4v4h-4zM363 222h4v4h-4zM415 226h4v4h-4zM359 234h4v4h-4zM423 254h4v4h-4zM351 262h4v4h-4zM427 266h4v4h-4zM347 274h4v4h-4zM637 162h4v4h-4zM673 182h4v4h-4zM593 198h4v4h-4zM581 206h4v4h-4zM697 210h4v4h-4zM709 226h4v4h-4zM621 254h4v4h-4zM617 266h4v4h-4zM677 266h4v4h-4zM896 182h4v4h-4zM888 186h4v4h-4zM932 198h4v4h-4zM868 202h4v4h-4zM844 222h4v4h-4z"/><path fill="#501937" d="M136 94h4v4h-4zM68 122h4v4h-4zM180 126h4v4h-4zM136 170h4v4h-4zM120 174h4v4h-4zM144 186h4v4h-4zM112 198h4v4h-4zM108 214h4v4h-4zM156 230h4v4h-4zM100 242h4v4h-4zM160 246h4v4h-4zM96 258h4v4h-4zM92 274h4v4h-4zM168 274h4v4h-4zM391 110h4v4h-4zM371 118h4v4h-4zM367 122h4v4h-4zM359 134h4v4h-4zM351 146h4v4h-4zM431 154h4v4h-4zM451 182h4v4h-4zM383 190h4v4h-4zM395 190h4v4h-4zM411 218h4v4h-4zM359 242h4v4h-4zM419 246h4v4h-4zM423 262h4v4h-4zM351 270h4v4h-4zM427 274h4v4h-4zM685 194h4v4h-4zM637 230h4v4h-4zM657 230h4v4h-4zM713 230h4v4h-4zM629 238h4v4h-4zM665 238h4v4h-4zM677 274h4v4h-4zM876 194h4v4h-4zM856 210h4v4h-4z"/><path fill="#46192d" d="M148 94h4v4h-4zM92 102h4v4h-4zM172 110h4v4h-4zM200 162h4v4h-4zM120 178h4v4h-4zM112 210h4v4h-4zM108 226h4v4h-4zM152 230h4v4h-4zM156 246h4v4h-4zM100 262h4v4h-4zM160 266h4v4h-4zM367 118h4v4h-4zM411 122h4v4h-4zM351 142h4v4h-4zM411 230h4v4h-4zM415 246h4v4h-4zM419 262h4v4h-4zM681 186h4v4h-4zM713 226h4v4h-4zM621 274h4v4h-4zM673 274h4v4h-4zM896 178h4v4h-4zM912 178h4v4h-4zM872 194h4v4h-4z"/><path fill="#321928" d="M152 94h4v4h-4zM88 102h4v4h-4zM172 106h4v4h-4zM76 110h4v4h-4zM180 118h4v4h-4zM184 126h4v4h-4zM200 154h4v4h-4zM128 178h4v4h-4zM132 178h4v4h-4zM136 182h4v4h-4zM120 194h4v4h-4zM120 198h4v4h-4zM140 198h4v4h-4zM120 202h4v4h-4zM140 202h4v4h-4zM120 206h4v4h-4zM140 206h4v4h-4zM120 210h4v4h-4zM140 210h4v4h-4zM140 214h4v4h-4zM116 218h4v4h-4zM140 218h4v4h-4zM116 222h4v4h-4zM116 226h4v4h-4zM144 226h4v4h-4zM116 230h4v4h-4zM144 230h4v4h-4zM116 234h4v4h-4zM144 234h4v4h-4zM116 238h4v4h-4zM144 238h4v4h-4zM116 242h4v4h-4zM144 242h4v4h-4zM112 246h4v4h-4zM144 246h4v4h-4zM112 250h4v4h-4zM144 250h4v4h-4zM148 250h4v4h-4zM112 254h4v4h-4zM148 254h4v4h-4zM112 258h4v4h-4zM148 258h4v4h-4zM112 262h4v4h-4zM148 262h4v4h-4zM112 266h4v4h-4zM148 266h4v4h-4zM108 270h4v4h-4zM112 270h4v4h-4zM148 270h4v4h-4zM108 274h4v4h-4zM112 274h4v4h-4zM148 274h4v4h-4zM152 274h4v4h-4zM383 102h4v4h-4zM387 102h4v4h-4zM391 102h4v4h-4zM371 110h4v4h-4zM407 110h4v4h-4zM363 118h4v4h-4zM415 122h4v4h-4zM355 130h4v4h-4zM427 138h4v4h-4zM435 150h4v4h-4zM439 154h4v4h-4zM331 158h4v4h-4zM327 162h4v4h-4zM323 166h4v4h-4zM451 170h4v4h-4zM383 198h4v4h-4zM395 198h4v4h-4zM399 202h4v4h-4zM375 206h4v4h-4zM375 210h4v4h-4zM403 214h4v4h-4zM403 218h4v4h-4zM371 226h4v4h-4zM371 230h4v4h-4zM371 234h4v4h-4zM407 234h4v4h-4zM407 238h4v4h-4zM407 242h4v4h-4zM367 246h4v4h-4zM367 250h4v4h-4zM367 254h4v4h-4zM411 254h4v4h-4zM411 258h4v4h-4zM411 262h4v4h-4zM363 266h4v4h-4zM411 266h4v4h-4zM363 270h4v4h-4zM363 274h4v4h-4zM415 274h4v4h-4zM637 154h4v4h-4zM617 170h4v4h-4zM605 178h4v4h-4zM593 186h4v4h-4zM685 186h4v4h-4zM585 190h4v4h-4zM689 190h4v4h-4zM693 194h4v4h-4zM697 198h4v4h-4zM709 214h4v4h-4zM641 238h4v4h-4zM653 238h4v4h-4zM633 250h4v4h-4zM661 250h4v4h-4zM633 254h4v4h-4zM661 254h4v4h-4zM633 258h4v4h-4zM661 258h4v4h-4zM633 262h4v4h-4zM661 262h4v4h-4zM629 270h4v4h-4zM665 270h4v4h-4zM629 274h4v4h-4zM665 274h4v4h-4zM896 174h4v4h-4zM912 174h4v4h-4zM888 178h4v4h-4zM920 178h4v4h-4zM924 182h4v4h-4zM876 186h4v4h-4zM864 194h4v4h-4zM936 194h4v4h-4zM860 198h4v4h-4zM848 206h4v4h-4zM944 206h4v4h-4zM948 210h4v4h-4zM956 222h4v4h-4zM960 226h4v4h-4zM976 238h4v4h-4z"/><path fill="#afa0aa" d="M184 94h4v4h-4zM188 98h4v4h-4zM407 62h4v4h-4zM383 70h4v4h-4zM363 74h4v4h-4zM367 74h4v4h-4zM355 78h4v4h-4zM415 78h4v4h-4zM419 78h4v4h-4zM355 82h4v4h-4zM355 86h4v4h-4zM339 94h4v4h-4zM343 94h4v4h-4zM435 98h4v4h-4zM447 102h4v4h-4zM327 106h4v4h-4zM331 106h4v4h-4zM335 110h4v4h-4zM447 110h4v4h-4zM447 118h4v4h-4zM455 126h4v4h-4zM661 126h4v4h-4zM617 130h4v4h-4zM665 134h4v4h-4zM605 138h4v4h-4zM884 90h4v4h-4zM904 90h4v4h-4zM840 94h4v4h-4zM908 94h4v4h-4zM840 98h4v4h-4zM860 98h4v4h-4zM928 98h4v4h-4zM844 102h4v4h-4zM852 102h4v4h-4zM908 102h4v4h-4zM852 106h4v4h-4zM856 106h4v4h-4zM880 106h4v4h-4zM864 122h4v4h-4zM932 122h4v4h-4zM920 126h4v4h-4zM936 146h4v4h-4zM944 162h4v4h-4zM956 174h4v4h-4zM972 174h4v4h-4zM972 182h4v4h-4z"/><path fill="#e1d7e1" d="M196 94h4v4h-4zM673 82h4v4h-4zM709 118h4v4h-4zM717 118h4v4h-4zM940 90h4v4h-4z"/><path fill="#786973" d="M72 98h4v4h-4zM415 102h4v4h-4zM355 106h4v4h-4zM335 118h4v4h-4zM439 126h4v4h-4zM451 134h4v4h-4zM459 142h4v4h-4zM455 146h4v4h-4zM713 194h4v4h-4zM904 134h4v4h-4zM896 142h4v4h-4zM888 150h4v4h-4zM872 158h4v4h-4zM932 166h4v4h-4zM944 182h4v4h-4zM948 186h4v4h-4zM952 190h4v4h-4zM968 202h4v4h-4z"/><path fill="#5a4b55" d="M76 98h4v4h-4zM180 102h4v4h-4zM192 118h4v4h-4zM447 142h4v4h-4zM459 146h4v4h-4zM641 138h4v4h-4zM621 150h4v4h-4zM613 154h4v4h-4zM605 158h4v4h-4zM597 162h4v4h-4zM697 178h4v4h-4zM709 190h4v4h-4zM896 150h4v4h-4zM888 154h4v4h-4zM920 158h4v4h-4zM856 170h4v4h-4zM844 178h4v4h-4zM844 182h4v4h-4z"/><path fill="#321e28" d="M80 98h4v4h-4zM395 90h4v4h-4zM597 166h4v4h-4zM864 178h4v4h-4zM856 182h4v4h-4zM848 186h4v4h-4zM976 214h4v4h-4z"/><path fill="#41192d" d="M100 98h4v4h-4zM80 110h4v4h-4zM64 122h4v4h-4zM180 122h4v4h-4zM184 130h4v4h-4zM188 138h4v4h-4zM192 146h4v4h-4zM196 154h4v4h-4zM124 174h4v4h-4zM136 174h4v4h-4zM140 182h4v4h-4zM116 194h4v4h-4zM116 198h4v4h-4zM144 198h4v4h-4zM112 214h4v4h-4zM148 214h4v4h-4zM148 218h4v4h-4zM108 230h4v4h-4zM108 234h4v4h-4zM152 234h4v4h-4zM152 238h4v4h-4zM104 246h4v4h-4zM104 250h4v4h-4zM156 250h4v4h-4zM104 254h4v4h-4zM156 254h4v4h-4zM156 258h4v4h-4zM100 266h4v4h-4zM100 270h4v4h-4zM160 270h4v4h-4zM100 274h4v4h-4zM160 274h4v4h-4zM383 106h4v4h-4zM387 106h4v4h-4zM391 106h4v4h-4zM399 110h4v4h-4zM371 114h4v4h-4zM415 126h4v4h-4zM359 130h4v4h-4zM423 138h4v4h-4zM347 146h4v4h-4zM343 150h4v4h-4zM431 150h4v4h-4zM339 154h4v4h-4zM435 154h4v4h-4zM335 158h4v4h-4zM331 162h4v4h-4zM443 166h4v4h-4zM447 170h4v4h-4zM455 182h4v4h-4zM459 186h4v4h-4zM383 194h4v4h-4zM395 194h4v4h-4zM403 202h4v4h-4zM371 210h4v4h-4zM407 214h4v4h-4zM407 218h4v4h-4zM367 226h4v4h-4zM411 234h4v4h-4zM363 242h4v4h-4zM363 246h4v4h-4zM415 250h4v4h-4zM359 258h4v4h-4zM359 262h4v4h-4zM419 266h4v4h-4zM419 270h4v4h-4zM355 274h4v4h-4zM637 158h4v4h-4zM661 162h4v4h-4zM613 178h4v4h-4zM601 186h4v4h-4zM685 190h4v4h-4zM589 194h4v4h-4zM689 194h4v4h-4zM581 198h4v4h-4zM705 214h4v4h-4zM717 230h4v4h-4zM637 234h4v4h-4zM657 234h4v4h-4zM633 238h4v4h-4zM661 238h4v4h-4zM629 246h4v4h-4zM665 246h4v4h-4zM629 250h4v4h-4zM665 250h4v4h-4zM625 262h4v4h-4zM669 262h4v4h-4zM625 266h4v4h-4zM669 266h4v4h-4zM888 182h4v4h-4zM876 190h4v4h-4zM936 198h4v4h-4zM860 202h4v4h-4zM856 206h4v4h-4zM944 210h4v4h-4zM844 214h4v4h-4zM840 218h4v4h-4zM952 222h4v4h-4zM964 234h4v4h-4zM968 238h4v4h-4zM972 242h4v4h-4zM976 246h4v4h-4z"/><path fill="#64193c" d="M108 98h4v4h-4zM76 118h4v4h-4zM176 122h4v4h-4zM136 166h4v4h-4zM120 170h4v4h-4zM108 202h4v4h-4zM104 214h4v4h-4zM100 226h4v4h-4zM160 230h4v4h-4zM96 238h4v4h-4zM164 242h4v4h-4zM168 254h4v4h-4zM88 266h4v4h-4zM172 266h4v4h-4zM391 114h4v4h-4zM399 118h4v4h-4zM367 126h4v4h-4zM411 130h4v4h-4zM419 142h4v4h-4zM427 154h4v4h-4zM331 174h4v4h-4zM327 178h4v4h-4zM447 182h4v4h-4zM383 186h4v4h-4zM387 186h4v4h-4zM391 186h4v4h-4zM395 186h4v4h-4zM407 198h4v4h-4zM459 198h4v4h-4zM363 214h4v4h-4zM427 258h4v4h-4zM347 266h4v4h-4zM431 270h4v4h-4zM649 158h4v4h-4zM597 198h4v4h-4zM685 198h4v4h-4zM585 206h4v4h-4zM637 226h4v4h-4zM657 226h4v4h-4zM673 250h4v4h-4zM613 270h4v4h-4zM681 270h4v4h-4zM900 182h4v4h-4zM880 194h4v4h-4zM936 206h4v4h-4zM852 218h4v4h-4zM956 238h4v4h-4z"/><path fill="#7d1e46" d="M112 98h4v4h-4zM80 118h4v4h-4zM180 134h4v4h-4zM192 162h4v4h-4zM148 182h4v4h-4zM104 202h4v4h-4zM160 214h4v4h-4zM92 234h4v4h-4zM172 246h4v4h-4zM80 266h4v4h-4zM403 126h4v4h-4zM363 138h4v4h-4zM423 154h4v4h-4zM323 190h4v4h-4zM371 190h4v4h-4zM411 198h4v4h-4zM359 214h4v4h-4zM419 218h4v4h-4zM351 234h4v4h-4zM427 238h4v4h-4zM339 266h4v4h-4zM439 270h4v4h-4zM681 198h4v4h-4zM593 206h4v4h-4zM685 266h4v4h-4zM605 274h4v4h-4zM689 274h4v4h-4zM912 186h4v4h-4zM920 190h4v4h-4zM880 198h4v4h-4zM964 254h4v4h-4z"/><path fill="#821e4b" d="M116 98h4v4h-4zM144 98h4v4h-4zM96 106h4v4h-4zM160 106h4v4h-4zM76 122h4v4h-4zM188 154h4v4h-4zM128 158h4v4h-4zM132 158h4v4h-4zM152 190h4v4h-4zM100 210h4v4h-4zM160 210h4v4h-4zM164 222h4v4h-4zM92 230h4v4h-4zM172 242h4v4h-4zM84 250h4v4h-4zM176 254h4v4h-4zM80 262h4v4h-4zM180 262h4v4h-4zM76 270h4v4h-4zM184 274h4v4h-4zM379 122h4v4h-4zM375 126h4v4h-4zM359 146h4v4h-4zM351 158h4v4h-4zM331 182h4v4h-4zM399 182h4v4h-4zM407 190h4v4h-4zM447 190h4v4h-4zM367 194h4v4h-4zM455 202h4v4h-4zM459 206h4v4h-4zM359 210h4v4h-4zM419 214h4v4h-4zM351 230h4v4h-4zM427 234h4v4h-4zM347 242h4v4h-4zM431 242h4v4h-4zM343 250h4v4h-4zM435 254h4v4h-4zM339 258h4v4h-4zM339 262h4v4h-4zM439 262h4v4h-4zM439 266h4v4h-4zM335 270h4v4h-4zM443 274h4v4h-4zM649 162h4v4h-4zM677 194h4v4h-4zM605 198h4v4h-4zM589 210h4v4h-4zM697 218h4v4h-4zM629 226h4v4h-4zM705 230h4v4h-4zM713 242h4v4h-4zM613 254h4v4h-4zM681 254h4v4h-4zM609 262h4v4h-4zM685 262h4v4h-4zM605 270h4v4h-4zM689 270h4v4h-4zM900 186h4v4h-4zM868 210h4v4h-4zM864 214h4v4h-4zM860 218h4v4h-4zM940 218h4v4h-4zM960 250h4v4h-4z"/><path fill="#8c2350" d="M120 98h4v4h-4zM64 134h4v4h-4zM184 146h4v4h-4zM124 158h4v4h-4zM136 158h4v4h-4zM192 166h4v4h-4zM144 170h4v4h-4zM148 178h4v4h-4zM108 186h4v4h-4zM160 206h4v4h-4zM96 214h4v4h-4zM168 226h4v4h-4zM88 234h4v4h-4zM172 234h4v4h-4zM84 242h4v4h-4zM176 246h4v4h-4zM80 254h4v4h-4zM180 254h4v4h-4zM76 262h4v4h-4zM184 266h4v4h-4zM72 274h4v4h-4zM188 274h4v4h-4zM383 122h4v4h-4zM399 126h4v4h-4zM343 170h4v4h-4zM379 178h4v4h-4zM395 178h4v4h-4zM403 182h4v4h-4zM371 186h4v4h-4zM367 190h4v4h-4zM323 194h4v4h-4zM363 198h4v4h-4zM359 206h4v4h-4zM355 214h4v4h-4zM423 218h4v4h-4zM351 222h4v4h-4zM427 226h4v4h-4zM347 234h4v4h-4zM431 238h4v4h-4zM343 242h4v4h-4zM435 246h4v4h-4zM339 250h4v4h-4zM439 254h4v4h-4zM335 262h4v4h-4zM443 262h4v4h-4zM443 266h4v4h-4zM331 270h4v4h-4zM447 274h4v4h-4zM641 166h4v4h-4zM657 170h4v4h-4zM661 174h4v4h-4zM625 182h4v4h-4zM621 186h4v4h-4zM617 190h4v4h-4zM597 206h4v4h-4zM581 218h4v4h-4zM637 218h4v4h-4zM657 218h4v4h-4zM701 226h4v4h-4zM621 234h4v4h-4zM673 234h4v4h-4zM709 238h4v4h-4zM685 258h4v4h-4zM689 266h4v4h-4zM601 274h4v4h-4zM693 274h4v4h-4zM904 186h4v4h-4zM892 190h4v4h-4zM932 206h4v4h-4zM948 234h4v4h-4zM840 238h4v4h-4zM964 258h4v4h-4z"/><path fill="#962350" d="M124 98h4v4h-4zM128 154h4v4h-4zM100 202h4v4h-4zM180 250h4v4h-4zM355 210h4v4h-4zM427 222h4v4h-4zM335 254h4v4h-4zM447 266h4v4h-4zM617 238h4v4h-4z"/><path fill="#a02355" d="M128 98h4v4h-4zM132 98h4v4h-4zM100 106h4v4h-4zM176 130h4v4h-4zM152 182h4v4h-4zM100 198h4v4h-4zM168 218h4v4h-4zM172 226h4v4h-4zM84 234h4v4h-4zM80 242h4v4h-4zM188 262h4v4h-4zM411 142h4v4h-4zM379 174h4v4h-4zM407 182h4v4h-4zM363 190h4v4h-4zM323 198h4v4h-4zM423 206h4v4h-4zM427 214h4v4h-4zM431 222h4v4h-4zM435 230h4v4h-4zM439 238h4v4h-4zM443 246h4v4h-4zM331 250h4v4h-4zM447 254h4v4h-4zM327 258h4v4h-4zM451 262h4v4h-4zM323 266h4v4h-4zM323 270h4v4h-4zM455 270h4v4h-4zM323 274h4v4h-4zM677 198h4v4h-4zM585 218h4v4h-4zM693 218h4v4h-4zM673 230h4v4h-4zM681 242h4v4h-4zM597 270h4v4h-4zM697 270h4v4h-4zM848 234h4v4h-4zM844 238h4v4h-4zM840 242h4v4h-4zM900 254h4v4h-4zM912 254h4v4h-4zM896 258h4v4h-4zM916 258h4v4h-4zM916 262h4v4h-4zM968 266h4v4h-4z"/><path fill="#912350" d="M136 98h4v4h-4zM152 102h4v4h-4zM92 110h4v4h-4zM120 162h4v4h-4zM152 186h4v4h-4zM104 194h4v4h-4zM164 214h4v4h-4zM92 222h4v4h-4zM88 230h4v4h-4zM176 242h4v4h-4zM80 250h4v4h-4zM76 258h4v4h-4zM184 262h4v4h-4zM72 270h4v4h-4zM188 270h4v4h-4zM391 122h4v4h-4zM403 130h4v4h-4zM407 134h4v4h-4zM363 142h4v4h-4zM415 146h4v4h-4zM423 158h4v4h-4zM351 162h4v4h-4zM347 166h4v4h-4zM431 170h4v4h-4zM399 178h4v4h-4zM439 182h4v4h-4zM331 186h4v4h-4zM407 186h4v4h-4zM327 190h4v4h-4zM447 194h4v4h-4zM415 198h4v4h-4zM359 202h4v4h-4zM419 206h4v4h-4zM455 206h4v4h-4zM459 210h4v4h-4zM423 214h4v4h-4zM347 230h4v4h-4zM431 234h4v4h-4zM343 238h4v4h-4zM435 242h4v4h-4zM339 246h4v4h-4zM439 250h4v4h-4zM335 258h4v4h-4zM443 258h4v4h-4zM331 266h4v4h-4zM447 270h4v4h-4zM629 178h4v4h-4zM669 186h4v4h-4zM613 194h4v4h-4zM685 206h4v4h-4zM593 210h4v4h-4zM613 246h4v4h-4zM681 246h4v4h-4zM717 250h4v4h-4zM609 254h4v4h-4zM685 254h4v4h-4zM605 262h4v4h-4zM689 262h4v4h-4zM601 270h4v4h-4zM693 270h4v4h-4zM936 214h4v4h-4zM960 254h4v4h-4z"/><path fill="#872350" d="M140 98h4v4h-4zM156 198h4v4h-4zM100 206h4v4h-4zM164 218h4v4h-4zM92 226h4v4h-4zM395 122h4v4h-4zM355 154h4v4h-4zM383 178h4v4h-4zM375 182h4v4h-4zM411 194h4v4h-4zM451 198h4v4h-4zM419 210h4v4h-4zM339 254h4v4h-4zM439 258h4v4h-4zM689 210h4v4h-4zM677 242h4v4h-4zM681 250h4v4h-4zM609 258h4v4h-4zM605 266h4v4h-4zM908 186h4v4h-4zM844 234h4v4h-4zM968 262h4v4h-4z"/><path fill="#781e46" d="M148 98h4v4h-4zM168 110h4v4h-4zM84 114h4v4h-4zM172 118h4v4h-4zM136 162h4v4h-4zM120 166h4v4h-4zM196 170h4v4h-4zM144 174h4v4h-4zM200 178h4v4h-4zM112 182h4v4h-4zM152 194h4v4h-4zM156 206h4v4h-4zM100 214h4v4h-4zM96 226h4v4h-4zM164 226h4v4h-4zM168 238h4v4h-4zM88 246h4v4h-4zM172 250h4v4h-4zM84 258h4v4h-4zM176 258h4v4h-4zM176 262h4v4h-4zM80 270h4v4h-4zM180 270h4v4h-4zM383 118h4v4h-4zM391 118h4v4h-4zM399 122h4v4h-4zM355 150h4v4h-4zM343 166h4v4h-4zM339 170h4v4h-4zM435 170h4v4h-4zM383 182h4v4h-4zM395 182h4v4h-4zM443 182h4v4h-4zM375 186h4v4h-4zM451 194h4v4h-4zM355 226h4v4h-4zM423 230h4v4h-4zM351 238h4v4h-4zM427 242h4v4h-4zM347 246h4v4h-4zM431 250h4v4h-4zM343 258h4v4h-4zM435 262h4v4h-4zM339 270h4v4h-4zM439 274h4v4h-4zM633 170h4v4h-4zM629 174h4v4h-4zM669 182h4v4h-4zM617 186h4v4h-4zM613 190h4v4h-4zM597 202h4v4h-4zM685 202h4v4h-4zM581 214h4v4h-4zM637 222h4v4h-4zM657 222h4v4h-4zM701 222h4v4h-4zM625 234h4v4h-4zM669 234h4v4h-4zM709 234h4v4h-4zM677 250h4v4h-4zM613 258h4v4h-4zM681 258h4v4h-4zM609 266h4v4h-4zM896 186h4v4h-4zM884 194h4v4h-4zM924 194h4v4h-4zM936 210h4v4h-4zM848 226h4v4h-4zM844 230h4v4h-4zM948 230h4v4h-4zM840 234h4v4h-4zM968 258h4v4h-4zM972 262h4v4h-4zM976 266h4v4h-4z"/><path fill="#5a4655" d="M176 98h4v4h-4zM403 90h4v4h-4zM355 110h4v4h-4zM701 182h4v4h-4zM900 150h4v4h-4zM904 150h4v4h-4zM884 158h4v4h-4zM864 162h4v4h-4zM876 162h4v4h-4zM880 166h4v4h-4zM944 186h4v4h-4z"/><path fill="#7d6978" d="M64 102h4v4h-4zM379 82h4v4h-4zM371 90h4v4h-4zM423 106h4v4h-4zM347 110h4v4h-4zM435 126h4v4h-4zM443 126h4v4h-4zM637 138h4v4h-4zM581 166h4v4h-4zM689 166h4v4h-4zM705 182h4v4h-4zM896 138h4v4h-4zM900 142h4v4h-4zM904 142h4v4h-4zM924 146h4v4h-4zM864 154h4v4h-4zM880 158h4v4h-4zM940 178h4v4h-4z"/><path fill="#3c2832" d="M72 102h4v4h-4zM351 118h4v4h-4zM347 122h4v4h-4zM665 150h4v4h-4zM964 206h4v4h-4z"/><path fill="#691e41" d="M100 102h4v4h-4zM92 106h4v4h-4zM164 106h4v4h-4zM72 122h4v4h-4zM68 126h4v4h-4zM192 158h4v4h-4zM196 166h4v4h-4zM140 170h4v4h-4zM200 174h4v4h-4zM144 178h4v4h-4zM112 186h4v4h-4zM108 198h4v4h-4zM104 210h4v4h-4zM156 214h4v4h-4zM100 222h4v4h-4zM160 226h4v4h-4zM96 234h4v4h-4zM164 238h4v4h-4zM92 246h4v4h-4zM168 250h4v4h-4zM88 258h4v4h-4zM172 262h4v4h-4zM84 270h4v4h-4zM176 274h4v4h-4zM387 114h4v4h-4zM403 122h4v4h-4zM407 126h4v4h-4zM363 134h4v4h-4zM355 146h4v4h-4zM343 162h4v4h-4zM339 166h4v4h-4zM435 166h4v4h-4zM443 178h4v4h-4zM379 186h4v4h-4zM451 190h4v4h-4zM371 194h4v4h-4zM367 202h4v4h-4zM419 230h4v4h-4zM423 242h4v4h-4zM351 246h4v4h-4zM427 254h4v4h-4zM347 258h4v4h-4zM431 262h4v4h-4zM431 266h4v4h-4zM343 270h4v4h-4zM435 274h4v4h-4zM645 158h4v4h-4zM653 162h4v4h-4zM609 190h4v4h-4zM677 190h4v4h-4zM681 194h4v4h-4zM593 202h4v4h-4zM581 210h4v4h-4zM709 230h4v4h-4zM625 238h4v4h-4zM669 238h4v4h-4zM621 246h4v4h-4zM673 246h4v4h-4zM677 258h4v4h-4zM613 266h4v4h-4zM681 266h4v4h-4zM904 182h4v4h-4zM872 202h4v4h-4zM868 206h4v4h-4zM940 214h4v4h-4zM844 226h4v4h-4zM948 226h4v4h-4zM840 230h4v4h-4zM972 258h4v4h-4z"/><path fill="#7d1e4b" d="M104 102h4v4h-4zM176 126h4v4h-4zM140 166h4v4h-4zM108 190h4v4h-4zM156 202h4v4h-4zM96 222h4v4h-4zM168 234h4v4h-4zM88 242h4v4h-4zM84 254h4v4h-4zM180 266h4v4h-4zM76 274h4v4h-4zM387 118h4v4h-4zM407 130h4v4h-4zM415 142h4v4h-4zM347 162h4v4h-4zM431 166h4v4h-4zM439 178h4v4h-4zM379 182h4v4h-4zM327 186h4v4h-4zM403 186h4v4h-4zM363 202h4v4h-4zM415 206h4v4h-4zM355 222h4v4h-4zM423 226h4v4h-4zM431 246h4v4h-4zM343 254h4v4h-4zM435 258h4v4h-4zM335 274h4v4h-4zM665 178h4v4h-4zM609 194h4v4h-4zM621 238h4v4h-4zM673 238h4v4h-4zM617 246h4v4h-4zM677 246h4v4h-4zM717 246h4v4h-4zM876 202h4v4h-4zM872 206h4v4h-4zM952 238h4v4h-4z"/><path fill="#a0235a" d="M108 102h4v4h-4zM172 122h4v4h-4zM136 154h4v4h-4zM116 166h4v4h-4zM148 174h4v4h-4zM156 190h4v4h-4zM96 206h4v4h-4zM176 234h4v4h-4zM180 242h4v4h-4zM76 250h4v4h-4zM72 258h4v4h-4zM371 134h4v4h-4zM367 138h4v4h-4zM355 158h4v4h-4zM343 174h4v4h-4zM399 174h4v4h-4zM411 186h4v4h-4zM419 198h4v4h-4zM355 202h4v4h-4zM351 210h4v4h-4zM347 218h4v4h-4zM343 226h4v4h-4zM339 234h4v4h-4zM335 242h4v4h-4zM443 242h4v4h-4zM447 250h4v4h-4zM451 258h4v4h-4zM455 266h4v4h-4zM459 274h4v4h-4zM665 182h4v4h-4zM601 206h4v4h-4zM637 214h4v4h-4zM657 214h4v4h-4zM617 234h4v4h-4zM605 254h4v4h-4zM601 262h4v4h-4zM693 262h4v4h-4zM892 270h4v4h-4zM892 274h4v4h-4z"/><path fill="#d22d6e" d="M112 102h4v4h-4zM172 126h4v4h-4zM112 130h4v4h-4zM108 134h4v4h-4zM108 138h4v4h-4zM108 142h4v4h-4zM104 150h4v4h-4zM100 158h4v4h-4zM80 198h4v4h-4zM76 206h4v4h-4zM72 214h4v4h-4zM64 226h4v4h-4zM904 190h4v4h-4zM924 202h4v4h-4zM904 234h4v4h-4zM844 246h4v4h-4zM840 250h4v4h-4zM888 250h4v4h-4zM924 250h4v4h-4zM884 258h4v4h-4zM928 258h4v4h-4zM932 266h4v4h-4zM968 274h4v4h-4z"/><path fill="#dc3273" d="M116 102h4v4h-4zM120 102h4v4h-4zM124 102h4v4h-4zM128 102h4v4h-4zM132 102h4v4h-4zM136 102h4v4h-4zM140 102h4v4h-4zM144 102h4v4h-4zM108 106h4v4h-4zM112 106h4v4h-4zM116 106h4v4h-4zM120 106h4v4h-4zM124 106h4v4h-4zM128 106h4v4h-4zM132 106h4v4h-4zM136 106h4v4h-4zM140 106h4v4h-4zM144 106h4v4h-4zM148 106h4v4h-4zM152 106h4v4h-4zM100 110h4v4h-4zM104 110h4v4h-4zM108 110h4v4h-4zM112 110h4v4h-4zM116 110h4v4h-4zM120 110h4v4h-4zM124 110h4v4h-4zM128 110h4v4h-4zM132 110h4v4h-4zM136 110h4v4h-4zM140 110h4v4h-4zM144 110h4v4h-4zM148 110h4v4h-4zM152 110h4v4h-4zM156 110h4v4h-4zM96 114h4v4h-4zM100 114h4v4h-4zM104 114h4v4h-4zM108 114h4v4h-4zM112 114h4v4h-4zM116 114h4v4h-4zM120 114h4v4h-4zM140 114h4v4h-4zM144 114h4v4h-4zM148 114h4v4h-4zM152 114h4v4h-4zM156 114h4v4h-4zM160 114h4v4h-4zM92 118h4v4h-4zM96 118h4v4h-4zM100 118h4v4h-4zM104 118h4v4h-4zM108 118h4v4h-4zM112 118h4v4h-4zM144 118h4v4h-4zM148 118h4v4h-4zM152 118h4v4h-4zM156 118h4v4h-4zM160 118h4v4h-4zM164 118h4v4h-4zM168 118h4v4h-4zM84 122h4v4h-4zM88 122h4v4h-4zM92 122h4v4h-4zM96 122h4v4h-4zM100 122h4v4h-4zM104 122h4v4h-4zM148 122h4v4h-4zM152 122h4v4h-4zM156 122h4v4h-4zM160 122h4v4h-4zM164 122h4v4h-4zM168 122h4v4h-4zM80 126h4v4h-4zM84 126h4v4h-4zM88 126h4v4h-4zM92 126h4v4h-4zM96 126h4v4h-4zM100 126h4v4h-4zM148 126h4v4h-4zM152 126h4v4h-4zM156 126h4v4h-4zM160 126h4v4h-4zM164 126h4v4h-4zM168 126h4v4h-4zM76 130h4v4h-4zM80 130h4v4h-4zM84 130h4v4h-4zM88 130h4v4h-4zM92 130h4v4h-4zM96 130h4v4h-4zM152 130h4v4h-4zM156 130h4v4h-4zM160 130h4v4h-4zM164 130h4v4h-4zM168 130h4v4h-4zM172 130h4v4h-4zM72 134h4v4h-4zM76 134h4v4h-4zM80 134h4v4h-4zM84 134h4v4h-4zM88 134h4v4h-4zM92 134h4v4h-4zM156 134h4v4h-4zM160 134h4v4h-4zM164 134h4v4h-4zM168 134h4v4h-4zM172 134h4v4h-4zM68 138h4v4h-4zM72 138h4v4h-4zM76 138h4v4h-4zM80 138h4v4h-4zM84 138h4v4h-4zM88 138h4v4h-4zM156 138h4v4h-4zM160 138h4v4h-4zM164 138h4v4h-4zM168 138h4v4h-4zM172 138h4v4h-4zM176 138h4v4h-4zM64 142h4v4h-4zM68 142h4v4h-4zM72 142h4v4h-4zM76 142h4v4h-4zM80 142h4v4h-4zM84 142h4v4h-4zM160 142h4v4h-4zM164 142h4v4h-4zM168 142h4v4h-4zM172 142h4v4h-4zM176 142h4v4h-4zM64 146h4v4h-4zM68 146h4v4h-4zM72 146h4v4h-4zM76 146h4v4h-4zM80 146h4v4h-4zM100 146h4v4h-4zM160 146h4v4h-4zM164 146h4v4h-4zM168 146h4v4h-4zM172 146h4v4h-4zM176 146h4v4h-4zM180 146h4v4h-4zM64 150h4v4h-4zM68 150h4v4h-4zM72 150h4v4h-4zM76 150h4v4h-4zM164 150h4v4h-4zM168 150h4v4h-4zM172 150h4v4h-4zM176 150h4v4h-4zM180 150h4v4h-4zM64 154h4v4h-4zM68 154h4v4h-4zM72 154h4v4h-4zM168 154h4v4h-4zM172 154h4v4h-4zM176 154h4v4h-4zM180 154h4v4h-4zM64 158h4v4h-4zM68 158h4v4h-4zM72 158h4v4h-4zM168 158h4v4h-4zM172 158h4v4h-4zM176 158h4v4h-4zM180 158h4v4h-4zM184 158h4v4h-4zM64 162h4v4h-4zM68 162h4v4h-4zM96 162h4v4h-4zM172 162h4v4h-4zM176 162h4v4h-4zM180 162h4v4h-4zM184 162h4v4h-4zM64 166h4v4h-4zM172 166h4v4h-4zM176 166h4v4h-4zM180 166h4v4h-4zM184 166h4v4h-4zM64 170h4v4h-4zM176 170h4v4h-4zM180 170h4v4h-4zM184 170h4v4h-4zM188 170h4v4h-4zM176 174h4v4h-4zM180 174h4v4h-4zM184 174h4v4h-4zM188 174h4v4h-4zM180 178h4v4h-4zM184 178h4v4h-4zM188 178h4v4h-4zM192 178h4v4h-4zM180 182h4v4h-4zM184 182h4v4h-4zM188 182h4v4h-4zM192 182h4v4h-4zM184 186h4v4h-4zM188 186h4v4h-4zM192 186h4v4h-4zM188 190h4v4h-4zM192 190h4v4h-4zM196 190h4v4h-4zM188 194h4v4h-4zM192 194h4v4h-4zM196 194h4v4h-4zM192 198h4v4h-4zM196 198h4v4h-4zM200 198h4v4h-4zM192 202h4v4h-4zM196 202h4v4h-4zM200 202h4v4h-4zM196 206h4v4h-4zM200 206h4v4h-4zM72 210h4v4h-4zM196 210h4v4h-4zM200 210h4v4h-4zM200 214h4v4h-4zM200 218h4v4h-4zM868 222h4v4h-4zM864 230h4v4h-4zM904 230h4v4h-4zM912 234h4v4h-4zM856 242h4v4h-4zM848 254h4v4h-4zM956 258h4v4h-4zM932 262h4v4h-4z"/><path fill="#cd2d69" d="M148 102h4v4h-4zM124 114h4v4h-4zM128 114h4v4h-4zM132 114h4v4h-4zM136 114h4v4h-4zM120 118h4v4h-4zM124 118h4v4h-4zM128 118h4v4h-4zM132 118h4v4h-4zM136 118h4v4h-4zM140 118h4v4h-4zM120 122h4v4h-4zM124 122h4v4h-4zM128 122h4v4h-4zM132 122h4v4h-4zM136 122h4v4h-4zM140 122h4v4h-4zM144 122h4v4h-4zM120 126h4v4h-4zM124 126h4v4h-4zM128 126h4v4h-4zM132 126h4v4h-4zM136 126h4v4h-4zM140 126h4v4h-4zM144 126h4v4h-4zM116 130h4v4h-4zM120 130h4v4h-4zM124 130h4v4h-4zM128 130h4v4h-4zM132 130h4v4h-4zM136 130h4v4h-4zM140 130h4v4h-4zM144 130h4v4h-4zM148 130h4v4h-4zM116 134h4v4h-4zM120 134h4v4h-4zM124 134h4v4h-4zM128 134h4v4h-4zM132 134h4v4h-4zM136 134h4v4h-4zM140 134h4v4h-4zM144 134h4v4h-4zM148 134h4v4h-4zM152 134h4v4h-4zM116 138h4v4h-4zM120 138h4v4h-4zM124 138h4v4h-4zM128 138h4v4h-4zM132 138h4v4h-4zM136 138h4v4h-4zM140 138h4v4h-4zM144 138h4v4h-4zM148 138h4v4h-4zM152 138h4v4h-4zM112 142h4v4h-4zM116 142h4v4h-4zM140 142h4v4h-4zM144 142h4v4h-4zM148 142h4v4h-4zM152 142h4v4h-4zM156 142h4v4h-4zM112 146h4v4h-4zM116 146h4v4h-4zM144 146h4v4h-4zM148 146h4v4h-4zM152 146h4v4h-4zM156 146h4v4h-4zM108 150h4v4h-4zM112 150h4v4h-4zM148 150h4v4h-4zM152 150h4v4h-4zM156 150h4v4h-4zM160 150h4v4h-4zM108 154h4v4h-4zM112 154h4v4h-4zM148 154h4v4h-4zM152 154h4v4h-4zM156 154h4v4h-4zM160 154h4v4h-4zM164 154h4v4h-4zM104 158h4v4h-4zM108 158h4v4h-4zM112 158h4v4h-4zM148 158h4v4h-4zM152 158h4v4h-4zM156 158h4v4h-4zM160 158h4v4h-4zM164 158h4v4h-4zM104 162h4v4h-4zM108 162h4v4h-4zM152 162h4v4h-4zM156 162h4v4h-4zM160 162h4v4h-4zM164 162h4v4h-4zM168 162h4v4h-4zM100 166h4v4h-4zM104 166h4v4h-4zM108 166h4v4h-4zM152 166h4v4h-4zM156 166h4v4h-4zM160 166h4v4h-4zM164 166h4v4h-4zM168 166h4v4h-4zM100 170h4v4h-4zM104 170h4v4h-4zM156 170h4v4h-4zM160 170h4v4h-4zM164 170h4v4h-4zM168 170h4v4h-4zM172 170h4v4h-4zM96 174h4v4h-4zM100 174h4v4h-4zM160 174h4v4h-4zM164 174h4v4h-4zM168 174h4v4h-4zM172 174h4v4h-4zM96 178h4v4h-4zM160 178h4v4h-4zM164 178h4v4h-4zM168 178h4v4h-4zM172 178h4v4h-4zM176 178h4v4h-4zM92 182h4v4h-4zM96 182h4v4h-4zM164 182h4v4h-4zM168 182h4v4h-4zM172 182h4v4h-4zM176 182h4v4h-4zM92 186h4v4h-4zM168 186h4v4h-4zM172 186h4v4h-4zM176 186h4v4h-4zM180 186h4v4h-4zM196 186h4v4h-4zM88 190h4v4h-4zM172 190h4v4h-4zM176 190h4v4h-4zM180 190h4v4h-4zM184 190h4v4h-4zM88 194h4v4h-4zM172 194h4v4h-4zM176 194h4v4h-4zM180 194h4v4h-4zM184 194h4v4h-4zM84 198h4v4h-4zM176 198h4v4h-4zM180 198h4v4h-4zM184 198h4v4h-4zM188 198h4v4h-4zM80 202h4v4h-4zM180 202h4v4h-4zM184 202h4v4h-4zM188 202h4v4h-4zM80 206h4v4h-4zM180 206h4v4h-4zM184 206h4v4h-4zM188 206h4v4h-4zM192 206h4v4h-4zM76 210h4v4h-4zM184 210h4v4h-4zM188 210h4v4h-4zM192 210h4v4h-4zM188 214h4v4h-4zM192 214h4v4h-4zM196 214h4v4h-4zM72 218h4v4h-4zM188 218h4v4h-4zM192 218h4v4h-4zM196 218h4v4h-4zM192 222h4v4h-4zM196 222h4v4h-4zM200 222h4v4h-4zM68 226h4v4h-4zM196 226h4v4h-4zM200 226h4v4h-4zM64 230h4v4h-4zM196 230h4v4h-4zM200 230h4v4h-4zM200 234h4v4h-4zM900 238h4v4h-4zM960 262h4v4h-4zM932 270h4v4h-4z"/><path fill="#6e1e41" d="M156 102h4v4h-4zM88 110h4v4h-4zM64 130h4v4h-4zM188 150h4v4h-4zM128 162h4v4h-4zM132 162h4v4h-4zM148 186h4v4h-4zM152 198h4v4h-4zM156 210h4v4h-4zM160 222h4v4h-4zM96 230h4v4h-4zM164 234h4v4h-4zM92 242h4v4h-4zM168 246h4v4h-4zM88 254h4v4h-4zM172 258h4v4h-4zM84 266h4v4h-4zM176 270h4v4h-4zM379 118h4v4h-4zM375 122h4v4h-4zM415 138h4v4h-4zM423 150h4v4h-4zM351 154h4v4h-4zM347 158h4v4h-4zM431 162h4v4h-4zM439 174h4v4h-4zM327 182h4v4h-4zM323 186h4v4h-4zM399 186h4v4h-4zM403 190h4v4h-4zM411 202h4v4h-4zM363 210h4v4h-4zM415 214h4v4h-4zM359 222h4v4h-4zM419 226h4v4h-4zM355 234h4v4h-4zM423 238h4v4h-4zM427 250h4v4h-4zM347 254h4v4h-4zM431 258h4v4h-4zM343 266h4v4h-4zM435 270h4v4h-4zM641 162h4v4h-4zM657 166h4v4h-4zM661 170h4v4h-4zM673 186h4v4h-4zM605 194h4v4h-4zM589 206h4v4h-4zM693 210h4v4h-4zM697 214h4v4h-4zM705 226h4v4h-4zM717 242h4v4h-4zM617 254h4v4h-4zM677 254h4v4h-4zM613 262h4v4h-4zM609 274h4v4h-4zM685 274h4v4h-4zM892 186h4v4h-4zM916 186h4v4h-4zM932 202h4v4h-4zM864 210h4v4h-4zM860 214h4v4h-4zM952 234h4v4h-4zM960 246h4v4h-4zM964 250h4v4h-4zM968 254h4v4h-4zM976 262h4v4h-4z"/><path fill="#968796" d="M188 102h4v4h-4zM371 78h4v4h-4zM375 86h4v4h-4zM343 102h4v4h-4zM597 146h4v4h-4zM848 106h4v4h-4zM908 110h4v4h-4zM896 118h4v4h-4zM908 122h4v4h-4zM852 134h4v4h-4zM844 146h4v4h-4zM852 154h4v4h-4zM944 178h4v4h-4zM948 182h4v4h-4zM964 182h4v4h-4z"/><path fill="#3c1928" d="M84 106h4v4h-4zM176 114h4v4h-4zM112 226h4v4h-4zM148 230h4v4h-4zM419 130h4v4h-4zM375 202h4v4h-4zM403 206h4v4h-4zM415 262h4v4h-4zM359 274h4v4h-4zM621 170h4v4h-4zM645 234h4v4h-4zM649 234h4v4h-4zM665 258h4v4h-4zM625 274h4v4h-4zM852 206h4v4h-4zM976 242h4v4h-4z"/><path fill="#c82869" d="M104 106h4v4h-4zM176 134h4v4h-4zM124 142h4v4h-4zM128 142h4v4h-4zM132 142h4v4h-4zM136 142h4v4h-4zM120 146h4v4h-4zM140 146h4v4h-4zM116 150h4v4h-4zM116 154h4v4h-4zM144 154h4v4h-4zM116 158h4v4h-4zM144 158h4v4h-4zM112 162h4v4h-4zM152 170h4v4h-4zM104 174h4v4h-4zM156 174h4v4h-4zM100 182h4v4h-4zM160 182h4v4h-4zM96 186h4v4h-4zM164 186h4v4h-4zM164 190h4v4h-4zM92 194h4v4h-4zM168 194h4v4h-4zM88 198h4v4h-4zM172 198h4v4h-4zM88 202h4v4h-4zM172 202h4v4h-4zM84 206h4v4h-4zM176 206h4v4h-4zM80 210h4v4h-4zM176 210h4v4h-4zM180 210h4v4h-4zM80 214h4v4h-4zM180 214h4v4h-4zM76 218h4v4h-4zM184 218h4v4h-4zM72 222h4v4h-4zM76 222h4v4h-4zM184 222h4v4h-4zM188 222h4v4h-4zM72 226h4v4h-4zM188 226h4v4h-4zM68 230h4v4h-4zM188 230h4v4h-4zM192 230h4v4h-4zM68 234h4v4h-4zM192 234h4v4h-4zM64 238h4v4h-4zM196 238h4v4h-4zM64 242h4v4h-4zM196 242h4v4h-4zM200 242h4v4h-4zM200 246h4v4h-4zM200 250h4v4h-4zM645 170h4v4h-4zM649 170h4v4h-4zM641 174h4v4h-4zM653 174h4v4h-4zM633 178h4v4h-4zM637 178h4v4h-4zM657 178h4v4h-4zM633 182h4v4h-4zM661 182h4v4h-4zM629 186h4v4h-4zM665 186h4v4h-4zM625 190h4v4h-4zM629 190h4v4h-4zM665 190h4v4h-4zM621 194h4v4h-4zM625 194h4v4h-4zM669 194h4v4h-4zM617 198h4v4h-4zM621 198h4v4h-4zM625 198h4v4h-4zM669 198h4v4h-4zM673 198h4v4h-4zM613 202h4v4h-4zM617 202h4v4h-4zM621 202h4v4h-4zM673 202h4v4h-4zM609 206h4v4h-4zM613 206h4v4h-4zM617 206h4v4h-4zM677 206h4v4h-4zM605 210h4v4h-4zM609 210h4v4h-4zM613 210h4v4h-4zM617 210h4v4h-4zM677 210h4v4h-4zM681 210h4v4h-4zM601 214h4v4h-4zM605 214h4v4h-4zM609 214h4v4h-4zM613 214h4v4h-4zM681 214h4v4h-4zM685 214h4v4h-4zM593 218h4v4h-4zM597 218h4v4h-4zM601 218h4v4h-4zM605 218h4v4h-4zM609 218h4v4h-4zM613 218h4v4h-4zM681 218h4v4h-4zM685 218h4v4h-4zM689 218h4v4h-4zM589 222h4v4h-4zM593 222h4v4h-4zM597 222h4v4h-4zM601 222h4v4h-4zM605 222h4v4h-4zM609 222h4v4h-4zM685 222h4v4h-4zM689 222h4v4h-4zM585 226h4v4h-4zM589 226h4v4h-4zM593 226h4v4h-4zM597 226h4v4h-4zM601 226h4v4h-4zM605 226h4v4h-4zM609 226h4v4h-4zM685 226h4v4h-4zM689 226h4v4h-4zM693 226h4v4h-4zM581 230h4v4h-4zM585 230h4v4h-4zM589 230h4v4h-4zM593 230h4v4h-4zM597 230h4v4h-4zM601 230h4v4h-4zM605 230h4v4h-4zM689 230h4v4h-4zM693 230h4v4h-4zM697 230h4v4h-4zM581 234h4v4h-4zM585 234h4v4h-4zM589 234h4v4h-4zM593 234h4v4h-4zM597 234h4v4h-4zM601 234h4v4h-4zM605 234h4v4h-4zM689 234h4v4h-4zM693 234h4v4h-4zM697 234h4v4h-4zM701 234h4v4h-4zM581 238h4v4h-4zM585 238h4v4h-4zM589 238h4v4h-4zM593 238h4v4h-4zM597 238h4v4h-4zM601 238h4v4h-4zM693 238h4v4h-4zM697 238h4v4h-4zM701 238h4v4h-4zM581 242h4v4h-4zM585 242h4v4h-4zM589 242h4v4h-4zM593 242h4v4h-4zM597 242h4v4h-4zM697 242h4v4h-4zM701 242h4v4h-4zM705 242h4v4h-4zM581 246h4v4h-4zM585 246h4v4h-4zM589 246h4v4h-4zM593 246h4v4h-4zM597 246h4v4h-4zM697 246h4v4h-4zM701 246h4v4h-4zM705 246h4v4h-4zM709 246h4v4h-4zM581 250h4v4h-4zM585 250h4v4h-4zM589 250h4v4h-4zM593 250h4v4h-4zM701 250h4v4h-4zM705 250h4v4h-4zM709 250h4v4h-4zM581 254h4v4h-4zM585 254h4v4h-4zM589 254h4v4h-4zM593 254h4v4h-4zM701 254h4v4h-4zM705 254h4v4h-4zM709 254h4v4h-4zM713 254h4v4h-4zM581 258h4v4h-4zM585 258h4v4h-4zM589 258h4v4h-4zM705 258h4v4h-4zM709 258h4v4h-4zM713 258h4v4h-4zM717 258h4v4h-4zM581 262h4v4h-4zM585 262h4v4h-4zM589 262h4v4h-4zM705 262h4v4h-4zM709 262h4v4h-4zM713 262h4v4h-4zM717 262h4v4h-4zM581 266h4v4h-4zM585 266h4v4h-4zM709 266h4v4h-4zM713 266h4v4h-4zM717 266h4v4h-4zM581 270h4v4h-4zM585 270h4v4h-4zM709 270h4v4h-4zM713 270h4v4h-4zM717 270h4v4h-4zM581 274h4v4h-4zM713 274h4v4h-4zM717 274h4v4h-4zM908 190h4v4h-4zM892 194h4v4h-4zM888 198h4v4h-4zM884 202h4v4h-4zM880 206h4v4h-4zM944 234h4v4h-4zM904 238h4v4h-4zM908 238h4v4h-4zM896 242h4v4h-4zM892 246h4v4h-4zM884 262h4v4h-4zM928 262h4v4h-4zM880 274h4v4h-4zM932 274h4v4h-4z"/><path fill="#aa285a" d="M156 106h4v4h-4zM80 122h4v4h-4zM128 150h4v4h-4zM132 150h4v4h-4zM184 150h4v4h-4zM120 158h4v4h-4zM108 178h4v4h-4zM104 186h4v4h-4zM100 194h4v4h-4zM172 222h4v4h-4zM176 230h4v4h-4zM180 238h4v4h-4zM184 246h4v4h-4zM72 254h4v4h-4zM188 254h4v4h-4zM68 262h4v4h-4zM68 266h4v4h-4zM68 270h4v4h-4zM68 274h4v4h-4zM383 126h4v4h-4zM383 142h4v4h-4zM387 142h4v4h-4zM391 142h4v4h-4zM363 146h4v4h-4zM379 146h4v4h-4zM383 146h4v4h-4zM387 146h4v4h-4zM391 146h4v4h-4zM395 146h4v4h-4zM399 146h4v4h-4zM375 150h4v4h-4zM379 150h4v4h-4zM383 150h4v4h-4zM387 150h4v4h-4zM391 150h4v4h-4zM395 150h4v4h-4zM399 150h4v4h-4zM415 150h4v4h-4zM371 154h4v4h-4zM375 154h4v4h-4zM379 154h4v4h-4zM383 154h4v4h-4zM387 154h4v4h-4zM391 154h4v4h-4zM395 154h4v4h-4zM399 154h4v4h-4zM403 154h4v4h-4zM371 158h4v4h-4zM375 158h4v4h-4zM379 158h4v4h-4zM383 158h4v4h-4zM387 158h4v4h-4zM391 158h4v4h-4zM395 158h4v4h-4zM399 158h4v4h-4zM403 158h4v4h-4zM407 158h4v4h-4zM367 162h4v4h-4zM371 162h4v4h-4zM375 162h4v4h-4zM379 162h4v4h-4zM383 162h4v4h-4zM387 162h4v4h-4zM391 162h4v4h-4zM395 162h4v4h-4zM399 162h4v4h-4zM403 162h4v4h-4zM407 162h4v4h-4zM411 162h4v4h-4zM423 162h4v4h-4zM363 166h4v4h-4zM367 166h4v4h-4zM371 166h4v4h-4zM375 166h4v4h-4zM379 166h4v4h-4zM383 166h4v4h-4zM387 166h4v4h-4zM391 166h4v4h-4zM395 166h4v4h-4zM399 166h4v4h-4zM403 166h4v4h-4zM407 166h4v4h-4zM411 166h4v4h-4zM363 170h4v4h-4zM367 170h4v4h-4zM371 170h4v4h-4zM375 170h4v4h-4zM379 170h4v4h-4zM399 170h4v4h-4zM403 170h4v4h-4zM407 170h4v4h-4zM411 170h4v4h-4zM415 170h4v4h-4zM359 174h4v4h-4zM363 174h4v4h-4zM367 174h4v4h-4zM371 174h4v4h-4zM407 174h4v4h-4zM411 174h4v4h-4zM415 174h4v4h-4zM419 174h4v4h-4zM355 178h4v4h-4zM359 178h4v4h-4zM363 178h4v4h-4zM367 178h4v4h-4zM411 178h4v4h-4zM415 178h4v4h-4zM419 178h4v4h-4zM355 182h4v4h-4zM359 182h4v4h-4zM363 182h4v4h-4zM415 182h4v4h-4zM419 182h4v4h-4zM423 182h4v4h-4zM351 186h4v4h-4zM355 186h4v4h-4zM359 186h4v4h-4zM415 186h4v4h-4zM419 186h4v4h-4zM423 186h4v4h-4zM331 190h4v4h-4zM351 190h4v4h-4zM355 190h4v4h-4zM359 190h4v4h-4zM419 190h4v4h-4zM423 190h4v4h-4zM427 190h4v4h-4zM347 194h4v4h-4zM351 194h4v4h-4zM355 194h4v4h-4zM423 194h4v4h-4zM427 194h4v4h-4zM431 194h4v4h-4zM343 198h4v4h-4zM347 198h4v4h-4zM351 198h4v4h-4zM423 198h4v4h-4zM427 198h4v4h-4zM431 198h4v4h-4zM343 202h4v4h-4zM347 202h4v4h-4zM351 202h4v4h-4zM427 202h4v4h-4zM431 202h4v4h-4zM435 202h4v4h-4zM339 206h4v4h-4zM343 206h4v4h-4zM347 206h4v4h-4zM431 206h4v4h-4zM435 206h4v4h-4zM339 210h4v4h-4zM343 210h4v4h-4zM431 210h4v4h-4zM435 210h4v4h-4zM439 210h4v4h-4zM335 214h4v4h-4zM339 214h4v4h-4zM343 214h4v4h-4zM435 214h4v4h-4zM439 214h4v4h-4zM335 218h4v4h-4zM339 218h4v4h-4zM435 218h4v4h-4zM439 218h4v4h-4zM443 218h4v4h-4zM331 222h4v4h-4zM335 222h4v4h-4zM339 222h4v4h-4zM439 222h4v4h-4zM443 222h4v4h-4zM447 222h4v4h-4zM331 226h4v4h-4zM335 226h4v4h-4zM439 226h4v4h-4zM443 226h4v4h-4zM447 226h4v4h-4zM327 230h4v4h-4zM331 230h4v4h-4zM335 230h4v4h-4zM443 230h4v4h-4zM447 230h4v4h-4zM451 230h4v4h-4zM323 234h4v4h-4zM327 234h4v4h-4zM331 234h4v4h-4zM447 234h4v4h-4zM451 234h4v4h-4zM323 238h4v4h-4zM327 238h4v4h-4zM447 238h4v4h-4zM451 238h4v4h-4zM455 238h4v4h-4zM323 242h4v4h-4zM327 242h4v4h-4zM451 242h4v4h-4zM455 242h4v4h-4zM323 246h4v4h-4zM451 246h4v4h-4zM455 246h4v4h-4zM459 246h4v4h-4zM323 250h4v4h-4zM455 250h4v4h-4zM459 250h4v4h-4zM455 254h4v4h-4zM459 254h4v4h-4zM459 258h4v4h-4zM621 190h4v4h-4zM673 194h4v4h-4zM593 214h4v4h-4zM633 214h4v4h-4zM661 214h4v4h-4zM689 214h4v4h-4zM629 218h4v4h-4zM665 218h4v4h-4zM625 222h4v4h-4zM669 222h4v4h-4zM621 226h4v4h-4zM673 226h4v4h-4zM701 230h4v4h-4zM681 238h4v4h-4zM609 242h4v4h-4zM709 242h4v4h-4zM605 250h4v4h-4zM689 250h4v4h-4zM717 254h4v4h-4zM693 258h4v4h-4zM597 262h4v4h-4zM593 270h4v4h-4zM701 270h4v4h-4zM948 238h4v4h-4zM892 258h4v4h-4zM920 258h4v4h-4zM888 270h4v4h-4zM888 274h4v4h-4z"/><path fill="#be2864" d="M96 110h4v4h-4zM180 142h4v4h-4zM124 146h4v4h-4zM128 146h4v4h-4zM132 146h4v4h-4zM136 146h4v4h-4zM120 150h4v4h-4zM144 162h4v4h-4zM112 166h4v4h-4zM152 174h4v4h-4zM100 186h4v4h-4zM96 194h4v4h-4zM164 194h4v4h-4zM92 202h4v4h-4zM168 202h4v4h-4zM88 210h4v4h-4zM172 210h4v4h-4zM84 214h4v4h-4zM176 218h4v4h-4zM80 222h4v4h-4zM180 226h4v4h-4zM76 230h4v4h-4zM184 230h4v4h-4zM72 238h4v4h-4zM188 238h4v4h-4zM68 246h4v4h-4zM192 246h4v4h-4zM64 250h4v4h-4zM64 254h4v4h-4zM196 254h4v4h-4zM64 258h4v4h-4zM200 258h4v4h-4zM64 262h4v4h-4zM200 262h4v4h-4zM64 266h4v4h-4zM64 270h4v4h-4zM64 274h4v4h-4zM371 138h4v4h-4zM367 142h4v4h-4zM411 146h4v4h-4zM347 174h4v4h-4zM431 178h4v4h-4zM439 190h4v4h-4zM327 198h4v4h-4zM447 202h4v4h-4zM455 214h4v4h-4zM641 170h4v4h-4zM645 174h4v4h-4zM649 174h4v4h-4zM641 178h4v4h-4zM645 178h4v4h-4zM649 178h4v4h-4zM653 178h4v4h-4zM629 182h4v4h-4zM637 182h4v4h-4zM641 182h4v4h-4zM645 182h4v4h-4zM649 182h4v4h-4zM653 182h4v4h-4zM657 182h4v4h-4zM633 186h4v4h-4zM637 186h4v4h-4zM641 186h4v4h-4zM645 186h4v4h-4zM649 186h4v4h-4zM653 186h4v4h-4zM657 186h4v4h-4zM661 186h4v4h-4zM633 190h4v4h-4zM637 190h4v4h-4zM641 190h4v4h-4zM645 190h4v4h-4zM649 190h4v4h-4zM653 190h4v4h-4zM657 190h4v4h-4zM661 190h4v4h-4zM629 194h4v4h-4zM633 194h4v4h-4zM637 194h4v4h-4zM641 194h4v4h-4zM645 194h4v4h-4zM649 194h4v4h-4zM653 194h4v4h-4zM657 194h4v4h-4zM661 194h4v4h-4zM665 194h4v4h-4zM629 198h4v4h-4zM633 198h4v4h-4zM637 198h4v4h-4zM641 198h4v4h-4zM645 198h4v4h-4zM649 198h4v4h-4zM653 198h4v4h-4zM657 198h4v4h-4zM661 198h4v4h-4zM665 198h4v4h-4zM625 202h4v4h-4zM629 202h4v4h-4zM633 202h4v4h-4zM637 202h4v4h-4zM641 202h4v4h-4zM645 202h4v4h-4zM649 202h4v4h-4zM653 202h4v4h-4zM657 202h4v4h-4zM661 202h4v4h-4zM665 202h4v4h-4zM669 202h4v4h-4zM605 206h4v4h-4zM621 206h4v4h-4zM625 206h4v4h-4zM669 206h4v4h-4zM673 206h4v4h-4zM621 210h4v4h-4zM673 210h4v4h-4zM617 214h4v4h-4zM677 214h4v4h-4zM693 222h4v4h-4zM693 242h4v4h-4zM872 214h4v4h-4zM868 218h4v4h-4zM864 222h4v4h-4zM900 242h4v4h-4zM904 242h4v4h-4zM908 242h4v4h-4zM912 242h4v4h-4zM920 250h4v4h-4zM924 258h4v4h-4zM884 266h4v4h-4zM964 266h4v4h-4zM928 270h4v4h-4z"/><path fill="#c32864" d="M160 110h4v4h-4zM140 150h4v4h-4zM148 166h4v4h-4zM192 174h4v4h-4zM104 178h4v4h-4zM156 178h4v4h-4zM160 186h4v4h-4zM96 190h4v4h-4zM200 194h4v4h-4zM92 198h4v4h-4zM168 198h4v4h-4zM88 206h4v4h-4zM172 206h4v4h-4zM176 214h4v4h-4zM80 218h4v4h-4zM180 222h4v4h-4zM76 226h4v4h-4zM184 226h4v4h-4zM72 234h4v4h-4zM188 234h4v4h-4zM68 238h4v4h-4zM68 242h4v4h-4zM192 242h4v4h-4zM64 246h4v4h-4zM196 246h4v4h-4zM196 250h4v4h-4zM200 254h4v4h-4zM383 130h4v4h-4zM387 130h4v4h-4zM391 130h4v4h-4zM395 130h4v4h-4zM379 134h4v4h-4zM383 134h4v4h-4zM387 134h4v4h-4zM391 134h4v4h-4zM395 134h4v4h-4zM399 134h4v4h-4zM375 138h4v4h-4zM379 138h4v4h-4zM383 138h4v4h-4zM387 138h4v4h-4zM391 138h4v4h-4zM395 138h4v4h-4zM399 138h4v4h-4zM403 138h4v4h-4zM371 142h4v4h-4zM375 142h4v4h-4zM379 142h4v4h-4zM395 142h4v4h-4zM399 142h4v4h-4zM403 142h4v4h-4zM407 142h4v4h-4zM367 146h4v4h-4zM371 146h4v4h-4zM375 146h4v4h-4zM403 146h4v4h-4zM407 146h4v4h-4zM363 150h4v4h-4zM367 150h4v4h-4zM371 150h4v4h-4zM403 150h4v4h-4zM407 150h4v4h-4zM411 150h4v4h-4zM363 154h4v4h-4zM367 154h4v4h-4zM407 154h4v4h-4zM411 154h4v4h-4zM415 154h4v4h-4zM359 158h4v4h-4zM363 158h4v4h-4zM367 158h4v4h-4zM411 158h4v4h-4zM415 158h4v4h-4zM359 162h4v4h-4zM363 162h4v4h-4zM415 162h4v4h-4zM419 162h4v4h-4zM355 166h4v4h-4zM359 166h4v4h-4zM415 166h4v4h-4zM419 166h4v4h-4zM423 166h4v4h-4zM351 170h4v4h-4zM355 170h4v4h-4zM359 170h4v4h-4zM419 170h4v4h-4zM423 170h4v4h-4zM351 174h4v4h-4zM355 174h4v4h-4zM423 174h4v4h-4zM427 174h4v4h-4zM347 178h4v4h-4zM351 178h4v4h-4zM423 178h4v4h-4zM427 178h4v4h-4zM343 182h4v4h-4zM347 182h4v4h-4zM351 182h4v4h-4zM427 182h4v4h-4zM431 182h4v4h-4zM339 186h4v4h-4zM343 186h4v4h-4zM347 186h4v4h-4zM427 186h4v4h-4zM431 186h4v4h-4zM435 186h4v4h-4zM335 190h4v4h-4zM339 190h4v4h-4zM343 190h4v4h-4zM347 190h4v4h-4zM431 190h4v4h-4zM435 190h4v4h-4zM331 194h4v4h-4zM335 194h4v4h-4zM339 194h4v4h-4zM343 194h4v4h-4zM435 194h4v4h-4zM439 194h4v4h-4zM331 198h4v4h-4zM335 198h4v4h-4zM339 198h4v4h-4zM435 198h4v4h-4zM439 198h4v4h-4zM443 198h4v4h-4zM327 202h4v4h-4zM331 202h4v4h-4zM335 202h4v4h-4zM339 202h4v4h-4zM439 202h4v4h-4zM443 202h4v4h-4zM323 206h4v4h-4zM327 206h4v4h-4zM331 206h4v4h-4zM335 206h4v4h-4zM439 206h4v4h-4zM443 206h4v4h-4zM447 206h4v4h-4zM323 210h4v4h-4zM327 210h4v4h-4zM331 210h4v4h-4zM335 210h4v4h-4zM443 210h4v4h-4zM447 210h4v4h-4zM451 210h4v4h-4zM323 214h4v4h-4zM327 214h4v4h-4zM331 214h4v4h-4zM443 214h4v4h-4zM447 214h4v4h-4zM451 214h4v4h-4zM323 218h4v4h-4zM327 218h4v4h-4zM331 218h4v4h-4zM447 218h4v4h-4zM451 218h4v4h-4zM455 218h4v4h-4zM323 222h4v4h-4zM327 222h4v4h-4zM451 222h4v4h-4zM455 222h4v4h-4zM459 222h4v4h-4zM323 226h4v4h-4zM327 226h4v4h-4zM451 226h4v4h-4zM455 226h4v4h-4zM459 226h4v4h-4zM323 230h4v4h-4zM455 230h4v4h-4zM459 230h4v4h-4zM455 234h4v4h-4zM459 234h4v4h-4zM459 238h4v4h-4zM459 242h4v4h-4zM637 174h4v4h-4zM677 202h4v4h-4zM601 210h4v4h-4zM581 226h4v4h-4zM928 206h4v4h-4zM876 210h4v4h-4zM940 226h4v4h-4zM888 254h4v4h-4zM924 254h4v4h-4zM928 266h4v4h-4z"/><path fill="#962355" d="M164 110h4v4h-4zM180 138h4v4h-4zM132 154h4v4h-4zM140 162h4v4h-4zM200 186h4v4h-4zM156 194h4v4h-4zM160 202h4v4h-4zM96 210h4v4h-4zM168 222h4v4h-4zM172 230h4v4h-4zM84 238h4v4h-4zM80 246h4v4h-4zM184 258h4v4h-4zM72 266h4v4h-4zM188 266h4v4h-4zM387 122h4v4h-4zM359 150h4v4h-4zM375 178h4v4h-4zM335 182h4v4h-4zM371 182h4v4h-4zM411 190h4v4h-4zM363 194h4v4h-4zM351 218h4v4h-4zM347 226h4v4h-4zM431 230h4v4h-4zM343 234h4v4h-4zM435 238h4v4h-4zM339 242h4v4h-4zM439 246h4v4h-4zM335 250h4v4h-4zM443 254h4v4h-4zM331 262h4v4h-4zM447 262h4v4h-4zM327 270h4v4h-4zM327 274h4v4h-4zM637 170h4v4h-4zM609 198h4v4h-4zM681 202h4v4h-4zM589 214h4v4h-4zM629 222h4v4h-4zM665 222h4v4h-4zM697 222h4v4h-4zM625 226h4v4h-4zM677 238h4v4h-4zM601 266h4v4h-4zM597 274h4v4h-4zM697 274h4v4h-4zM916 190h4v4h-4zM888 194h4v4h-4zM884 198h4v4h-4zM928 202h4v4h-4zM952 242h4v4h-4zM904 258h4v4h-4zM908 258h4v4h-4zM900 262h4v4h-4zM904 262h4v4h-4zM908 262h4v4h-4zM912 262h4v4h-4zM900 266h4v4h-4zM904 266h4v4h-4zM908 266h4v4h-4zM912 266h4v4h-4zM900 270h4v4h-4zM904 270h4v4h-4zM908 270h4v4h-4zM912 270h4v4h-4zM972 270h4v4h-4zM900 274h4v4h-4zM904 274h4v4h-4zM908 274h4v4h-4zM912 274h4v4h-4zM976 274h4v4h-4z"/><path fill="#372832" d="M184 110h4v4h-4zM343 126h4v4h-4zM339 130h4v4h-4zM335 134h4v4h-4zM451 150h4v4h-4zM625 150h4v4h-4z"/><path fill="#5a193c" d="M80 114h4v4h-4zM192 154h4v4h-4zM108 206h4v4h-4zM96 246h4v4h-4zM168 262h4v4h-4zM172 274h4v4h-4zM415 134h4v4h-4zM423 146h4v4h-4zM343 158h4v4h-4zM443 174h4v4h-4zM399 190h4v4h-4zM403 194h4v4h-4zM419 238h4v4h-4zM355 246h4v4h-4zM621 178h4v4h-4zM605 190h4v4h-4zM645 226h4v4h-4zM649 226h4v4h-4zM717 238h4v4h-4zM625 242h4v4h-4zM669 242h4v4h-4zM673 254h4v4h-4zM912 182h4v4h-4zM924 190h4v4h-4zM928 194h4v4h-4zM864 206h4v4h-4zM840 226h4v4h-4z"/><path fill="#9b2355" d="M88 114h4v4h-4zM124 154h4v4h-4zM188 158h4v4h-4zM112 174h4v4h-4zM196 178h4v4h-4zM108 182h4v4h-4zM104 190h4v4h-4zM164 210h4v4h-4zM92 218h4v4h-4zM88 226h4v4h-4zM176 238h4v4h-4zM180 246h4v4h-4zM76 254h4v4h-4zM184 254h4v4h-4zM72 262h4v4h-4zM379 126h4v4h-4zM375 130h4v4h-4zM419 154h4v4h-4zM427 166h4v4h-4zM383 174h4v4h-4zM387 174h4v4h-4zM391 174h4v4h-4zM395 174h4v4h-4zM339 178h4v4h-4zM403 178h4v4h-4zM435 178h4v4h-4zM367 186h4v4h-4zM443 190h4v4h-4zM415 194h4v4h-4zM359 198h4v4h-4zM419 202h4v4h-4zM451 202h4v4h-4zM355 206h4v4h-4zM423 210h4v4h-4zM351 214h4v4h-4zM427 218h4v4h-4zM347 222h4v4h-4zM431 226h4v4h-4zM343 230h4v4h-4zM435 234h4v4h-4zM339 238h4v4h-4zM439 242h4v4h-4zM335 246h4v4h-4zM443 250h4v4h-4zM331 254h4v4h-4zM331 258h4v4h-4zM447 258h4v4h-4zM327 262h4v4h-4zM327 266h4v4h-4zM451 266h4v4h-4zM451 270h4v4h-4zM451 274h4v4h-4zM455 274h4v4h-4zM633 174h4v4h-4zM605 202h4v4h-4zM641 214h4v4h-4zM645 214h4v4h-4zM649 214h4v4h-4zM653 214h4v4h-4zM633 218h4v4h-4zM661 218h4v4h-4zM669 226h4v4h-4zM621 230h4v4h-4zM705 234h4v4h-4zM613 242h4v4h-4zM713 246h4v4h-4zM609 250h4v4h-4zM685 250h4v4h-4zM605 258h4v4h-4zM689 258h4v4h-4zM693 266h4v4h-4zM924 198h4v4h-4zM880 202h4v4h-4zM876 206h4v4h-4zM872 210h4v4h-4zM868 214h4v4h-4zM864 218h4v4h-4zM860 222h4v4h-4zM940 222h4v4h-4zM856 226h4v4h-4zM852 230h4v4h-4zM956 250h4v4h-4zM904 254h4v4h-4zM908 254h4v4h-4zM900 258h4v4h-4zM912 258h4v4h-4zM896 262h4v4h-4zM896 266h4v4h-4zM916 266h4v4h-4zM896 270h4v4h-4zM916 270h4v4h-4zM896 274h4v4h-4zM916 274h4v4h-4z"/><path fill="#d72d73" d="M92 114h4v4h-4zM164 114h4v4h-4zM104 142h4v4h-4zM100 154h4v4h-4zM88 182h4v4h-4zM68 218h4v4h-4zM860 230h4v4h-4zM856 234h4v4h-4zM852 238h4v4h-4zM856 238h4v4h-4zM896 238h4v4h-4zM852 242h4v4h-4zM892 242h4v4h-4zM848 246h4v4h-4zM844 250h4v4h-4zM848 250h4v4h-4zM952 250h4v4h-4zM844 254h4v4h-4zM840 258h4v4h-4zM840 262h4v4h-4zM880 266h4v4h-4zM936 274h4v4h-4z"/><path fill="#a5235a" d="M168 114h4v4h-4zM84 118h4v4h-4zM192 170h4v4h-4zM160 198h4v4h-4zM164 206h4v4h-4zM92 214h4v4h-4zM168 214h4v4h-4zM88 222h4v4h-4zM84 230h4v4h-4zM80 238h4v4h-4zM184 250h4v4h-4zM188 258h4v4h-4zM395 126h4v4h-4zM347 170h4v4h-4zM383 170h4v4h-4zM387 170h4v4h-4zM391 170h4v4h-4zM395 170h4v4h-4zM375 174h4v4h-4zM403 174h4v4h-4zM431 174h4v4h-4zM371 178h4v4h-4zM407 178h4v4h-4zM367 182h4v4h-4zM411 182h4v4h-4zM363 186h4v4h-4zM439 186h4v4h-4zM415 190h4v4h-4zM327 194h4v4h-4zM359 194h4v4h-4zM419 194h4v4h-4zM355 198h4v4h-4zM447 198h4v4h-4zM423 202h4v4h-4zM351 206h4v4h-4zM427 206h4v4h-4zM347 210h4v4h-4zM427 210h4v4h-4zM455 210h4v4h-4zM347 214h4v4h-4zM431 214h4v4h-4zM459 214h4v4h-4zM343 218h4v4h-4zM431 218h4v4h-4zM343 222h4v4h-4zM435 222h4v4h-4zM339 226h4v4h-4zM435 226h4v4h-4zM339 230h4v4h-4zM439 230h4v4h-4zM335 234h4v4h-4zM439 234h4v4h-4zM443 234h4v4h-4zM335 238h4v4h-4zM443 238h4v4h-4zM331 242h4v4h-4zM447 242h4v4h-4zM327 246h4v4h-4zM331 246h4v4h-4zM447 246h4v4h-4zM327 250h4v4h-4zM451 250h4v4h-4zM323 254h4v4h-4zM327 254h4v4h-4zM451 254h4v4h-4zM323 258h4v4h-4zM455 258h4v4h-4zM323 262h4v4h-4zM455 262h4v4h-4zM459 262h4v4h-4zM459 266h4v4h-4zM459 270h4v4h-4zM597 210h4v4h-4zM581 222h4v4h-4zM677 234h4v4h-4zM613 238h4v4h-4zM609 246h4v4h-4zM685 246h4v4h-4zM689 254h4v4h-4zM597 266h4v4h-4zM697 266h4v4h-4zM593 274h4v4h-4zM701 274h4v4h-4zM896 190h4v4h-4zM920 194h4v4h-4zM944 230h4v4h-4zM900 250h4v4h-4zM904 250h4v4h-4zM908 250h4v4h-4zM912 250h4v4h-4zM896 254h4v4h-4zM916 254h4v4h-4zM892 262h4v4h-4zM964 262h4v4h-4zM892 266h4v4h-4zM920 266h4v4h-4zM920 270h4v4h-4zM920 274h4v4h-4z"/><path fill="#5f193c" d="M172 114h4v4h-4zM184 138h4v4h-4zM188 146h4v4h-4zM124 166h4v4h-4zM116 178h4v4h-4zM112 190h4v4h-4zM148 194h4v4h-4zM152 206h4v4h-4zM104 218h4v4h-4zM156 218h4v4h-4zM100 230h4v4h-4zM160 234h4v4h-4zM96 242h4v4h-4zM164 246h4v4h-4zM92 254h4v4h-4zM92 258h4v4h-4zM168 258h4v4h-4zM88 270h4v4h-4zM172 270h4v4h-4zM383 114h4v4h-4zM395 114h4v4h-4zM375 118h4v4h-4zM371 122h4v4h-4zM359 138h4v4h-4zM351 150h4v4h-4zM347 154h4v4h-4zM431 158h4v4h-4zM439 170h4v4h-4zM323 182h4v4h-4zM451 186h4v4h-4zM367 206h4v4h-4zM411 210h4v4h-4zM363 218h4v4h-4zM415 222h4v4h-4zM359 230h4v4h-4zM419 234h4v4h-4zM355 242h4v4h-4zM423 246h4v4h-4zM423 250h4v4h-4zM351 254h4v4h-4zM351 258h4v4h-4zM427 262h4v4h-4zM347 270h4v4h-4zM431 274h4v4h-4zM633 166h4v4h-4zM629 170h4v4h-4zM625 174h4v4h-4zM669 178h4v4h-4zM617 182h4v4h-4zM601 194h4v4h-4zM589 202h4v4h-4zM689 202h4v4h-4zM693 206h4v4h-4zM705 222h4v4h-4zM641 226h4v4h-4zM653 226h4v4h-4zM633 230h4v4h-4zM661 230h4v4h-4zM629 234h4v4h-4zM665 234h4v4h-4zM713 234h4v4h-4zM621 250h4v4h-4zM617 262h4v4h-4zM677 262h4v4h-4zM613 274h4v4h-4zM681 274h4v4h-4zM920 186h4v4h-4zM884 190h4v4h-4zM860 210h4v4h-4zM856 214h4v4h-4zM944 218h4v4h-4zM952 230h4v4h-4zM960 242h4v4h-4zM964 246h4v4h-4zM968 250h4v4h-4zM972 254h4v4h-4zM976 258h4v4h-4z"/><path fill="#4b3c46" d="M188 114h4v4h-4zM896 154h4v4h-4zM908 154h4v4h-4zM904 158h4v4h-4zM960 202h4v4h-4z"/><path fill="#7d6e78" d="M192 114h4v4h-4zM387 78h4v4h-4zM411 94h4v4h-4zM427 110h4v4h-4zM431 118h4v4h-4zM327 130h4v4h-4zM331 130h4v4h-4zM629 142h4v4h-4zM709 186h4v4h-4zM888 126h4v4h-4zM892 130h4v4h-4zM892 138h4v4h-4zM904 138h4v4h-4zM912 138h4v4h-4zM888 142h4v4h-4zM916 142h4v4h-4zM864 150h4v4h-4zM880 150h4v4h-4zM920 150h4v4h-4zM868 154h4v4h-4zM924 154h4v4h-4zM936 166h4v4h-4zM940 174h4v4h-4zM948 178h4v4h-4zM956 190h4v4h-4zM964 190h4v4h-4z"/><path fill="#3c192d" d="M68 118h4v4h-4zM200 158h4v4h-4zM128 174h4v4h-4zM132 174h4v4h-4zM120 182h4v4h-4zM140 186h4v4h-4zM116 202h4v4h-4zM144 202h4v4h-4zM144 206h4v4h-4zM112 218h4v4h-4zM112 222h4v4h-4zM148 222h4v4h-4zM148 226h4v4h-4zM108 238h4v4h-4zM108 242h4v4h-4zM152 242h4v4h-4zM108 246h4v4h-4zM152 246h4v4h-4zM152 250h4v4h-4zM104 258h4v4h-4zM104 262h4v4h-4zM156 262h4v4h-4zM104 266h4v4h-4zM156 266h4v4h-4zM156 270h4v4h-4zM395 106h4v4h-4zM375 110h4v4h-4zM407 114h4v4h-4zM363 122h4v4h-4zM355 134h4v4h-4zM427 142h4v4h-4zM439 158h4v4h-4zM327 166h4v4h-4zM323 170h4v4h-4zM451 174h4v4h-4zM387 194h4v4h-4zM391 194h4v4h-4zM399 198h4v4h-4zM371 214h4v4h-4zM407 222h4v4h-4zM367 230h4v4h-4zM367 234h4v4h-4zM411 238h4v4h-4zM411 242h4v4h-4zM363 250h4v4h-4zM363 254h4v4h-4zM415 254h4v4h-4zM415 258h4v4h-4zM359 266h4v4h-4zM359 270h4v4h-4zM419 274h4v4h-4zM641 154h4v4h-4zM653 154h4v4h-4zM657 158h4v4h-4zM665 166h4v4h-4zM669 170h4v4h-4zM617 174h4v4h-4zM605 182h4v4h-4zM593 190h4v4h-4zM585 194h4v4h-4zM693 198h4v4h-4zM697 202h4v4h-4zM709 218h4v4h-4zM641 234h4v4h-4zM653 234h4v4h-4zM629 254h4v4h-4zM665 254h4v4h-4zM625 270h4v4h-4zM669 270h4v4h-4zM669 274h4v4h-4zM892 178h4v4h-4zM916 178h4v4h-4zM880 186h4v4h-4zM864 198h4v4h-4zM848 210h4v4h-4zM948 214h4v4h-4zM956 226h4v4h-4zM960 230h4v4h-4z"/><path fill="#dc2d73" d="M88 118h4v4h-4zM864 226h4v4h-4zM860 234h4v4h-4zM900 234h4v4h-4zM916 238h4v4h-4zM920 242h4v4h-4zM852 246h4v4h-4zM928 254h4v4h-4zM844 258h4v4h-4zM840 266h4v4h-4zM876 274h4v4h-4z"/><path fill="#dc3278" d="M116 118h4v4h-4zM108 122h4v4h-4zM112 122h4v4h-4zM104 126h4v4h-4zM80 150h4v4h-4zM100 150h4v4h-4zM76 154h4v4h-4zM68 166h4v4h-4zM924 246h4v4h-4zM884 254h4v4h-4z"/><path fill="#cd2d6e" d="M116 122h4v4h-4zM116 126h4v4h-4zM112 134h4v4h-4zM112 138h4v4h-4zM108 146h4v4h-4zM104 154h4v4h-4zM100 162h4v4h-4zM96 170h4v4h-4zM92 178h4v4h-4zM88 186h4v4h-4zM84 194h4v4h-4zM68 222h4v4h-4zM912 238h4v4h-4zM948 242h4v4h-4zM880 270h4v4h-4z"/><path fill="#735f69" d="M196 122h4v4h-4zM347 118h4v4h-4zM916 146h4v4h-4z"/><path fill="#87234b" d="M72 126h4v4h-4zM68 130h4v4h-4zM116 170h4v4h-4zM196 174h4v4h-4zM112 178h4v4h-4zM200 182h4v4h-4zM96 218h4v4h-4zM168 230h4v4h-4zM88 238h4v4h-4zM172 238h4v4h-4zM84 246h4v4h-4zM176 250h4v4h-4zM80 258h4v4h-4zM180 258h4v4h-4zM76 266h4v4h-4zM184 270h4v4h-4zM371 130h4v4h-4zM367 134h4v4h-4zM411 138h4v4h-4zM419 150h4v4h-4zM427 162h4v4h-4zM339 174h4v4h-4zM435 174h4v4h-4zM335 178h4v4h-4zM387 178h4v4h-4zM391 178h4v4h-4zM443 186h4v4h-4zM415 202h4v4h-4zM355 218h4v4h-4zM423 222h4v4h-4zM351 226h4v4h-4zM427 230h4v4h-4zM347 238h4v4h-4zM343 246h4v4h-4zM435 250h4v4h-4zM335 266h4v4h-4zM443 270h4v4h-4zM331 274h4v4h-4zM645 162h4v4h-4zM653 166h4v4h-4zM673 190h4v4h-4zM601 202h4v4h-4zM585 214h4v4h-4zM641 218h4v4h-4zM645 218h4v4h-4zM649 218h4v4h-4zM653 218h4v4h-4zM633 222h4v4h-4zM661 222h4v4h-4zM665 226h4v4h-4zM625 230h4v4h-4zM669 230h4v4h-4zM617 242h4v4h-4zM613 250h4v4h-4zM856 222h4v4h-4zM852 226h4v4h-4zM944 226h4v4h-4zM848 230h4v4h-4zM956 246h4v4h-4zM972 266h4v4h-4zM976 270h4v4h-4z"/><path fill="#af285f" d="M76 126h4v4h-4zM72 130h4v4h-4zM124 150h4v4h-4zM140 158h4v4h-4zM112 170h4v4h-4zM152 178h4v4h-4zM156 186h4v4h-4zM200 190h4v4h-4zM160 194h4v4h-4zM164 202h4v4h-4zM92 210h4v4h-4zM168 210h4v4h-4zM88 218h4v4h-4zM172 218h4v4h-4zM84 226h4v4h-4zM176 226h4v4h-4zM80 234h4v4h-4zM180 234h4v4h-4zM76 242h4v4h-4zM184 242h4v4h-4zM72 250h4v4h-4zM188 250h4v4h-4zM68 258h4v4h-4zM200 274h4v4h-4zM403 134h4v4h-4zM407 138h4v4h-4zM335 186h4v4h-4zM649 166h4v4h-4zM617 194h4v4h-4zM637 210h4v4h-4zM641 210h4v4h-4zM645 210h4v4h-4zM649 210h4v4h-4zM653 210h4v4h-4zM685 210h4v4h-4zM617 230h4v4h-4zM677 230h4v4h-4zM613 234h4v4h-4zM681 234h4v4h-4zM685 242h4v4h-4zM605 246h4v4h-4zM689 246h4v4h-4zM601 254h4v4h-4zM693 254h4v4h-4zM597 258h4v4h-4zM697 258h4v4h-4zM593 266h4v4h-4zM701 266h4v4h-4zM589 270h4v4h-4zM589 274h4v4h-4zM705 274h4v4h-4zM912 190h4v4h-4zM904 246h4v4h-4zM908 246h4v4h-4zM896 250h4v4h-4zM916 250h4v4h-4zM892 254h4v4h-4zM960 258h4v4h-4zM888 266h4v4h-4zM924 270h4v4h-4zM924 274h4v4h-4zM972 274h4v4h-4z"/><path fill="#e13278" d="M108 126h4v4h-4zM112 126h4v4h-4zM100 130h4v4h-4zM104 130h4v4h-4zM108 130h4v4h-4zM96 134h4v4h-4zM100 134h4v4h-4zM104 134h4v4h-4zM92 138h4v4h-4zM96 138h4v4h-4zM88 142h4v4h-4zM92 142h4v4h-4zM84 146h4v4h-4zM88 146h4v4h-4zM84 150h4v4h-4zM80 154h4v4h-4zM76 158h4v4h-4zM72 162h4v4h-4zM72 166h4v4h-4zM68 170h4v4h-4zM92 170h4v4h-4zM64 174h4v4h-4zM64 178h4v4h-4zM76 202h4v4h-4zM64 222h4v4h-4zM920 198h4v4h-4zM932 214h4v4h-4zM872 218h4v4h-4zM868 226h4v4h-4zM904 226h4v4h-4zM908 230h4v4h-4zM864 234h4v4h-4zM860 238h4v4h-4zM888 246h4v4h-4zM852 250h4v4h-4zM844 262h4v4h-4zM880 262h4v4h-4zM840 270h4v4h-4zM936 270h4v4h-4zM964 270h4v4h-4z"/><path fill="#64505f" d="M200 126h4v4h-4zM447 134h4v4h-4zM669 150h4v4h-4zM593 162h4v4h-4zM689 170h4v4h-4zM705 186h4v4h-4zM876 158h4v4h-4zM840 174h4v4h-4zM860 174h4v4h-4zM848 178h4v4h-4z"/><path fill="#641e3c" d="M180 130h4v4h-4zM148 190h4v4h-4zM92 250h4v4h-4zM88 262h4v4h-4zM84 274h4v4h-4zM335 170h4v4h-4zM375 190h4v4h-4zM455 194h4v4h-4zM411 206h4v4h-4zM359 226h4v4h-4zM355 238h4v4h-4zM351 250h4v4h-4zM665 174h4v4h-4zM613 186h4v4h-4zM701 218h4v4h-4zM617 258h4v4h-4zM908 182h4v4h-4zM876 198h4v4h-4zM848 222h4v4h-4z"/><path fill="#4b3746" d="M200 130h4v4h-4zM439 134h4v4h-4z"/><path fill="#b4285f" d="M68 134h4v4h-4zM64 138h4v4h-4zM136 150h4v4h-4zM120 154h4v4h-4zM188 162h4v4h-4zM148 170h4v4h-4zM196 182h4v4h-4zM100 190h4v4h-4zM96 198h4v4h-4zM92 206h4v4h-4zM88 214h4v4h-4zM84 222h4v4h-4zM80 230h4v4h-4zM180 230h4v4h-4zM76 238h4v4h-4zM184 238h4v4h-4zM72 246h4v4h-4zM188 246h4v4h-4zM68 254h4v4h-4zM192 254h4v4h-4zM192 258h4v4h-4zM192 262h4v4h-4zM192 266h4v4h-4zM192 270h4v4h-4zM200 270h4v4h-4zM192 274h4v4h-4zM391 126h4v4h-4zM359 154h4v4h-4zM427 170h4v4h-4zM339 182h4v4h-4zM435 182h4v4h-4zM443 194h4v4h-4zM323 202h4v4h-4zM451 206h4v4h-4zM645 166h4v4h-4zM653 170h4v4h-4zM661 178h4v4h-4zM625 186h4v4h-4zM613 198h4v4h-4zM633 210h4v4h-4zM657 210h4v4h-4zM629 214h4v4h-4zM665 214h4v4h-4zM589 218h4v4h-4zM625 218h4v4h-4zM669 218h4v4h-4zM621 222h4v4h-4zM673 222h4v4h-4zM617 226h4v4h-4zM677 226h4v4h-4zM609 238h4v4h-4zM685 238h4v4h-4zM605 242h4v4h-4zM689 242h4v4h-4zM601 250h4v4h-4zM693 250h4v4h-4zM597 254h4v4h-4zM697 254h4v4h-4zM593 262h4v4h-4zM701 262h4v4h-4zM705 270h4v4h-4zM585 274h4v4h-4zM932 210h4v4h-4zM900 246h4v4h-4zM912 246h4v4h-4zM952 246h4v4h-4zM920 254h4v4h-4zM888 262h4v4h-4zM924 262h4v4h-4zM924 266h4v4h-4zM968 270h4v4h-4z"/><path fill="#e63278" d="M100 138h4v4h-4zM104 138h4v4h-4zM96 142h4v4h-4zM80 158h4v4h-4zM96 158h4v4h-4zM76 162h4v4h-4zM68 174h4v4h-4zM88 178h4v4h-4zM84 186h4v4h-4zM80 194h4v4h-4zM876 214h4v4h-4zM872 222h4v4h-4zM908 226h4v4h-4zM868 230h4v4h-4zM900 230h4v4h-4zM856 246h4v4h-4zM928 250h4v4h-4zM848 258h4v4h-4zM932 258h4v4h-4zM844 266h4v4h-4zM876 270h4v4h-4z"/><path fill="#e63778" d="M100 142h4v4h-4zM92 146h4v4h-4zM88 150h4v4h-4zM84 154h4v4h-4zM96 154h4v4h-4zM72 170h4v4h-4zM64 182h4v4h-4zM896 194h4v4h-4zM936 222h4v4h-4zM896 234h4v4h-4zM892 238h4v4h-4zM860 242h4v4h-4zM852 254h4v4h-4zM936 266h4v4h-4zM840 274h4v4h-4zM940 274h4v4h-4z"/><path fill="#c82d69" d="M120 142h4v4h-4zM144 150h4v4h-4zM184 154h4v4h-4zM148 162h4v4h-4zM100 178h4v4h-4zM92 190h4v4h-4zM168 190h4v4h-4zM84 202h4v4h-4zM176 202h4v4h-4zM76 214h4v4h-4zM184 214h4v4h-4zM192 226h4v4h-4zM64 234h4v4h-4zM196 234h4v4h-4zM200 238h4v4h-4zM916 242h4v4h-4zM920 246h4v4h-4z"/><path fill="#731e46" d="M184 142h4v4h-4zM124 162h4v4h-4zM116 174h4v4h-4zM108 194h4v4h-4zM104 206h4v4h-4zM160 218h4v4h-4zM164 230h4v4h-4zM92 238h4v4h-4zM168 242h4v4h-4zM88 250h4v4h-4zM84 262h4v4h-4zM80 274h4v4h-4zM180 274h4v4h-4zM395 118h4v4h-4zM371 126h4v4h-4zM367 130h4v4h-4zM411 134h4v4h-4zM419 146h4v4h-4zM427 158h4v4h-4zM335 174h4v4h-4zM331 178h4v4h-4zM387 182h4v4h-4zM391 182h4v4h-4zM407 194h4v4h-4zM367 198h4v4h-4zM455 198h4v4h-4zM459 202h4v4h-4zM363 206h4v4h-4zM415 210h4v4h-4zM359 218h4v4h-4zM419 222h4v4h-4zM355 230h4v4h-4zM423 234h4v4h-4zM347 250h4v4h-4zM431 254h4v4h-4zM343 262h4v4h-4zM435 266h4v4h-4zM339 274h4v4h-4zM637 166h4v4h-4zM625 178h4v4h-4zM601 198h4v4h-4zM689 206h4v4h-4zM585 210h4v4h-4zM641 222h4v4h-4zM653 222h4v4h-4zM633 226h4v4h-4zM661 226h4v4h-4zM665 230h4v4h-4zM621 242h4v4h-4zM673 242h4v4h-4zM617 250h4v4h-4zM609 270h4v4h-4zM685 270h4v4h-4zM888 190h4v4h-4zM928 198h4v4h-4zM856 218h4v4h-4zM852 222h4v4h-4zM944 222h4v4h-4zM956 242h4v4h-4z"/><path fill="#e63c73" d="M96 146h4v4h-4zM68 178h4v4h-4zM880 210h4v4h-4zM904 222h4v4h-4zM940 230h4v4h-4zM884 250h4v4h-4z"/><path fill="#d72d6e" d="M104 146h4v4h-4zM96 166h4v4h-4zM188 166h4v4h-4zM92 174h4v4h-4zM84 190h4v4h-4zM916 194h4v4h-4zM908 234h4v4h-4zM848 242h4v4h-4zM840 254h4v4h-4z"/><path fill="#e64173" d="M92 150h4v4h-4zM80 162h4v4h-4zM68 214h4v4h-4zM876 218h4v4h-4zM872 226h4v4h-4zM868 234h4v4h-4zM888 242h4v4h-4zM924 242h4v4h-4zM856 250h4v4h-4zM848 262h4v4h-4zM960 266h4v4h-4zM844 270h4v4h-4z"/><path fill="#e64b6e" d="M96 150h4v4h-4zM884 206h4v4h-4zM880 214h4v4h-4zM876 222h4v4h-4zM912 226h4v4h-4zM872 230h4v4h-4zM896 230h4v4h-4zM860 246h4v4h-4zM928 246h4v4h-4zM948 246h4v4h-4zM876 266h4v4h-4zM872 274h4v4h-4zM964 274h4v4h-4z"/><path fill="#e64673" d="M88 154h4v4h-4zM84 158h4v4h-4zM92 166h4v4h-4zM72 174h4v4h-4zM64 186h4v4h-4zM908 222h4v4h-4zM900 226h4v4h-4zM944 238h4v4h-4zM932 254h4v4h-4zM880 258h4v4h-4zM936 262h4v4h-4zM940 270h4v4h-4z"/><path fill="#e6506e" d="M92 154h4v4h-4zM92 162h4v4h-4zM76 170h4v4h-4zM72 206h4v4h-4zM904 218h4v4h-4zM892 234h4v4h-4zM864 242h4v4h-4zM952 254h4v4h-4zM852 258h4v4h-4z"/><path fill="#b92864" d="M140 154h4v4h-4zM108 174h4v4h-4zM156 182h4v4h-4zM160 190h4v4h-4zM164 198h4v4h-4zM84 218h4v4h-4zM80 226h4v4h-4zM76 234h4v4h-4zM184 234h4v4h-4zM72 242h4v4h-4zM188 242h4v4h-4zM68 250h4v4h-4zM192 250h4v4h-4zM196 258h4v4h-4zM200 266h4v4h-4zM379 130h4v4h-4zM375 134h4v4h-4zM355 162h4v4h-4zM343 178h4v4h-4zM459 218h4v4h-4zM609 202h4v4h-4zM629 206h4v4h-4zM633 206h4v4h-4zM637 206h4v4h-4zM641 206h4v4h-4zM645 206h4v4h-4zM649 206h4v4h-4zM653 206h4v4h-4zM657 206h4v4h-4zM661 206h4v4h-4zM665 206h4v4h-4zM681 206h4v4h-4zM625 210h4v4h-4zM629 210h4v4h-4zM665 210h4v4h-4zM669 210h4v4h-4zM621 214h4v4h-4zM625 214h4v4h-4zM669 214h4v4h-4zM673 214h4v4h-4zM617 218h4v4h-4zM621 218h4v4h-4zM673 218h4v4h-4zM677 218h4v4h-4zM585 222h4v4h-4zM613 222h4v4h-4zM617 222h4v4h-4zM677 222h4v4h-4zM681 222h4v4h-4zM613 226h4v4h-4zM681 226h4v4h-4zM609 230h4v4h-4zM685 230h4v4h-4zM605 238h4v4h-4zM689 238h4v4h-4zM705 238h4v4h-4zM601 242h4v4h-4zM597 250h4v4h-4zM697 250h4v4h-4zM593 258h4v4h-4zM701 258h4v4h-4zM705 266h4v4h-4zM900 190h4v4h-4zM936 218h4v4h-4zM860 226h4v4h-4zM856 230h4v4h-4zM852 234h4v4h-4zM848 238h4v4h-4zM844 242h4v4h-4zM896 246h4v4h-4zM916 246h4v4h-4zM892 250h4v4h-4zM956 254h4v4h-4zM888 258h4v4h-4zM884 270h4v4h-4zM928 274h4v4h-4z"/><path fill="#e65a69" d="M88 158h4v4h-4zM84 162h4v4h-4zM64 190h4v4h-4zM76 198h4v4h-4zM888 202h4v4h-4zM908 218h4v4h-4zM900 222h4v4h-4zM876 226h4v4h-4zM924 238h4v4h-4zM856 254h4v4h-4zM880 254h4v4h-4zM960 270h4v4h-4z"/><path fill="#eb6464" d="M92 158h4v4h-4zM892 198h4v4h-4zM912 222h4v4h-4zM932 222h4v4h-4zM896 226h4v4h-4zM936 230h4v4h-4zM940 238h4v4h-4zM884 242h4v4h-4zM932 246h4v4h-4zM860 250h4v4h-4zM936 254h4v4h-4zM952 258h4v4h-4zM876 262h4v4h-4zM940 262h4v4h-4zM956 266h4v4h-4zM872 270h4v4h-4z"/><path fill="#eb6e5f" d="M88 162h4v4h-4zM76 174h4v4h-4zM68 186h4v4h-4zM880 222h4v4h-4zM920 230h4v4h-4zM924 234h4v4h-4zM936 234h4v4h-4zM932 242h4v4h-4zM936 246h4v4h-4zM940 254h4v4h-4zM948 254h4v4h-4zM948 270h4v4h-4z"/><path fill="#b9285f" d="M116 162h4v4h-4zM104 182h4v4h-4zM168 206h4v4h-4zM172 214h4v4h-4zM176 222h4v4h-4zM196 262h4v4h-4zM196 266h4v4h-4zM196 270h4v4h-4zM196 274h4v4h-4zM387 126h4v4h-4zM419 158h4v4h-4zM657 174h4v4h-4zM669 190h4v4h-4zM661 210h4v4h-4zM697 226h4v4h-4zM613 230h4v4h-4zM681 230h4v4h-4zM609 234h4v4h-4zM685 234h4v4h-4zM601 246h4v4h-4zM693 246h4v4h-4zM713 250h4v4h-4zM589 266h4v4h-4zM709 274h4v4h-4zM840 246h4v4h-4zM884 274h4v4h-4z"/><path fill="#e63c78" d="M76 166h4v4h-4zM912 230h4v4h-4zM916 234h4v4h-4zM864 238h4v4h-4zM920 238h4v4h-4z"/><path fill="#e65569" d="M80 166h4v4h-4zM88 174h4v4h-4zM912 194h4v4h-4zM928 210h4v4h-4zM932 218h4v4h-4zM936 226h4v4h-4zM916 230h4v4h-4zM920 234h4v4h-4zM940 234h4v4h-4zM868 238h4v4h-4zM888 238h4v4h-4zM944 242h4v4h-4zM932 250h4v4h-4zM936 258h4v4h-4zM956 262h4v4h-4zM848 266h4v4h-4zM940 266h4v4h-4zM844 274h4v4h-4zM944 274h4v4h-4z"/><path fill="#eb735a" d="M84 166h4v4h-4zM80 170h4v4h-4zM68 210h4v4h-4zM888 206h4v4h-4zM884 214h4v4h-4zM908 214h4v4h-4zM896 222h4v4h-4zM932 226h4v4h-4zM884 234h4v4h-4zM928 234h4v4h-4zM872 238h4v4h-4zM944 250h4v4h-4zM952 262h4v4h-4zM956 270h4v4h-4z"/><path fill="#f07d50" d="M88 166h4v4h-4zM84 178h4v4h-4zM72 182h4v4h-4zM916 198h4v4h-4zM884 218h4v4h-4zM876 242h4v4h-4zM936 242h4v4h-4zM944 254h4v4h-4zM852 266h4v4h-4z"/><path fill="#a5285a" d="M144 166h4v4h-4zM76 246h4v4h-4zM331 238h4v4h-4zM601 258h4v4h-4zM920 262h4v4h-4z"/><path fill="#f0874b" d="M84 170h4v4h-4zM76 178h4v4h-4zM72 202h4v4h-4zM64 214h4v4h-4zM896 198h4v4h-4zM908 210h4v4h-4zM896 218h4v4h-4zM888 222h4v4h-4zM892 222h4v4h-4zM920 222h4v4h-4zM880 234h4v4h-4zM876 238h4v4h-4zM872 242h4v4h-4zM876 246h4v4h-4zM864 250h4v4h-4zM876 250h4v4h-4zM944 258h4v4h-4zM948 266h4v4h-4z"/><path fill="#eb695f" d="M88 170h4v4h-4zM904 214h4v4h-4zM916 226h4v4h-4zM876 230h4v4h-4zM888 234h4v4h-4zM928 238h4v4h-4zM864 246h4v4h-4zM880 250h4v4h-4zM936 250h4v4h-4zM940 258h4v4h-4zM852 262h4v4h-4zM944 266h4v4h-4zM848 270h4v4h-4zM948 274h4v4h-4zM960 274h4v4h-4z"/><path fill="#c32869" d="M108 170h4v4h-4zM84 210h4v4h-4zM180 218h4v4h-4zM72 230h4v4h-4zM192 238h4v4h-4zM597 214h4v4h-4z"/><path fill="#f08c46" d="M80 174h4v4h-4zM80 186h4v4h-4zM68 190h4v4h-4zM76 194h4v4h-4zM904 194h4v4h-4zM908 194h4v4h-4zM920 206h4v4h-4zM912 214h4v4h-4zM924 214h4v4h-4zM892 218h4v4h-4zM916 218h4v4h-4zM920 218h4v4h-4zM884 222h4v4h-4zM928 226h4v4h-4zM868 246h4v4h-4zM872 262h4v4h-4zM868 270h4v4h-4z"/><path fill="#f0824b" d="M84 174h4v4h-4zM888 210h4v4h-4zM904 210h4v4h-4zM900 214h4v4h-4zM928 222h4v4h-4zM876 254h4v4h-4z"/><path fill="#eb5f64" d="M72 178h4v4h-4zM80 190h4v4h-4zM884 210h4v4h-4zM880 218h4v4h-4zM944 270h4v4h-4z"/><path fill="#f5a532" d="M80 178h4v4h-4zM76 182h4v4h-4zM896 202h4v4h-4zM892 210h4v4h-4zM920 214h4v4h-4zM868 250h4v4h-4zM864 254h4v4h-4z"/><path fill="#e6556e" d="M68 182h4v4h-4zM884 246h4v4h-4z"/><path fill="#f59b3c" d="M80 182h4v4h-4zM72 186h4v4h-4zM916 202h4v4h-4zM904 206h4v4h-4zM896 210h4v4h-4zM912 210h4v4h-4zM888 218h4v4h-4zM924 222h4v4h-4zM872 254h4v4h-4zM872 258h4v4h-4zM868 266h4v4h-4zM864 274h4v4h-4z"/><path fill="#e65f69" d="M84 182h4v4h-4zM872 234h4v4h-4zM928 242h4v4h-4zM948 250h4v4h-4z"/><path fill="#fabe19" d="M76 186h4v4h-4zM68 198h4v4h-4zM868 254h4v4h-4zM856 270h4v4h-4z"/><path fill="#2d1928" d="M136 186h4v4h-4zM120 214h4v4h-4zM116 246h4v4h-4zM144 254h4v4h-4zM375 106h4v4h-4zM367 258h4v4h-4z"/><path fill="#fab91e" d="M72 190h4v4h-4zM904 198h4v4h-4zM912 202h4v4h-4z"/><path fill="#f5aa2d" d="M76 190h4v4h-4zM868 258h4v4h-4zM868 262h4v4h-4zM856 266h4v4h-4zM864 270h4v4h-4z"/><path fill="#eb7855" d="M64 194h4v4h-4zM920 202h4v4h-4zM924 210h4v4h-4zM912 218h4v4h-4zM928 218h4v4h-4zM916 222h4v4h-4zM880 226h4v4h-4zM892 226h4v4h-4zM884 230h4v4h-4zM888 230h4v4h-4zM924 230h4v4h-4zM928 230h4v4h-4zM876 234h4v4h-4zM880 238h4v4h-4zM936 238h4v4h-4zM880 242h4v4h-4zM940 246h4v4h-4zM856 258h4v4h-4zM876 258h4v4h-4zM948 258h4v4h-4zM872 266h4v4h-4zM868 274h4v4h-4z"/><path fill="#f5aa32" d="M68 194h4v4h-4zM64 202h4v4h-4zM900 198h4v4h-4z"/><path fill="#fac80f" d="M72 194h4v4h-4zM908 202h4v4h-4z"/><path fill="#f09141" d="M64 198h4v4h-4zM888 214h4v4h-4zM856 262h4v4h-4z"/><path fill="#f5af2d" d="M72 198h4v4h-4zM892 214h4v4h-4zM852 274h4v4h-4z"/><path fill="#871e4b" d="M104 198h4v4h-4zM693 214h4v4h-4z"/><path fill="#fac814" d="M68 202h4v4h-4z"/><path fill="#aa285f" d="M96 202h4v4h-4zM399 130h4v4h-4zM351 166h4v4h-4zM697 262h4v4h-4z"/><path fill="#641e41" d="M152 202h4v4h-4zM415 218h4v4h-4zM347 262h4v4h-4zM343 274h4v4h-4z"/><path fill="#fab423" d="M64 206h4v4h-4zM64 210h4v4h-4zM908 198h4v4h-4z"/><path fill="#f5a037" d="M68 206h4v4h-4zM912 198h4v4h-4zM900 206h4v4h-4zM908 206h4v4h-4zM912 206h4v4h-4zM920 210h4v4h-4zM872 246h4v4h-4zM860 258h4v4h-4z"/><path fill="#eb5f69" d="M64 218h4v4h-4z"/><path fill="#731e41" d="M100 218h4v4h-4zM172 254h4v4h-4zM176 266h4v4h-4zM359 142h4v4h-4zM447 186h4v4h-4zM351 242h4v4h-4zM427 246h4v4h-4zM621 182h4v4h-4zM645 222h4v4h-4zM649 222h4v4h-4zM629 230h4v4h-4zM713 238h4v4h-4zM681 262h4v4h-4z"/><path fill="#b9aab9" d="M403 62h4v4h-4zM932 150h4v4h-4z"/><path fill="#af9baa" d="M399 66h4v4h-4zM435 102h4v4h-4zM439 110h4v4h-4zM617 134h4v4h-4zM852 90h4v4h-4zM848 94h4v4h-4zM880 102h4v4h-4zM872 106h4v4h-4zM904 114h4v4h-4zM976 174h4v4h-4z"/><path fill="#aa9ba5" d="M367 70h4v4h-4zM403 74h4v4h-4zM411 78h4v4h-4zM363 82h4v4h-4zM415 82h4v4h-4zM419 82h4v4h-4zM347 98h4v4h-4zM327 102h4v4h-4zM443 106h4v4h-4zM331 110h4v4h-4zM323 114h4v4h-4zM327 114h4v4h-4zM621 130h4v4h-4zM581 146h4v4h-4zM860 90h4v4h-4zM844 94h4v4h-4zM860 94h4v4h-4zM848 98h4v4h-4zM884 98h4v4h-4zM896 98h4v4h-4zM840 102h4v4h-4zM848 102h4v4h-4zM892 102h4v4h-4zM912 102h4v4h-4zM868 110h4v4h-4zM868 114h4v4h-4zM872 114h4v4h-4zM880 114h4v4h-4zM908 118h4v4h-4zM916 118h4v4h-4zM924 118h4v4h-4zM920 122h4v4h-4zM848 126h4v4h-4zM852 126h4v4h-4zM868 126h4v4h-4zM872 126h4v4h-4zM872 134h4v4h-4zM924 134h4v4h-4zM928 134h4v4h-4zM940 154h4v4h-4zM964 178h4v4h-4z"/><path fill="#afa5af" d="M399 70h4v4h-4zM928 126h4v4h-4zM936 154h4v4h-4z"/><path fill="#918291" d="M391 74h4v4h-4zM439 118h4v4h-4zM649 130h4v4h-4zM653 130h4v4h-4zM629 134h4v4h-4zM601 146h4v4h-4zM884 102h4v4h-4zM880 126h4v4h-4zM892 126h4v4h-4zM860 142h4v4h-4zM876 142h4v4h-4zM880 142h4v4h-4zM940 166h4v4h-4zM944 166h4v4h-4z"/><path fill="#cdbec8" d="M459 74h4v4h-4zM972 122h4v4h-4zM976 166h4v4h-4z"/><path fill="#826e7d" d="M375 82h4v4h-4zM351 106h4v4h-4zM347 114h4v4h-4zM339 122h4v4h-4zM455 134h4v4h-4zM601 150h4v4h-4zM605 150h4v4h-4zM605 154h4v4h-4zM677 154h4v4h-4zM585 162h4v4h-4zM713 190h4v4h-4zM908 138h4v4h-4zM860 150h4v4h-4zM924 150h4v4h-4zM848 154h4v4h-4zM856 154h4v4h-4zM872 154h4v4h-4zM920 154h4v4h-4zM844 162h4v4h-4zM844 166h4v4h-4zM936 170h4v4h-4z"/><path fill="#8c7d8c" d="M399 82h4v4h-4zM335 122h4v4h-4zM447 130h4v4h-4zM609 146h4v4h-4zM585 158h4v4h-4zM908 126h4v4h-4zM920 142h4v4h-4zM844 158h4v4h-4z"/><path fill="#64555f" d="M387 86h4v4h-4zM681 162h4v4h-4zM892 142h4v4h-4zM844 170h4v4h-4zM852 170h4v4h-4zM840 182h4v4h-4z"/><path fill="#b4a5b4" d="M423 86h4v4h-4zM439 90h4v4h-4zM641 122h4v4h-4zM693 154h4v4h-4zM880 90h4v4h-4zM852 94h4v4h-4zM868 106h4v4h-4zM928 106h4v4h-4zM848 114h4v4h-4zM972 178h4v4h-4z"/><path fill="#50414b" d="M407 94h4v4h-4zM713 198h4v4h-4zM900 158h4v4h-4zM908 158h4v4h-4zM880 162h4v4h-4zM840 178h4v4h-4zM936 178h4v4h-4zM848 182h4v4h-4zM968 206h4v4h-4z"/><path fill="#786473" d="M363 98h4v4h-4zM415 98h4v4h-4zM359 102h4v4h-4zM419 102h4v4h-4zM351 110h4v4h-4zM343 114h4v4h-4zM351 114h4v4h-4zM331 122h4v4h-4zM443 134h4v4h-4zM697 174h4v4h-4zM912 142h4v4h-4zM860 154h4v4h-4zM856 158h4v4h-4zM924 162h4v4h-4zM936 174h4v4h-4zM956 194h4v4h-4zM972 202h4v4h-4z"/><path fill="#5f4b5a" d="M411 98h4v4h-4zM427 118h4v4h-4zM339 126h4v4h-4zM693 174h4v4h-4zM916 150h4v4h-4zM916 158h4v4h-4zM920 162h4v4h-4zM928 162h4v4h-4zM864 166h4v4h-4zM924 166h4v4h-4zM852 178h4v4h-4z"/><path fill="#6e5a69" d="M355 102h4v4h-4zM443 130h4v4h-4zM323 134h4v4h-4zM459 150h4v4h-4zM665 146h4v4h-4zM916 154h4v4h-4zM928 158h4v4h-4zM872 162h4v4h-4zM864 170h4v4h-4z"/><path fill="#554150" d="M359 106h4v4h-4zM323 142h4v4h-4zM912 154h4v4h-4zM856 178h4v4h-4zM976 210h4v4h-4z"/><path fill="#46323c" d="M419 110h4v4h-4zM884 166h4v4h-4zM852 182h4v4h-4z"/><path fill="#55414b" d="M423 114h4v4h-4zM443 138h4v4h-4zM657 142h4v4h-4zM892 154h4v4h-4zM860 170h4v4h-4z"/><path fill="#5f505a" d="M343 122h4v4h-4zM327 138h4v4h-4zM585 166h4v4h-4zM685 166h4v4h-4zM892 150h4v4h-4zM884 154h4v4h-4zM868 162h4v4h-4zM840 170h4v4h-4zM848 170h4v4h-4zM964 202h4v4h-4z"/><path fill="#877887" d="M323 126h4v4h-4zM888 118h4v4h-4zM920 130h4v4h-4zM880 146h4v4h-4z"/><path fill="#372332" d="M431 126h4v4h-4zM331 138h4v4h-4z"/><path fill="#412d37" d="M459 158h4v4h-4zM637 142h4v4h-4zM585 170h4v4h-4z"/><path fill="#e6dce1" d="M613 66h4v4h-4zM629 66h4v4h-4zM665 70h4v4h-4zM601 74h4v4h-4zM601 78h4v4h-4zM637 78h4v4h-4zM661 78h4v4h-4zM621 82h4v4h-4zM689 82h4v4h-4zM653 86h4v4h-4zM701 98h4v4h-4zM625 102h4v4h-4zM693 102h4v4h-4zM681 122h4v4h-4zM944 66h4v4h-4z"/><path fill="#f0ebf0" d="M593 70h4v4h-4zM617 78h4v4h-4zM629 90h4v4h-4zM641 94h4v4h-4z"/><path fill="#e6e1e1" d="M613 70h4v4h-4zM625 70h4v4h-4zM709 78h4v4h-4zM693 98h4v4h-4zM852 70h4v4h-4z"/><path fill="#ebe6e6" d="M685 74h4v4h-4zM713 86h4v4h-4z"/><path fill="#e6e6e6" d="M661 86h4v4h-4z"/><path fill="#ebebeb" d="M681 86h4v4h-4zM685 90h4v4h-4zM713 94h4v4h-4z"/><path fill="#5f4b55" d="M908 150h4v4h-4zM892 158h4v4h-4zM912 158h4v4h-4zM876 166h4v4h-4zM844 174h4v4h-4z"/><path fill="#78646e" d="M932 162h4v4h-4z"/><path fill="#eb6e5a" d="M900 194h4v4h-4zM900 218h4v4h-4zM884 238h4v4h-4zM932 238h4v4h-4zM868 242h4v4h-4zM940 242h4v4h-4zM944 262h4v4h-4zM952 274h4v4h-4z"/><path fill="#f08250" d="M892 202h4v4h-4zM888 226h4v4h-4zM924 226h4v4h-4zM880 230h4v4h-4zM932 234h4v4h-4zM940 250h4v4h-4zM860 254h4v4h-4zM948 262h4v4h-4zM952 270h4v4h-4zM848 274h4v4h-4z"/><path fill="#fac319" d="M900 202h4v4h-4z"/><path fill="#facd0f" d="M904 202h4v4h-4z"/><path fill="#827382" d="M976 202h4v4h-4z"/><path fill="#f0963c" d="M892 206h4v4h-4z"/><path fill="#fab923" d="M896 206h4v4h-4zM916 210h4v4h-4z"/><path fill="#f5af28" d="M916 206h4v4h-4zM864 266h4v4h-4zM860 274h4v4h-4z"/><path fill="#eb6964" d="M924 206h4v4h-4zM928 214h4v4h-4zM892 230h4v4h-4zM944 246h4v4h-4z"/><path fill="#64505a" d="M972 206h4v4h-4z"/><path fill="#f09641" d="M900 210h4v4h-4zM896 214h4v4h-4zM916 214h4v4h-4zM924 218h4v4h-4zM872 250h4v4h-4zM852 270h4v4h-4z"/><path fill="#f09146" d="M884 226h4v4h-4z"/><path fill="#eb7d55" d="M920 226h4v4h-4zM932 230h4v4h-4zM952 266h4v4h-4zM956 274h4v4h-4z"/><path fill="#eb7355" d="M880 246h4v4h-4z"/><path fill="#fac314" d="M864 258h4v4h-4z"/><path fill="#fabe1e" d="M860 262h4v4h-4z"/><path fill="#ffd205" d="M864 262h4v4h-4z"/><path fill="#ffcd0a" d="M860 266h4v4h-4zM856 274h4v4h-4z"/><path fill="#ffd705" d="M860 270h4v4h-4z"/></g></g>
<path d="M67.0 86.0H196.3M196.3 86.0H325.6M325.6 86.0H454.9M454.9 86.0H584.2M584.2 86.0H713.5M713.5 86.0H842.8M842.8 86.0H972.1M972.1 86.0H1101.4" stroke="#111" stroke-width="2.6" stroke-dasharray="6.8 6.8" fill="none"/>
<defs><clipPath id="allc"><rect x="67.0" y="65.0" width="129.3" height="207.0"/><rect x="196.3" y="65.0" width="129.3" height="207.0"/><rect x="325.6" y="65.0" width="129.3" height="207.0"/><rect x="454.9" y="65.0" width="129.3" height="207.0"/><rect x="584.2" y="65.0" width="129.3" height="207.0"/><rect x="713.5" y="65.0" width="129.3" height="207.0"/><rect x="842.8" y="65.0" width="129.3" height="207.0"/><rect x="972.1" y="65.0" width="129.3" height="207.0"/></clipPath></defs>
<defs><clipPath id="pc"><rect x="196.3" y="65.0" width="129.3" height="207.0"/><rect x="454.9" y="65.0" width="129.3" height="207.0"/><rect x="713.5" y="65.0" width="129.3" height="207.0"/><rect x="972.1" y="65.0" width="129.3" height="207.0"/></clipPath><clipPath id="hc2"><rect x="67.0" y="65.0" width="129.3" height="207.0"/><rect x="325.6" y="65.0" width="129.3" height="207.0"/><rect x="584.2" y="65.0" width="129.3" height="207.0"/><rect x="842.8" y="65.0" width="129.3" height="207.0"/></clipPath></defs>
<g clip-path="url(#pc)">
<path d="M153.1 292.0L261.0 80.6L368.8 292.0" fill="none" stroke="#111" stroke-width="2.5" stroke-dasharray="7 6.2" stroke-dashoffset="-233.8" stroke-linejoin="miter" stroke-miterlimit="10"/>
<polyline points="183.4,236.1 184.7,233.6 186.0,231.1 187.2,228.6 188.5,226.2 189.8,223.7 191.1,221.2 192.4,218.8 193.7,216.3 195.0,213.8 196.3,211.4 197.6,208.9 198.9,206.5 200.2,204.0 201.5,201.6 202.8,199.2 204.1,196.7 205.4,194.3 206.6,191.9 207.9,189.4 209.2,187.0 210.5,184.6 211.8,182.2 213.1,179.8 214.4,177.4 215.7,175.0 217.0,172.7 218.3,170.3 219.6,167.9 220.9,165.6 222.2,163.3 223.5,160.9 224.7,158.6 226.0,156.3 227.3,154.1 228.6,151.8 229.9,149.5 231.2,147.3 232.5,145.1 233.8,142.9 235.1,140.8 236.4,138.7 237.7,136.6 239.0,134.6 240.3,132.6 241.6,130.6 242.8,128.7 244.1,126.9 245.4,125.1 246.7,123.4 248.0,121.8 249.3,120.3 250.6,118.9 251.9,117.6 253.2,116.5 254.5,115.5 255.8,114.6 257.1,114.0 258.4,113.5 259.7,113.2 261.0,113.1 262.2,113.2 263.5,113.5 264.8,114.0 266.1,114.6 267.4,115.5 268.7,116.5 270.0,117.6 271.3,118.9 272.6,120.3 273.9,121.8 275.2,123.4 276.5,125.1 277.8,126.9 279.1,128.7 280.3,130.6 281.6,132.6 282.9,134.6 284.2,136.6 285.5,138.7 286.8,140.8 288.1,142.9 289.4,145.1 290.7,147.3 292.0,149.5 293.3,151.8 294.6,154.1 295.9,156.3 297.2,158.6 298.4,160.9 299.7,163.3 301.0,165.6 302.3,167.9 303.6,170.3 304.9,172.7 306.2,175.0 307.5,177.4 308.8,179.8 310.1,182.2 311.4,184.6 312.7,187.0 314.0,189.4 315.3,191.9 316.5,194.3 317.8,196.7 319.1,199.2 320.4,201.6 321.7,204.0 323.0,206.5 324.3,208.9 325.6,211.4 326.9,213.8 328.2,216.3 329.5,218.8 330.8,221.2 332.1,223.7 333.4,226.2 334.7,228.6 335.9,231.1 337.2,233.6 338.5,236.1" fill="none" stroke="#2b2f95" stroke-width="4.8" stroke-linejoin="round"/>
<path d="M421.4 292.0L519.6 110.0L617.7 292.0" fill="none" stroke="#111" stroke-width="2.5" stroke-dasharray="7 6.2" stroke-dashoffset="-203.3" stroke-linejoin="miter" stroke-miterlimit="10"/>
<polyline points="442.0,257.4 443.3,255.1 444.6,252.8 445.8,250.4 447.1,248.1 448.4,245.8 449.7,243.4 451.0,241.1 452.3,238.8 453.6,236.5 454.9,234.1 456.2,231.8 457.5,229.5 458.8,227.2 460.1,224.9 461.4,222.6 462.7,220.3 464.0,218.0 465.2,215.7 466.5,213.4 467.8,211.2 469.1,208.9 470.4,206.6 471.7,204.4 473.0,202.1 474.3,199.9 475.6,197.6 476.9,195.4 478.2,193.2 479.5,191.0 480.8,188.8 482.1,186.6 483.3,184.4 484.6,182.3 485.9,180.1 487.2,178.0 488.5,175.9 489.8,173.8 491.1,171.7 492.4,169.7 493.7,167.7 495.0,165.7 496.3,163.8 497.6,161.9 498.9,160.0 500.2,158.2 501.4,156.4 502.7,154.7 504.0,153.1 505.3,151.5 506.6,150.0 507.9,148.6 509.2,147.3 510.5,146.2 511.8,145.1 513.1,144.2 514.4,143.4 515.7,142.8 517.0,142.4 518.3,142.1 519.6,142.0 520.8,142.1 522.1,142.4 523.4,142.8 524.7,143.4 526.0,144.2 527.3,145.1 528.6,146.2 529.9,147.3 531.2,148.6 532.5,150.0 533.8,151.5 535.1,153.1 536.4,154.7 537.7,156.4 538.9,158.2 540.2,160.0 541.5,161.9 542.8,163.8 544.1,165.7 545.4,167.7 546.7,169.7 548.0,171.7 549.3,173.8 550.6,175.9 551.9,178.0 553.2,180.1 554.5,182.3 555.8,184.4 557.0,186.6 558.3,188.8 559.6,191.0 560.9,193.2 562.2,195.4 563.5,197.6 564.8,199.9 566.1,202.1 567.4,204.4 568.7,206.6 570.0,208.9 571.3,211.2 572.6,213.4 573.9,215.7 575.1,218.0 576.4,220.3 577.7,222.6 579.0,224.9 580.3,227.2 581.6,229.5 582.9,231.8 584.2,234.1 585.5,236.5 586.8,238.8 588.1,241.1 589.4,243.4 590.7,245.8 592.0,248.1 593.3,250.4 594.5,252.8 595.8,255.1 597.1,257.4" fill="none" stroke="#2b2f95" stroke-width="4.8" stroke-linejoin="round"/>
<path d="M705.4 292.0L778.1 155.9L850.9 292.0" fill="none" stroke="#111" stroke-width="2.5" stroke-dasharray="7 6.2" stroke-dashoffset="-150.8" stroke-linejoin="miter" stroke-miterlimit="10"/>
<polyline points="700.6,302.1 701.9,299.7 703.2,297.3 704.4,294.9 705.7,292.5 707.0,290.1 708.3,287.7 709.6,285.3 710.9,282.9 712.2,280.5 713.5,278.1 714.8,275.7 716.1,273.3 717.4,270.9 718.7,268.5 720.0,266.1 721.3,263.7 722.6,261.3 723.8,259.0 725.1,256.6 726.4,254.2 727.7,251.8 729.0,249.4 730.3,247.1 731.6,244.7 732.9,242.3 734.2,239.9 735.5,237.6 736.8,235.2 738.1,232.8 739.4,230.5 740.7,228.1 741.9,225.8 743.2,223.4 744.5,221.1 745.8,218.8 747.1,216.5 748.4,214.1 749.7,211.8 751.0,209.5 752.3,207.2 753.6,205.0 754.9,202.7 756.2,200.5 757.5,198.2 758.8,196.0 760.0,193.9 761.3,191.7 762.6,189.6 763.9,187.6 765.2,185.6 766.5,183.6 767.8,181.8 769.1,180.0 770.4,178.4 771.7,176.9 773.0,175.6 774.3,174.5 775.6,173.7 776.9,173.2 778.1,173.1 779.4,173.2 780.7,173.7 782.0,174.5 783.3,175.6 784.6,176.9 785.9,178.4 787.2,180.0 788.5,181.8 789.8,183.6 791.1,185.6 792.4,187.6 793.7,189.6 795.0,191.7 796.3,193.9 797.5,196.0 798.8,198.2 800.1,200.5 801.4,202.7 802.7,205.0 804.0,207.2 805.3,209.5 806.6,211.8 807.9,214.1 809.2,216.5 810.5,218.8 811.8,221.1 813.1,223.4 814.4,225.8 815.6,228.1 816.9,230.5 818.2,232.8 819.5,235.2 820.8,237.6 822.1,239.9 823.4,242.3 824.7,244.7 826.0,247.1 827.3,249.4 828.6,251.8 829.9,254.2 831.2,256.6 832.5,259.0 833.7,261.3 835.0,263.7 836.3,266.1 837.6,268.5 838.9,270.9 840.2,273.3 841.5,275.7 842.8,278.1 844.1,280.5 845.4,282.9 846.7,285.3 848.0,287.7 849.3,290.1 850.6,292.5 851.9,294.9 853.1,297.3 854.4,299.7 855.7,302.1" fill="none" stroke="#2b2f95" stroke-width="4.8" stroke-linejoin="round"/>
<path d="M760.6 55.0L778.1 157.0L796.9 55.0" fill="none" stroke="#f39a2b" stroke-width="5" stroke-linejoin="round" stroke-linecap="round"/>
<path d="M981.5 292.0L1036.8 185.1L1092.0 292.0" fill="none" stroke="#111" stroke-width="2.5" stroke-dasharray="7 6.2" stroke-dashoffset="-116.9" stroke-linejoin="miter" stroke-miterlimit="10"/>
<polyline points="959.2,335.8 960.5,333.3 961.8,330.8 963.0,328.3 964.3,325.8 965.6,323.3 966.9,320.8 968.2,318.3 969.5,315.8 970.8,313.3 972.1,310.8 973.4,308.4 974.7,305.9 976.0,303.4 977.3,300.9 978.6,298.4 979.9,295.9 981.2,293.4 982.4,291.0 983.7,288.5 985.0,286.0 986.3,283.5 987.6,281.0 988.9,278.6 990.2,276.1 991.5,273.6 992.8,271.1 994.1,268.7 995.4,266.2 996.7,263.7 998.0,261.2 999.3,258.8 1000.5,256.3 1001.8,253.9 1003.1,251.4 1004.4,249.0 1005.7,246.5 1007.0,244.1 1008.3,241.6 1009.6,239.2 1010.9,236.8 1012.2,234.4 1013.5,231.9 1014.8,229.5 1016.1,227.2 1017.4,224.8 1018.6,222.4 1019.9,220.1 1021.2,217.8 1022.5,215.5 1023.8,213.3 1025.1,211.1 1026.4,208.9 1027.7,206.9 1029.0,204.9 1030.3,203.1 1031.6,201.5 1032.9,200.1 1034.2,199.0 1035.5,198.3 1036.8,198.1 1038.0,198.3 1039.3,199.0 1040.6,200.1 1041.9,201.5 1043.2,203.1 1044.5,204.9 1045.8,206.9 1047.1,208.9 1048.4,211.1 1049.7,213.3 1051.0,215.5 1052.3,217.8 1053.6,220.1 1054.9,222.4 1056.1,224.8 1057.4,227.2 1058.7,229.5 1060.0,231.9 1061.3,234.4 1062.6,236.8 1063.9,239.2 1065.2,241.6 1066.5,244.1 1067.8,246.5 1069.1,249.0 1070.4,251.4 1071.7,253.9 1073.0,256.3 1074.2,258.8 1075.5,261.2 1076.8,263.7 1078.1,266.2 1079.4,268.7 1080.7,271.1 1082.0,273.6 1083.3,276.1 1084.6,278.6 1085.9,281.0 1087.2,283.5 1088.5,286.0 1089.8,288.5 1091.1,291.0 1092.3,293.4 1093.6,295.9 1094.9,298.4 1096.2,300.9 1097.5,303.4 1098.8,305.9 1100.1,308.4 1101.4,310.8 1102.7,313.3 1104.0,315.8 1105.3,318.3 1106.6,320.8 1107.9,323.3 1109.2,325.8 1110.5,328.3 1111.7,330.8 1113.0,333.3 1114.3,335.8" fill="none" stroke="#2b2f95" stroke-width="4.8" stroke-linejoin="round"/>
<path d="M1012.4 55.0L1036.8 186.0L1061.1 55.0" fill="none" stroke="#f39a2b" stroke-width="5" stroke-linejoin="round" stroke-linecap="round"/>
</g>
<g clip-path="url(#allc)" stroke="#142430" stroke-width="0.8">
<path fill="#2aa6d6" d="M129.8 115.1a1.8 1.8 0 1 0 3.6 0a1.8 1.8 0 1 0 -3.6 0M126.5 115.9a1.8 1.8 0 1 0 3.6 0a1.8 1.8 0 1 0 -3.6 0M123.1 117.1a1.8 1.8 0 1 0 3.6 0a1.8 1.8 0 1 0 -3.6 0M119.7 119.9a1.8 1.8 0 1 0 3.6 0a1.8 1.8 0 1 0 -3.6 0M116.7 124.9a1.8 1.8 0 1 0 3.6 0a1.8 1.8 0 1 0 -3.6 0M113.7 127.4a1.8 1.8 0 1 0 3.6 0a1.8 1.8 0 1 0 -3.6 0M111.4 131.6a1.8 1.8 0 1 0 3.6 0a1.8 1.8 0 1 0 -3.6 0M108.9 134.4a1.8 1.8 0 1 0 3.6 0a1.8 1.8 0 1 0 -3.6 0M85.5 175.5a1.8 1.8 0 1 0 3.6 0a1.8 1.8 0 1 0 -3.6 0M83.2 180.1a1.8 1.8 0 1 0 3.6 0a1.8 1.8 0 1 0 -3.6 0M81.0 183.2a1.8 1.8 0 1 0 3.6 0a1.8 1.8 0 1 0 -3.6 0M79.3 186.9a1.8 1.8 0 1 0 3.6 0a1.8 1.8 0 1 0 -3.6 0M76.9 190.5a1.8 1.8 0 1 0 3.6 0a1.8 1.8 0 1 0 -3.6 0M75.9 193.2a1.8 1.8 0 1 0 3.6 0a1.8 1.8 0 1 0 -3.6 0M73.8 197.8a1.8 1.8 0 1 0 3.6 0a1.8 1.8 0 1 0 -3.6 0M71.3 202.6a1.8 1.8 0 1 0 3.6 0a1.8 1.8 0 1 0 -3.6 0M69.9 204.3a1.8 1.8 0 1 0 3.6 0a1.8 1.8 0 1 0 -3.6 0M67.7 209.0a1.8 1.8 0 1 0 3.6 0a1.8 1.8 0 1 0 -3.6 0M65.7 212.7a1.8 1.8 0 1 0 3.6 0a1.8 1.8 0 1 0 -3.6 0M129.8 115.1a1.8 1.8 0 1 0 3.6 0a1.8 1.8 0 1 0 -3.6 0M133.2 115.0a1.8 1.8 0 1 0 3.6 0a1.8 1.8 0 1 0 -3.6 0M136.3 117.5a1.8 1.8 0 1 0 3.6 0a1.8 1.8 0 1 0 -3.6 0M140.1 121.2a1.8 1.8 0 1 0 3.6 0a1.8 1.8 0 1 0 -3.6 0M142.6 123.7a1.8 1.8 0 1 0 3.6 0a1.8 1.8 0 1 0 -3.6 0M146.1 126.5a1.8 1.8 0 1 0 3.6 0a1.8 1.8 0 1 0 -3.6 0M148.3 131.3a1.8 1.8 0 1 0 3.6 0a1.8 1.8 0 1 0 -3.6 0M151.3 135.4a1.8 1.8 0 1 0 3.6 0a1.8 1.8 0 1 0 -3.6 0M180.6 188.5a1.8 1.8 0 1 0 3.6 0a1.8 1.8 0 1 0 -3.6 0M182.2 190.4a1.8 1.8 0 1 0 3.6 0a1.8 1.8 0 1 0 -3.6 0M184.6 194.8a1.8 1.8 0 1 0 3.6 0a1.8 1.8 0 1 0 -3.6 0M186.3 198.0a1.8 1.8 0 1 0 3.6 0a1.8 1.8 0 1 0 -3.6 0M188.6 202.0a1.8 1.8 0 1 0 3.6 0a1.8 1.8 0 1 0 -3.6 0M189.9 205.3a1.8 1.8 0 1 0 3.6 0a1.8 1.8 0 1 0 -3.6 0M192.2 208.3a1.8 1.8 0 1 0 3.6 0a1.8 1.8 0 1 0 -3.6 0M194.2 212.1a1.8 1.8 0 1 0 3.6 0a1.8 1.8 0 1 0 -3.6 0M259.2 115.1a1.8 1.8 0 1 0 3.6 0a1.8 1.8 0 1 0 -3.6 0M255.8 115.9a1.8 1.8 0 1 0 3.6 0a1.8 1.8 0 1 0 -3.6 0M252.4 117.1a1.8 1.8 0 1 0 3.6 0a1.8 1.8 0 1 0 -3.6 0M249.0 119.9a1.8 1.8 0 1 0 3.6 0a1.8 1.8 0 1 0 -3.6 0M246.0 124.9a1.8 1.8 0 1 0 3.6 0a1.8 1.8 0 1 0 -3.6 0M243.0 127.4a1.8 1.8 0 1 0 3.6 0a1.8 1.8 0 1 0 -3.6 0M240.7 131.6a1.8 1.8 0 1 0 3.6 0a1.8 1.8 0 1 0 -3.6 0M238.2 134.4a1.8 1.8 0 1 0 3.6 0a1.8 1.8 0 1 0 -3.6 0M214.8 175.5a1.8 1.8 0 1 0 3.6 0a1.8 1.8 0 1 0 -3.6 0M212.5 180.1a1.8 1.8 0 1 0 3.6 0a1.8 1.8 0 1 0 -3.6 0M210.3 183.2a1.8 1.8 0 1 0 3.6 0a1.8 1.8 0 1 0 -3.6 0M208.6 186.9a1.8 1.8 0 1 0 3.6 0a1.8 1.8 0 1 0 -3.6 0M206.2 190.5a1.8 1.8 0 1 0 3.6 0a1.8 1.8 0 1 0 -3.6 0M205.2 193.2a1.8 1.8 0 1 0 3.6 0a1.8 1.8 0 1 0 -3.6 0M203.1 197.8a1.8 1.8 0 1 0 3.6 0a1.8 1.8 0 1 0 -3.6 0M200.6 202.6a1.8 1.8 0 1 0 3.6 0a1.8 1.8 0 1 0 -3.6 0M199.2 204.3a1.8 1.8 0 1 0 3.6 0a1.8 1.8 0 1 0 -3.6 0M197.0 209.0a1.8 1.8 0 1 0 3.6 0a1.8 1.8 0 1 0 -3.6 0M195.0 212.7a1.8 1.8 0 1 0 3.6 0a1.8 1.8 0 1 0 -3.6 0M259.2 115.1a1.8 1.8 0 1 0 3.6 0a1.8 1.8 0 1 0 -3.6 0M262.5 115.0a1.8 1.8 0 1 0 3.6 0a1.8 1.8 0 1 0 -3.6 0M265.6 117.5a1.8 1.8 0 1 0 3.6 0a1.8 1.8 0 1 0 -3.6 0M269.4 121.2a1.8 1.8 0 1 0 3.6 0a1.8 1.8 0 1 0 -3.6 0M271.9 123.7a1.8 1.8 0 1 0 3.6 0a1.8 1.8 0 1 0 -3.6 0M275.4 126.5a1.8 1.8 0 1 0 3.6 0a1.8 1.8 0 1 0 -3.6 0M277.6 131.3a1.8 1.8 0 1 0 3.6 0a1.8 1.8 0 1 0 -3.6 0M280.6 135.4a1.8 1.8 0 1 0 3.6 0a1.8 1.8 0 1 0 -3.6 0M309.9 188.5a1.8 1.8 0 1 0 3.6 0a1.8 1.8 0 1 0 -3.6 0M311.5 190.4a1.8 1.8 0 1 0 3.6 0a1.8 1.8 0 1 0 -3.6 0M313.9 194.8a1.8 1.8 0 1 0 3.6 0a1.8 1.8 0 1 0 -3.6 0M315.6 198.0a1.8 1.8 0 1 0 3.6 0a1.8 1.8 0 1 0 -3.6 0M317.9 202.0a1.8 1.8 0 1 0 3.6 0a1.8 1.8 0 1 0 -3.6 0M319.2 205.3a1.8 1.8 0 1 0 3.6 0a1.8 1.8 0 1 0 -3.6 0M321.5 208.3a1.8 1.8 0 1 0 3.6 0a1.8 1.8 0 1 0 -3.6 0M323.5 212.1a1.8 1.8 0 1 0 3.6 0a1.8 1.8 0 1 0 -3.6 0M388.4 143.0a1.8 1.8 0 1 0 3.6 0a1.8 1.8 0 1 0 -3.6 0M385.1 142.4a1.8 1.8 0 1 0 3.6 0a1.8 1.8 0 1 0 -3.6 0M381.4 145.5a1.8 1.8 0 1 0 3.6 0a1.8 1.8 0 1 0 -3.6 0M377.8 148.5a1.8 1.8 0 1 0 3.6 0a1.8 1.8 0 1 0 -3.6 0M374.6 151.9a1.8 1.8 0 1 0 3.6 0a1.8 1.8 0 1 0 -3.6 0M371.9 155.5a1.8 1.8 0 1 0 3.6 0a1.8 1.8 0 1 0 -3.6 0M369.5 157.7a1.8 1.8 0 1 0 3.6 0a1.8 1.8 0 1 0 -3.6 0M367.3 163.1a1.8 1.8 0 1 0 3.6 0a1.8 1.8 0 1 0 -3.6 0M388.4 143.0a1.8 1.8 0 1 0 3.6 0a1.8 1.8 0 1 0 -3.6 0M391.6 143.3a1.8 1.8 0 1 0 3.6 0a1.8 1.8 0 1 0 -3.6 0M395.3 145.1a1.8 1.8 0 1 0 3.6 0a1.8 1.8 0 1 0 -3.6 0M398.3 148.0a1.8 1.8 0 1 0 3.6 0a1.8 1.8 0 1 0 -3.6 0M402.1 151.8a1.8 1.8 0 1 0 3.6 0a1.8 1.8 0 1 0 -3.6 0M404.9 154.7a1.8 1.8 0 1 0 3.6 0a1.8 1.8 0 1 0 -3.6 0M407.0 159.2a1.8 1.8 0 1 0 3.6 0a1.8 1.8 0 1 0 -3.6 0M410.4 162.2a1.8 1.8 0 1 0 3.6 0a1.8 1.8 0 1 0 -3.6 0M517.8 143.0a1.8 1.8 0 1 0 3.6 0a1.8 1.8 0 1 0 -3.6 0M514.4 142.4a1.8 1.8 0 1 0 3.6 0a1.8 1.8 0 1 0 -3.6 0M510.7 145.5a1.8 1.8 0 1 0 3.6 0a1.8 1.8 0 1 0 -3.6 0M507.1 148.5a1.8 1.8 0 1 0 3.6 0a1.8 1.8 0 1 0 -3.6 0M503.9 151.9a1.8 1.8 0 1 0 3.6 0a1.8 1.8 0 1 0 -3.6 0M501.2 155.5a1.8 1.8 0 1 0 3.6 0a1.8 1.8 0 1 0 -3.6 0M498.8 157.7a1.8 1.8 0 1 0 3.6 0a1.8 1.8 0 1 0 -3.6 0M496.6 163.1a1.8 1.8 0 1 0 3.6 0a1.8 1.8 0 1 0 -3.6 0M517.8 143.0a1.8 1.8 0 1 0 3.6 0a1.8 1.8 0 1 0 -3.6 0M520.9 143.3a1.8 1.8 0 1 0 3.6 0a1.8 1.8 0 1 0 -3.6 0M524.6 145.1a1.8 1.8 0 1 0 3.6 0a1.8 1.8 0 1 0 -3.6 0M527.6 148.0a1.8 1.8 0 1 0 3.6 0a1.8 1.8 0 1 0 -3.6 0M531.4 151.8a1.8 1.8 0 1 0 3.6 0a1.8 1.8 0 1 0 -3.6 0M534.2 154.7a1.8 1.8 0 1 0 3.6 0a1.8 1.8 0 1 0 -3.6 0M536.3 159.2a1.8 1.8 0 1 0 3.6 0a1.8 1.8 0 1 0 -3.6 0M539.7 162.2a1.8 1.8 0 1 0 3.6 0a1.8 1.8 0 1 0 -3.6 0M647.1 179.3a1.8 1.8 0 1 0 3.6 0a1.8 1.8 0 1 0 -3.6 0M643.7 179.2a1.8 1.8 0 1 0 3.6 0a1.8 1.8 0 1 0 -3.6 0M640.3 182.8a1.8 1.8 0 1 0 3.6 0a1.8 1.8 0 1 0 -3.6 0M637.1 185.8a1.8 1.8 0 1 0 3.6 0a1.8 1.8 0 1 0 -3.6 0M634.1 190.1a1.8 1.8 0 1 0 3.6 0a1.8 1.8 0 1 0 -3.6 0M631.6 191.7a1.8 1.8 0 1 0 3.6 0a1.8 1.8 0 1 0 -3.6 0M629.0 195.5a1.8 1.8 0 1 0 3.6 0a1.8 1.8 0 1 0 -3.6 0M625.8 199.9a1.8 1.8 0 1 0 3.6 0a1.8 1.8 0 1 0 -3.6 0M625.1 203.9a1.8 1.8 0 1 0 3.6 0a1.8 1.8 0 1 0 -3.6 0M647.1 179.3a1.8 1.8 0 1 0 3.6 0a1.8 1.8 0 1 0 -3.6 0M650.3 180.0a1.8 1.8 0 1 0 3.6 0a1.8 1.8 0 1 0 -3.6 0M654.1 182.6a1.8 1.8 0 1 0 3.6 0a1.8 1.8 0 1 0 -3.6 0M657.0 186.7a1.8 1.8 0 1 0 3.6 0a1.8 1.8 0 1 0 -3.6 0M659.7 189.2a1.8 1.8 0 1 0 3.6 0a1.8 1.8 0 1 0 -3.6 0M661.8 194.0a1.8 1.8 0 1 0 3.6 0a1.8 1.8 0 1 0 -3.6 0M665.2 197.2a1.8 1.8 0 1 0 3.6 0a1.8 1.8 0 1 0 -3.6 0M667.4 200.3a1.8 1.8 0 1 0 3.6 0a1.8 1.8 0 1 0 -3.6 0M669.5 203.7a1.8 1.8 0 1 0 3.6 0a1.8 1.8 0 1 0 -3.6 0M776.4 179.3a1.8 1.8 0 1 0 3.6 0a1.8 1.8 0 1 0 -3.6 0M773.0 179.2a1.8 1.8 0 1 0 3.6 0a1.8 1.8 0 1 0 -3.6 0M769.6 182.8a1.8 1.8 0 1 0 3.6 0a1.8 1.8 0 1 0 -3.6 0M766.4 185.8a1.8 1.8 0 1 0 3.6 0a1.8 1.8 0 1 0 -3.6 0M763.4 190.1a1.8 1.8 0 1 0 3.6 0a1.8 1.8 0 1 0 -3.6 0M760.9 191.7a1.8 1.8 0 1 0 3.6 0a1.8 1.8 0 1 0 -3.6 0M758.3 195.5a1.8 1.8 0 1 0 3.6 0a1.8 1.8 0 1 0 -3.6 0M755.1 199.9a1.8 1.8 0 1 0 3.6 0a1.8 1.8 0 1 0 -3.6 0M754.4 203.9a1.8 1.8 0 1 0 3.6 0a1.8 1.8 0 1 0 -3.6 0M776.4 179.3a1.8 1.8 0 1 0 3.6 0a1.8 1.8 0 1 0 -3.6 0M779.6 180.0a1.8 1.8 0 1 0 3.6 0a1.8 1.8 0 1 0 -3.6 0M783.4 182.6a1.8 1.8 0 1 0 3.6 0a1.8 1.8 0 1 0 -3.6 0M786.3 186.7a1.8 1.8 0 1 0 3.6 0a1.8 1.8 0 1 0 -3.6 0M789.0 189.2a1.8 1.8 0 1 0 3.6 0a1.8 1.8 0 1 0 -3.6 0M791.1 194.0a1.8 1.8 0 1 0 3.6 0a1.8 1.8 0 1 0 -3.6 0M794.5 197.2a1.8 1.8 0 1 0 3.6 0a1.8 1.8 0 1 0 -3.6 0M796.7 200.3a1.8 1.8 0 1 0 3.6 0a1.8 1.8 0 1 0 -3.6 0M798.8 203.7a1.8 1.8 0 1 0 3.6 0a1.8 1.8 0 1 0 -3.6 0M905.7 206.0a1.8 1.8 0 1 0 3.6 0a1.8 1.8 0 1 0 -3.6 0M902.3 205.4a1.8 1.8 0 1 0 3.6 0a1.8 1.8 0 1 0 -3.6 0M899.2 207.2a1.8 1.8 0 1 0 3.6 0a1.8 1.8 0 1 0 -3.6 0M895.6 205.9a1.8 1.8 0 1 0 3.6 0a1.8 1.8 0 1 0 -3.6 0M892.6 209.8a1.8 1.8 0 1 0 3.6 0a1.8 1.8 0 1 0 -3.6 0M890.2 212.6a1.8 1.8 0 1 0 3.6 0a1.8 1.8 0 1 0 -3.6 0M888.9 216.4a1.8 1.8 0 1 0 3.6 0a1.8 1.8 0 1 0 -3.6 0M886.8 221.4a1.8 1.8 0 1 0 3.6 0a1.8 1.8 0 1 0 -3.6 0M884.4 224.5a1.8 1.8 0 1 0 3.6 0a1.8 1.8 0 1 0 -3.6 0M883.0 227.7a1.8 1.8 0 1 0 3.6 0a1.8 1.8 0 1 0 -3.6 0M905.7 206.0a1.8 1.8 0 1 0 3.6 0a1.8 1.8 0 1 0 -3.6 0M908.8 205.8a1.8 1.8 0 1 0 3.6 0a1.8 1.8 0 1 0 -3.6 0M911.8 205.1a1.8 1.8 0 1 0 3.6 0a1.8 1.8 0 1 0 -3.6 0M915.9 205.9a1.8 1.8 0 1 0 3.6 0a1.8 1.8 0 1 0 -3.6 0M918.4 210.2a1.8 1.8 0 1 0 3.6 0a1.8 1.8 0 1 0 -3.6 0M920.1 212.8a1.8 1.8 0 1 0 3.6 0a1.8 1.8 0 1 0 -3.6 0M922.9 217.1a1.8 1.8 0 1 0 3.6 0a1.8 1.8 0 1 0 -3.6 0M924.8 221.1a1.8 1.8 0 1 0 3.6 0a1.8 1.8 0 1 0 -3.6 0M927.1 223.5a1.8 1.8 0 1 0 3.6 0a1.8 1.8 0 1 0 -3.6 0M928.7 228.3a1.8 1.8 0 1 0 3.6 0a1.8 1.8 0 1 0 -3.6 0M1035.0 206.0a1.8 1.8 0 1 0 3.6 0a1.8 1.8 0 1 0 -3.6 0M1031.6 205.4a1.8 1.8 0 1 0 3.6 0a1.8 1.8 0 1 0 -3.6 0M1028.5 207.2a1.8 1.8 0 1 0 3.6 0a1.8 1.8 0 1 0 -3.6 0M1024.9 205.9a1.8 1.8 0 1 0 3.6 0a1.8 1.8 0 1 0 -3.6 0M1021.9 209.8a1.8 1.8 0 1 0 3.6 0a1.8 1.8 0 1 0 -3.6 0M1019.5 212.6a1.8 1.8 0 1 0 3.6 0a1.8 1.8 0 1 0 -3.6 0M1018.2 216.4a1.8 1.8 0 1 0 3.6 0a1.8 1.8 0 1 0 -3.6 0M1016.1 221.4a1.8 1.8 0 1 0 3.6 0a1.8 1.8 0 1 0 -3.6 0M1013.7 224.5a1.8 1.8 0 1 0 3.6 0a1.8 1.8 0 1 0 -3.6 0M1012.3 227.7a1.8 1.8 0 1 0 3.6 0a1.8 1.8 0 1 0 -3.6 0M1035.0 206.0a1.8 1.8 0 1 0 3.6 0a1.8 1.8 0 1 0 -3.6 0M1038.1 205.8a1.8 1.8 0 1 0 3.6 0a1.8 1.8 0 1 0 -3.6 0M1041.1 205.1a1.8 1.8 0 1 0 3.6 0a1.8 1.8 0 1 0 -3.6 0M1045.2 205.9a1.8 1.8 0 1 0 3.6 0a1.8 1.8 0 1 0 -3.6 0M1047.7 210.2a1.8 1.8 0 1 0 3.6 0a1.8 1.8 0 1 0 -3.6 0M1049.4 212.8a1.8 1.8 0 1 0 3.6 0a1.8 1.8 0 1 0 -3.6 0M1052.2 217.1a1.8 1.8 0 1 0 3.6 0a1.8 1.8 0 1 0 -3.6 0M1054.1 221.1a1.8 1.8 0 1 0 3.6 0a1.8 1.8 0 1 0 -3.6 0M1056.4 223.5a1.8 1.8 0 1 0 3.6 0a1.8 1.8 0 1 0 -3.6 0M1058.0 228.3a1.8 1.8 0 1 0 3.6 0a1.8 1.8 0 1 0 -3.6 0"/>
<path fill="#2a9a4a" d="M106.5 139.1a1.8 1.8 0 1 0 3.6 0a1.8 1.8 0 1 0 -3.6 0M103.7 142.2a1.8 1.8 0 1 0 3.6 0a1.8 1.8 0 1 0 -3.6 0M101.3 145.5a1.8 1.8 0 1 0 3.6 0a1.8 1.8 0 1 0 -3.6 0M99.1 149.8a1.8 1.8 0 1 0 3.6 0a1.8 1.8 0 1 0 -3.6 0M97.1 153.8a1.8 1.8 0 1 0 3.6 0a1.8 1.8 0 1 0 -3.6 0M95.5 157.3a1.8 1.8 0 1 0 3.6 0a1.8 1.8 0 1 0 -3.6 0M92.5 160.9a1.8 1.8 0 1 0 3.6 0a1.8 1.8 0 1 0 -3.6 0M91.3 164.9a1.8 1.8 0 1 0 3.6 0a1.8 1.8 0 1 0 -3.6 0M88.7 168.4a1.8 1.8 0 1 0 3.6 0a1.8 1.8 0 1 0 -3.6 0M86.8 172.0a1.8 1.8 0 1 0 3.6 0a1.8 1.8 0 1 0 -3.6 0M153.1 138.5a1.8 1.8 0 1 0 3.6 0a1.8 1.8 0 1 0 -3.6 0M155.4 143.2a1.8 1.8 0 1 0 3.6 0a1.8 1.8 0 1 0 -3.6 0M157.6 146.0a1.8 1.8 0 1 0 3.6 0a1.8 1.8 0 1 0 -3.6 0M160.1 149.9a1.8 1.8 0 1 0 3.6 0a1.8 1.8 0 1 0 -3.6 0M162.0 153.1a1.8 1.8 0 1 0 3.6 0a1.8 1.8 0 1 0 -3.6 0M164.2 157.2a1.8 1.8 0 1 0 3.6 0a1.8 1.8 0 1 0 -3.6 0M166.7 161.5a1.8 1.8 0 1 0 3.6 0a1.8 1.8 0 1 0 -3.6 0M168.4 165.2a1.8 1.8 0 1 0 3.6 0a1.8 1.8 0 1 0 -3.6 0M170.4 169.1a1.8 1.8 0 1 0 3.6 0a1.8 1.8 0 1 0 -3.6 0M172.5 172.6a1.8 1.8 0 1 0 3.6 0a1.8 1.8 0 1 0 -3.6 0M174.1 176.2a1.8 1.8 0 1 0 3.6 0a1.8 1.8 0 1 0 -3.6 0M176.0 178.8a1.8 1.8 0 1 0 3.6 0a1.8 1.8 0 1 0 -3.6 0M178.5 183.1a1.8 1.8 0 1 0 3.6 0a1.8 1.8 0 1 0 -3.6 0M235.8 139.1a1.8 1.8 0 1 0 3.6 0a1.8 1.8 0 1 0 -3.6 0M233.0 142.2a1.8 1.8 0 1 0 3.6 0a1.8 1.8 0 1 0 -3.6 0M230.6 145.5a1.8 1.8 0 1 0 3.6 0a1.8 1.8 0 1 0 -3.6 0M228.4 149.8a1.8 1.8 0 1 0 3.6 0a1.8 1.8 0 1 0 -3.6 0M226.4 153.8a1.8 1.8 0 1 0 3.6 0a1.8 1.8 0 1 0 -3.6 0M224.8 157.3a1.8 1.8 0 1 0 3.6 0a1.8 1.8 0 1 0 -3.6 0M221.8 160.9a1.8 1.8 0 1 0 3.6 0a1.8 1.8 0 1 0 -3.6 0M220.6 164.9a1.8 1.8 0 1 0 3.6 0a1.8 1.8 0 1 0 -3.6 0M218.0 168.4a1.8 1.8 0 1 0 3.6 0a1.8 1.8 0 1 0 -3.6 0M216.1 172.0a1.8 1.8 0 1 0 3.6 0a1.8 1.8 0 1 0 -3.6 0M282.4 138.5a1.8 1.8 0 1 0 3.6 0a1.8 1.8 0 1 0 -3.6 0M284.7 143.2a1.8 1.8 0 1 0 3.6 0a1.8 1.8 0 1 0 -3.6 0M286.9 146.0a1.8 1.8 0 1 0 3.6 0a1.8 1.8 0 1 0 -3.6 0M289.4 149.9a1.8 1.8 0 1 0 3.6 0a1.8 1.8 0 1 0 -3.6 0M291.3 153.1a1.8 1.8 0 1 0 3.6 0a1.8 1.8 0 1 0 -3.6 0M293.5 157.2a1.8 1.8 0 1 0 3.6 0a1.8 1.8 0 1 0 -3.6 0M296.0 161.5a1.8 1.8 0 1 0 3.6 0a1.8 1.8 0 1 0 -3.6 0M297.7 165.2a1.8 1.8 0 1 0 3.6 0a1.8 1.8 0 1 0 -3.6 0M299.7 169.1a1.8 1.8 0 1 0 3.6 0a1.8 1.8 0 1 0 -3.6 0M301.8 172.6a1.8 1.8 0 1 0 3.6 0a1.8 1.8 0 1 0 -3.6 0M303.4 176.2a1.8 1.8 0 1 0 3.6 0a1.8 1.8 0 1 0 -3.6 0M305.3 178.8a1.8 1.8 0 1 0 3.6 0a1.8 1.8 0 1 0 -3.6 0M307.8 183.1a1.8 1.8 0 1 0 3.6 0a1.8 1.8 0 1 0 -3.6 0M364.3 165.8a1.8 1.8 0 1 0 3.6 0a1.8 1.8 0 1 0 -3.6 0M361.9 169.2a1.8 1.8 0 1 0 3.6 0a1.8 1.8 0 1 0 -3.6 0M359.9 173.2a1.8 1.8 0 1 0 3.6 0a1.8 1.8 0 1 0 -3.6 0M357.2 176.8a1.8 1.8 0 1 0 3.6 0a1.8 1.8 0 1 0 -3.6 0M354.8 180.2a1.8 1.8 0 1 0 3.6 0a1.8 1.8 0 1 0 -3.6 0M353.2 184.5a1.8 1.8 0 1 0 3.6 0a1.8 1.8 0 1 0 -3.6 0M350.8 188.4a1.8 1.8 0 1 0 3.6 0a1.8 1.8 0 1 0 -3.6 0M348.1 191.9a1.8 1.8 0 1 0 3.6 0a1.8 1.8 0 1 0 -3.6 0M345.9 195.8a1.8 1.8 0 1 0 3.6 0a1.8 1.8 0 1 0 -3.6 0M343.8 199.4a1.8 1.8 0 1 0 3.6 0a1.8 1.8 0 1 0 -3.6 0M341.3 202.9a1.8 1.8 0 1 0 3.6 0a1.8 1.8 0 1 0 -3.6 0M340.3 206.6a1.8 1.8 0 1 0 3.6 0a1.8 1.8 0 1 0 -3.6 0M337.2 210.9a1.8 1.8 0 1 0 3.6 0a1.8 1.8 0 1 0 -3.6 0M335.9 213.7a1.8 1.8 0 1 0 3.6 0a1.8 1.8 0 1 0 -3.6 0M333.3 217.8a1.8 1.8 0 1 0 3.6 0a1.8 1.8 0 1 0 -3.6 0M330.6 222.2a1.8 1.8 0 1 0 3.6 0a1.8 1.8 0 1 0 -3.6 0M329.1 225.6a1.8 1.8 0 1 0 3.6 0a1.8 1.8 0 1 0 -3.6 0M326.8 229.6a1.8 1.8 0 1 0 3.6 0a1.8 1.8 0 1 0 -3.6 0M324.8 233.0a1.8 1.8 0 1 0 3.6 0a1.8 1.8 0 1 0 -3.6 0M412.7 166.4a1.8 1.8 0 1 0 3.6 0a1.8 1.8 0 1 0 -3.6 0M415.3 170.2a1.8 1.8 0 1 0 3.6 0a1.8 1.8 0 1 0 -3.6 0M417.2 174.2a1.8 1.8 0 1 0 3.6 0a1.8 1.8 0 1 0 -3.6 0M419.2 177.6a1.8 1.8 0 1 0 3.6 0a1.8 1.8 0 1 0 -3.6 0M422.1 181.3a1.8 1.8 0 1 0 3.6 0a1.8 1.8 0 1 0 -3.6 0M424.8 185.3a1.8 1.8 0 1 0 3.6 0a1.8 1.8 0 1 0 -3.6 0M426.0 187.5a1.8 1.8 0 1 0 3.6 0a1.8 1.8 0 1 0 -3.6 0M428.9 191.6a1.8 1.8 0 1 0 3.6 0a1.8 1.8 0 1 0 -3.6 0M430.8 196.2a1.8 1.8 0 1 0 3.6 0a1.8 1.8 0 1 0 -3.6 0M432.4 198.5a1.8 1.8 0 1 0 3.6 0a1.8 1.8 0 1 0 -3.6 0M435.2 203.3a1.8 1.8 0 1 0 3.6 0a1.8 1.8 0 1 0 -3.6 0M437.1 207.0a1.8 1.8 0 1 0 3.6 0a1.8 1.8 0 1 0 -3.6 0M439.0 210.0a1.8 1.8 0 1 0 3.6 0a1.8 1.8 0 1 0 -3.6 0M441.4 214.0a1.8 1.8 0 1 0 3.6 0a1.8 1.8 0 1 0 -3.6 0M443.0 218.4a1.8 1.8 0 1 0 3.6 0a1.8 1.8 0 1 0 -3.6 0M445.6 222.1a1.8 1.8 0 1 0 3.6 0a1.8 1.8 0 1 0 -3.6 0M447.4 225.3a1.8 1.8 0 1 0 3.6 0a1.8 1.8 0 1 0 -3.6 0M449.5 228.9a1.8 1.8 0 1 0 3.6 0a1.8 1.8 0 1 0 -3.6 0M452.0 232.7a1.8 1.8 0 1 0 3.6 0a1.8 1.8 0 1 0 -3.6 0M493.6 165.8a1.8 1.8 0 1 0 3.6 0a1.8 1.8 0 1 0 -3.6 0M491.2 169.2a1.8 1.8 0 1 0 3.6 0a1.8 1.8 0 1 0 -3.6 0M489.2 173.2a1.8 1.8 0 1 0 3.6 0a1.8 1.8 0 1 0 -3.6 0M486.5 176.8a1.8 1.8 0 1 0 3.6 0a1.8 1.8 0 1 0 -3.6 0M484.1 180.2a1.8 1.8 0 1 0 3.6 0a1.8 1.8 0 1 0 -3.6 0M482.5 184.5a1.8 1.8 0 1 0 3.6 0a1.8 1.8 0 1 0 -3.6 0M480.1 188.4a1.8 1.8 0 1 0 3.6 0a1.8 1.8 0 1 0 -3.6 0M477.4 191.9a1.8 1.8 0 1 0 3.6 0a1.8 1.8 0 1 0 -3.6 0M475.2 195.8a1.8 1.8 0 1 0 3.6 0a1.8 1.8 0 1 0 -3.6 0M473.1 199.4a1.8 1.8 0 1 0 3.6 0a1.8 1.8 0 1 0 -3.6 0M470.6 202.9a1.8 1.8 0 1 0 3.6 0a1.8 1.8 0 1 0 -3.6 0M469.6 206.6a1.8 1.8 0 1 0 3.6 0a1.8 1.8 0 1 0 -3.6 0M466.5 210.9a1.8 1.8 0 1 0 3.6 0a1.8 1.8 0 1 0 -3.6 0M465.2 213.7a1.8 1.8 0 1 0 3.6 0a1.8 1.8 0 1 0 -3.6 0M462.6 217.8a1.8 1.8 0 1 0 3.6 0a1.8 1.8 0 1 0 -3.6 0M459.9 222.2a1.8 1.8 0 1 0 3.6 0a1.8 1.8 0 1 0 -3.6 0M458.4 225.6a1.8 1.8 0 1 0 3.6 0a1.8 1.8 0 1 0 -3.6 0M456.1 229.6a1.8 1.8 0 1 0 3.6 0a1.8 1.8 0 1 0 -3.6 0M454.1 233.0a1.8 1.8 0 1 0 3.6 0a1.8 1.8 0 1 0 -3.6 0M542.0 166.4a1.8 1.8 0 1 0 3.6 0a1.8 1.8 0 1 0 -3.6 0M544.6 170.2a1.8 1.8 0 1 0 3.6 0a1.8 1.8 0 1 0 -3.6 0M546.5 174.2a1.8 1.8 0 1 0 3.6 0a1.8 1.8 0 1 0 -3.6 0M548.5 177.6a1.8 1.8 0 1 0 3.6 0a1.8 1.8 0 1 0 -3.6 0M551.4 181.3a1.8 1.8 0 1 0 3.6 0a1.8 1.8 0 1 0 -3.6 0M554.1 185.3a1.8 1.8 0 1 0 3.6 0a1.8 1.8 0 1 0 -3.6 0M555.3 187.5a1.8 1.8 0 1 0 3.6 0a1.8 1.8 0 1 0 -3.6 0M558.2 191.6a1.8 1.8 0 1 0 3.6 0a1.8 1.8 0 1 0 -3.6 0M560.1 196.2a1.8 1.8 0 1 0 3.6 0a1.8 1.8 0 1 0 -3.6 0M561.7 198.5a1.8 1.8 0 1 0 3.6 0a1.8 1.8 0 1 0 -3.6 0M564.5 203.3a1.8 1.8 0 1 0 3.6 0a1.8 1.8 0 1 0 -3.6 0M566.4 207.0a1.8 1.8 0 1 0 3.6 0a1.8 1.8 0 1 0 -3.6 0M568.3 210.0a1.8 1.8 0 1 0 3.6 0a1.8 1.8 0 1 0 -3.6 0M570.7 214.0a1.8 1.8 0 1 0 3.6 0a1.8 1.8 0 1 0 -3.6 0M572.3 218.4a1.8 1.8 0 1 0 3.6 0a1.8 1.8 0 1 0 -3.6 0M574.9 222.1a1.8 1.8 0 1 0 3.6 0a1.8 1.8 0 1 0 -3.6 0M576.7 225.3a1.8 1.8 0 1 0 3.6 0a1.8 1.8 0 1 0 -3.6 0M578.8 228.9a1.8 1.8 0 1 0 3.6 0a1.8 1.8 0 1 0 -3.6 0M581.3 232.7a1.8 1.8 0 1 0 3.6 0a1.8 1.8 0 1 0 -3.6 0M622.0 207.1a1.8 1.8 0 1 0 3.6 0a1.8 1.8 0 1 0 -3.6 0M620.6 211.4a1.8 1.8 0 1 0 3.6 0a1.8 1.8 0 1 0 -3.6 0M618.0 215.0a1.8 1.8 0 1 0 3.6 0a1.8 1.8 0 1 0 -3.6 0M615.9 219.1a1.8 1.8 0 1 0 3.6 0a1.8 1.8 0 1 0 -3.6 0M613.9 222.6a1.8 1.8 0 1 0 3.6 0a1.8 1.8 0 1 0 -3.6 0M611.2 226.5a1.8 1.8 0 1 0 3.6 0a1.8 1.8 0 1 0 -3.6 0M609.3 230.5a1.8 1.8 0 1 0 3.6 0a1.8 1.8 0 1 0 -3.6 0M607.0 233.6a1.8 1.8 0 1 0 3.6 0a1.8 1.8 0 1 0 -3.6 0M605.3 236.7a1.8 1.8 0 1 0 3.6 0a1.8 1.8 0 1 0 -3.6 0M603.9 241.8a1.8 1.8 0 1 0 3.6 0a1.8 1.8 0 1 0 -3.6 0M601.0 245.2a1.8 1.8 0 1 0 3.6 0a1.8 1.8 0 1 0 -3.6 0M599.3 247.3a1.8 1.8 0 1 0 3.6 0a1.8 1.8 0 1 0 -3.6 0M597.2 252.2a1.8 1.8 0 1 0 3.6 0a1.8 1.8 0 1 0 -3.6 0M595.1 255.4a1.8 1.8 0 1 0 3.6 0a1.8 1.8 0 1 0 -3.6 0M671.6 207.6a1.8 1.8 0 1 0 3.6 0a1.8 1.8 0 1 0 -3.6 0M674.4 211.6a1.8 1.8 0 1 0 3.6 0a1.8 1.8 0 1 0 -3.6 0M676.1 214.7a1.8 1.8 0 1 0 3.6 0a1.8 1.8 0 1 0 -3.6 0M678.0 219.5a1.8 1.8 0 1 0 3.6 0a1.8 1.8 0 1 0 -3.6 0M680.5 222.5a1.8 1.8 0 1 0 3.6 0a1.8 1.8 0 1 0 -3.6 0M682.4 225.7a1.8 1.8 0 1 0 3.6 0a1.8 1.8 0 1 0 -3.6 0M684.6 230.4a1.8 1.8 0 1 0 3.6 0a1.8 1.8 0 1 0 -3.6 0M686.5 233.5a1.8 1.8 0 1 0 3.6 0a1.8 1.8 0 1 0 -3.6 0M688.7 237.4a1.8 1.8 0 1 0 3.6 0a1.8 1.8 0 1 0 -3.6 0M690.3 241.0a1.8 1.8 0 1 0 3.6 0a1.8 1.8 0 1 0 -3.6 0M692.6 245.3a1.8 1.8 0 1 0 3.6 0a1.8 1.8 0 1 0 -3.6 0M694.7 248.9a1.8 1.8 0 1 0 3.6 0a1.8 1.8 0 1 0 -3.6 0M697.5 252.1a1.8 1.8 0 1 0 3.6 0a1.8 1.8 0 1 0 -3.6 0M698.8 256.1a1.8 1.8 0 1 0 3.6 0a1.8 1.8 0 1 0 -3.6 0M751.3 207.1a1.8 1.8 0 1 0 3.6 0a1.8 1.8 0 1 0 -3.6 0M749.9 211.4a1.8 1.8 0 1 0 3.6 0a1.8 1.8 0 1 0 -3.6 0M747.3 215.0a1.8 1.8 0 1 0 3.6 0a1.8 1.8 0 1 0 -3.6 0M745.2 219.1a1.8 1.8 0 1 0 3.6 0a1.8 1.8 0 1 0 -3.6 0M743.2 222.6a1.8 1.8 0 1 0 3.6 0a1.8 1.8 0 1 0 -3.6 0M740.5 226.5a1.8 1.8 0 1 0 3.6 0a1.8 1.8 0 1 0 -3.6 0M738.6 230.5a1.8 1.8 0 1 0 3.6 0a1.8 1.8 0 1 0 -3.6 0M736.3 233.6a1.8 1.8 0 1 0 3.6 0a1.8 1.8 0 1 0 -3.6 0M734.6 236.7a1.8 1.8 0 1 0 3.6 0a1.8 1.8 0 1 0 -3.6 0M733.2 241.8a1.8 1.8 0 1 0 3.6 0a1.8 1.8 0 1 0 -3.6 0M730.3 245.2a1.8 1.8 0 1 0 3.6 0a1.8 1.8 0 1 0 -3.6 0M728.6 247.3a1.8 1.8 0 1 0 3.6 0a1.8 1.8 0 1 0 -3.6 0M726.5 252.2a1.8 1.8 0 1 0 3.6 0a1.8 1.8 0 1 0 -3.6 0M724.4 255.4a1.8 1.8 0 1 0 3.6 0a1.8 1.8 0 1 0 -3.6 0M800.9 207.6a1.8 1.8 0 1 0 3.6 0a1.8 1.8 0 1 0 -3.6 0M803.7 211.6a1.8 1.8 0 1 0 3.6 0a1.8 1.8 0 1 0 -3.6 0M805.4 214.7a1.8 1.8 0 1 0 3.6 0a1.8 1.8 0 1 0 -3.6 0M807.3 219.5a1.8 1.8 0 1 0 3.6 0a1.8 1.8 0 1 0 -3.6 0M809.8 222.5a1.8 1.8 0 1 0 3.6 0a1.8 1.8 0 1 0 -3.6 0M811.7 225.7a1.8 1.8 0 1 0 3.6 0a1.8 1.8 0 1 0 -3.6 0M813.9 230.4a1.8 1.8 0 1 0 3.6 0a1.8 1.8 0 1 0 -3.6 0M815.8 233.5a1.8 1.8 0 1 0 3.6 0a1.8 1.8 0 1 0 -3.6 0M818.0 237.4a1.8 1.8 0 1 0 3.6 0a1.8 1.8 0 1 0 -3.6 0M819.6 241.0a1.8 1.8 0 1 0 3.6 0a1.8 1.8 0 1 0 -3.6 0M821.9 245.3a1.8 1.8 0 1 0 3.6 0a1.8 1.8 0 1 0 -3.6 0M824.0 248.9a1.8 1.8 0 1 0 3.6 0a1.8 1.8 0 1 0 -3.6 0M826.8 252.1a1.8 1.8 0 1 0 3.6 0a1.8 1.8 0 1 0 -3.6 0M828.1 256.1a1.8 1.8 0 1 0 3.6 0a1.8 1.8 0 1 0 -3.6 0M880.0 230.9a1.8 1.8 0 1 0 3.6 0a1.8 1.8 0 1 0 -3.6 0M878.2 236.1a1.8 1.8 0 1 0 3.6 0a1.8 1.8 0 1 0 -3.6 0M876.5 238.6a1.8 1.8 0 1 0 3.6 0a1.8 1.8 0 1 0 -3.6 0M873.9 242.6a1.8 1.8 0 1 0 3.6 0a1.8 1.8 0 1 0 -3.6 0M872.3 246.4a1.8 1.8 0 1 0 3.6 0a1.8 1.8 0 1 0 -3.6 0M870.3 250.4a1.8 1.8 0 1 0 3.6 0a1.8 1.8 0 1 0 -3.6 0M868.1 254.0a1.8 1.8 0 1 0 3.6 0a1.8 1.8 0 1 0 -3.6 0M866.3 257.7a1.8 1.8 0 1 0 3.6 0a1.8 1.8 0 1 0 -3.6 0M864.5 262.4a1.8 1.8 0 1 0 3.6 0a1.8 1.8 0 1 0 -3.6 0M862.6 265.2a1.8 1.8 0 1 0 3.6 0a1.8 1.8 0 1 0 -3.6 0M859.8 269.1a1.8 1.8 0 1 0 3.6 0a1.8 1.8 0 1 0 -3.6 0M857.8 271.9a1.8 1.8 0 1 0 3.6 0a1.8 1.8 0 1 0 -3.6 0M931.2 230.6a1.8 1.8 0 1 0 3.6 0a1.8 1.8 0 1 0 -3.6 0M933.6 235.6a1.8 1.8 0 1 0 3.6 0a1.8 1.8 0 1 0 -3.6 0M935.6 238.9a1.8 1.8 0 1 0 3.6 0a1.8 1.8 0 1 0 -3.6 0M937.0 242.2a1.8 1.8 0 1 0 3.6 0a1.8 1.8 0 1 0 -3.6 0M940.0 246.4a1.8 1.8 0 1 0 3.6 0a1.8 1.8 0 1 0 -3.6 0M941.6 250.0a1.8 1.8 0 1 0 3.6 0a1.8 1.8 0 1 0 -3.6 0M943.1 253.2a1.8 1.8 0 1 0 3.6 0a1.8 1.8 0 1 0 -3.6 0M944.9 258.2a1.8 1.8 0 1 0 3.6 0a1.8 1.8 0 1 0 -3.6 0M946.5 262.0a1.8 1.8 0 1 0 3.6 0a1.8 1.8 0 1 0 -3.6 0M949.1 264.6a1.8 1.8 0 1 0 3.6 0a1.8 1.8 0 1 0 -3.6 0M950.7 268.7a1.8 1.8 0 1 0 3.6 0a1.8 1.8 0 1 0 -3.6 0M952.8 272.3a1.8 1.8 0 1 0 3.6 0a1.8 1.8 0 1 0 -3.6 0M1009.3 230.9a1.8 1.8 0 1 0 3.6 0a1.8 1.8 0 1 0 -3.6 0M1007.5 236.1a1.8 1.8 0 1 0 3.6 0a1.8 1.8 0 1 0 -3.6 0M1005.8 238.6a1.8 1.8 0 1 0 3.6 0a1.8 1.8 0 1 0 -3.6 0M1003.2 242.6a1.8 1.8 0 1 0 3.6 0a1.8 1.8 0 1 0 -3.6 0M1001.6 246.4a1.8 1.8 0 1 0 3.6 0a1.8 1.8 0 1 0 -3.6 0M999.6 250.4a1.8 1.8 0 1 0 3.6 0a1.8 1.8 0 1 0 -3.6 0M997.4 254.0a1.8 1.8 0 1 0 3.6 0a1.8 1.8 0 1 0 -3.6 0M995.6 257.7a1.8 1.8 0 1 0 3.6 0a1.8 1.8 0 1 0 -3.6 0M993.8 262.4a1.8 1.8 0 1 0 3.6 0a1.8 1.8 0 1 0 -3.6 0M991.9 265.2a1.8 1.8 0 1 0 3.6 0a1.8 1.8 0 1 0 -3.6 0M989.1 269.1a1.8 1.8 0 1 0 3.6 0a1.8 1.8 0 1 0 -3.6 0M987.1 271.9a1.8 1.8 0 1 0 3.6 0a1.8 1.8 0 1 0 -3.6 0M1060.5 230.6a1.8 1.8 0 1 0 3.6 0a1.8 1.8 0 1 0 -3.6 0M1062.9 235.6a1.8 1.8 0 1 0 3.6 0a1.8 1.8 0 1 0 -3.6 0M1064.9 238.9a1.8 1.8 0 1 0 3.6 0a1.8 1.8 0 1 0 -3.6 0M1066.3 242.2a1.8 1.8 0 1 0 3.6 0a1.8 1.8 0 1 0 -3.6 0M1069.3 246.4a1.8 1.8 0 1 0 3.6 0a1.8 1.8 0 1 0 -3.6 0M1070.9 250.0a1.8 1.8 0 1 0 3.6 0a1.8 1.8 0 1 0 -3.6 0M1072.4 253.2a1.8 1.8 0 1 0 3.6 0a1.8 1.8 0 1 0 -3.6 0M1074.2 258.2a1.8 1.8 0 1 0 3.6 0a1.8 1.8 0 1 0 -3.6 0M1075.8 262.0a1.8 1.8 0 1 0 3.6 0a1.8 1.8 0 1 0 -3.6 0M1078.4 264.6a1.8 1.8 0 1 0 3.6 0a1.8 1.8 0 1 0 -3.6 0M1080.0 268.7a1.8 1.8 0 1 0 3.6 0a1.8 1.8 0 1 0 -3.6 0M1082.1 272.3a1.8 1.8 0 1 0 3.6 0a1.8 1.8 0 1 0 -3.6 0"/>
</g>
<path fill="#e8449e" stroke="#3a2a3a" stroke-width="0.6" d="M764.1 86.0a1.8 1.8 0 1 0 3.6 0a1.8 1.8 0 1 0 -3.6 0M789.4 86.0a1.8 1.8 0 1 0 3.6 0a1.8 1.8 0 1 0 -3.6 0M764.7 89.6a1.8 1.8 0 1 0 3.6 0a1.8 1.8 0 1 0 -3.6 0M788.7 89.6a1.8 1.8 0 1 0 3.6 0a1.8 1.8 0 1 0 -3.6 0M765.3 93.2a1.8 1.8 0 1 0 3.6 0a1.8 1.8 0 1 0 -3.6 0M788.1 93.2a1.8 1.8 0 1 0 3.6 0a1.8 1.8 0 1 0 -3.6 0M766.0 96.8a1.8 1.8 0 1 0 3.6 0a1.8 1.8 0 1 0 -3.6 0M787.4 96.8a1.8 1.8 0 1 0 3.6 0a1.8 1.8 0 1 0 -3.6 0M766.6 100.4a1.8 1.8 0 1 0 3.6 0a1.8 1.8 0 1 0 -3.6 0M786.7 100.4a1.8 1.8 0 1 0 3.6 0a1.8 1.8 0 1 0 -3.6 0M767.2 104.0a1.8 1.8 0 1 0 3.6 0a1.8 1.8 0 1 0 -3.6 0M786.1 104.0a1.8 1.8 0 1 0 3.6 0a1.8 1.8 0 1 0 -3.6 0M767.8 107.5a1.8 1.8 0 1 0 3.6 0a1.8 1.8 0 1 0 -3.6 0M785.4 107.5a1.8 1.8 0 1 0 3.6 0a1.8 1.8 0 1 0 -3.6 0M768.4 111.1a1.8 1.8 0 1 0 3.6 0a1.8 1.8 0 1 0 -3.6 0M784.8 111.1a1.8 1.8 0 1 0 3.6 0a1.8 1.8 0 1 0 -3.6 0M769.1 114.7a1.8 1.8 0 1 0 3.6 0a1.8 1.8 0 1 0 -3.6 0M784.1 114.7a1.8 1.8 0 1 0 3.6 0a1.8 1.8 0 1 0 -3.6 0M769.7 118.3a1.8 1.8 0 1 0 3.6 0a1.8 1.8 0 1 0 -3.6 0M783.4 118.3a1.8 1.8 0 1 0 3.6 0a1.8 1.8 0 1 0 -3.6 0M770.3 121.9a1.8 1.8 0 1 0 3.6 0a1.8 1.8 0 1 0 -3.6 0M782.8 121.9a1.8 1.8 0 1 0 3.6 0a1.8 1.8 0 1 0 -3.6 0M770.9 125.5a1.8 1.8 0 1 0 3.6 0a1.8 1.8 0 1 0 -3.6 0M782.1 125.5a1.8 1.8 0 1 0 3.6 0a1.8 1.8 0 1 0 -3.6 0M1017.7 93.4a1.8 1.8 0 1 0 3.6 0a1.8 1.8 0 1 0 -3.6 0M1052.2 93.4a1.8 1.8 0 1 0 3.6 0a1.8 1.8 0 1 0 -3.6 0M1019.2 101.2a1.8 1.8 0 1 0 3.6 0a1.8 1.8 0 1 0 -3.6 0M1050.7 101.2a1.8 1.8 0 1 0 3.6 0a1.8 1.8 0 1 0 -3.6 0M1020.6 108.9a1.8 1.8 0 1 0 3.6 0a1.8 1.8 0 1 0 -3.6 0M1049.3 108.9a1.8 1.8 0 1 0 3.6 0a1.8 1.8 0 1 0 -3.6 0M1022.1 116.7a1.8 1.8 0 1 0 3.6 0a1.8 1.8 0 1 0 -3.6 0M1047.8 116.7a1.8 1.8 0 1 0 3.6 0a1.8 1.8 0 1 0 -3.6 0M1023.5 124.4a1.8 1.8 0 1 0 3.6 0a1.8 1.8 0 1 0 -3.6 0M1046.4 124.4a1.8 1.8 0 1 0 3.6 0a1.8 1.8 0 1 0 -3.6 0M1024.9 132.2a1.8 1.8 0 1 0 3.6 0a1.8 1.8 0 1 0 -3.6 0M1045.0 132.2a1.8 1.8 0 1 0 3.6 0a1.8 1.8 0 1 0 -3.6 0M1026.4 139.9a1.8 1.8 0 1 0 3.6 0a1.8 1.8 0 1 0 -3.6 0M1043.5 139.9a1.8 1.8 0 1 0 3.6 0a1.8 1.8 0 1 0 -3.6 0M1027.8 147.7a1.8 1.8 0 1 0 3.6 0a1.8 1.8 0 1 0 -3.6 0M1042.1 147.7a1.8 1.8 0 1 0 3.6 0a1.8 1.8 0 1 0 -3.6 0M1029.3 155.4a1.8 1.8 0 1 0 3.6 0a1.8 1.8 0 1 0 -3.6 0M1040.6 155.4a1.8 1.8 0 1 0 3.6 0a1.8 1.8 0 1 0 -3.6 0"/>
<path fill="#e8609e" d="M634.7 86.0a1.15 1.15 0 1 0 2.3 0a1.15 1.15 0 1 0 -2.3 0M661.5 86.0a1.15 1.15 0 1 0 2.3 0a1.15 1.15 0 1 0 -2.3 0M635.5 90.9a1.15 1.15 0 1 0 2.3 0a1.15 1.15 0 1 0 -2.3 0M660.6 90.9a1.15 1.15 0 1 0 2.3 0a1.15 1.15 0 1 0 -2.3 0M636.4 95.9a1.15 1.15 0 1 0 2.3 0a1.15 1.15 0 1 0 -2.3 0M659.7 95.9a1.15 1.15 0 1 0 2.3 0a1.15 1.15 0 1 0 -2.3 0M637.2 100.8a1.15 1.15 0 1 0 2.3 0a1.15 1.15 0 1 0 -2.3 0M658.8 100.8a1.15 1.15 0 1 0 2.3 0a1.15 1.15 0 1 0 -2.3 0M638.1 105.8a1.15 1.15 0 1 0 2.3 0a1.15 1.15 0 1 0 -2.3 0M657.9 105.8a1.15 1.15 0 1 0 2.3 0a1.15 1.15 0 1 0 -2.3 0M638.9 110.7a1.15 1.15 0 1 0 2.3 0a1.15 1.15 0 1 0 -2.3 0M657.0 110.7a1.15 1.15 0 1 0 2.3 0a1.15 1.15 0 1 0 -2.3 0M639.8 115.6a1.15 1.15 0 1 0 2.3 0a1.15 1.15 0 1 0 -2.3 0M656.1 115.6a1.15 1.15 0 1 0 2.3 0a1.15 1.15 0 1 0 -2.3 0M640.6 120.6a1.15 1.15 0 1 0 2.3 0a1.15 1.15 0 1 0 -2.3 0M655.2 120.6a1.15 1.15 0 1 0 2.3 0a1.15 1.15 0 1 0 -2.3 0M641.5 125.5a1.15 1.15 0 1 0 2.3 0a1.15 1.15 0 1 0 -2.3 0M654.3 125.5a1.15 1.15 0 1 0 2.3 0a1.15 1.15 0 1 0 -2.3 0M888.3 93.4a1.15 1.15 0 1 0 2.3 0a1.15 1.15 0 1 0 -2.3 0M924.3 93.4a1.15 1.15 0 1 0 2.3 0a1.15 1.15 0 1 0 -2.3 0M889.7 101.2a1.15 1.15 0 1 0 2.3 0a1.15 1.15 0 1 0 -2.3 0M922.9 101.2a1.15 1.15 0 1 0 2.3 0a1.15 1.15 0 1 0 -2.3 0M891.2 108.9a1.15 1.15 0 1 0 2.3 0a1.15 1.15 0 1 0 -2.3 0M921.4 108.9a1.15 1.15 0 1 0 2.3 0a1.15 1.15 0 1 0 -2.3 0M892.6 116.7a1.15 1.15 0 1 0 2.3 0a1.15 1.15 0 1 0 -2.3 0M920.0 116.7a1.15 1.15 0 1 0 2.3 0a1.15 1.15 0 1 0 -2.3 0M894.0 124.4a1.15 1.15 0 1 0 2.3 0a1.15 1.15 0 1 0 -2.3 0M918.6 124.4a1.15 1.15 0 1 0 2.3 0a1.15 1.15 0 1 0 -2.3 0M895.5 132.2a1.15 1.15 0 1 0 2.3 0a1.15 1.15 0 1 0 -2.3 0M917.1 132.2a1.15 1.15 0 1 0 2.3 0a1.15 1.15 0 1 0 -2.3 0M896.9 139.9a1.15 1.15 0 1 0 2.3 0a1.15 1.15 0 1 0 -2.3 0M915.7 139.9a1.15 1.15 0 1 0 2.3 0a1.15 1.15 0 1 0 -2.3 0M898.4 147.7a1.15 1.15 0 1 0 2.3 0a1.15 1.15 0 1 0 -2.3 0M914.2 147.7a1.15 1.15 0 1 0 2.3 0a1.15 1.15 0 1 0 -2.3 0M899.8 155.4a1.15 1.15 0 1 0 2.3 0a1.15 1.15 0 1 0 -2.3 0M912.8 155.4a1.15 1.15 0 1 0 2.3 0a1.15 1.15 0 1 0 -2.3 0"/>
<path d="M67.5 65.5H196.5V271.5H67.5Z M196.5 65.5H325.5V271.5H196.5Z M325.5 65.5H454.5V271.5H325.5Z M454.5 65.5H584.5V271.5H454.5Z M584.5 65.5H713.5V271.5H584.5Z M713.5 65.5H842.5V271.5H713.5Z M842.5 65.5H972.5V271.5H842.5Z M972.5 65.5H1101.5V271.5H972.5Z" fill="none" stroke="#2a2a2a" stroke-width="1"/>
<path d="M964.5 65.5h5.5v2.6h-5.5z M966.4 72.1h2v2.6h-2z" fill="#111"/>
<path d="M79.9 65.0v2.5M79.9 272.0v-2.5M105.8 65.0v2.5M105.8 272.0v-2.5M131.7 65.0v2.5M131.7 272.0v-2.5M157.5 65.0v2.5M157.5 272.0v-2.5M183.4 65.0v2.5M183.4 272.0v-2.5M67.0 106.7h3M196.3 106.7h-3M67.0 127.4h3M196.3 127.4h-3M67.0 148.0h3M196.3 148.0h-3M67.0 168.7h3M196.3 168.7h-3M67.0 189.4h3M196.3 189.4h-3M67.0 210.1h3M196.3 210.1h-3M67.0 230.8h3M196.3 230.8h-3M67.0 251.4h3M196.3 251.4h-3M209.2 65.0v2.5M209.2 272.0v-2.5M235.1 65.0v2.5M235.1 272.0v-2.5M261.0 65.0v2.5M261.0 272.0v-2.5M286.8 65.0v2.5M286.8 272.0v-2.5M312.7 65.0v2.5M312.7 272.0v-2.5M196.3 106.7h3M325.6 106.7h-3M196.3 127.4h3M325.6 127.4h-3M196.3 148.0h3M325.6 148.0h-3M196.3 168.7h3M325.6 168.7h-3M196.3 189.4h3M325.6 189.4h-3M196.3 210.1h3M325.6 210.1h-3M196.3 230.8h3M325.6 230.8h-3M196.3 251.4h3M325.6 251.4h-3M338.5 65.0v2.5M338.5 272.0v-2.5M364.4 65.0v2.5M364.4 272.0v-2.5M390.2 65.0v2.5M390.2 272.0v-2.5M416.1 65.0v2.5M416.1 272.0v-2.5M442.0 65.0v2.5M442.0 272.0v-2.5M325.6 106.7h3M454.9 106.7h-3M325.6 127.4h3M454.9 127.4h-3M325.6 148.0h3M454.9 148.0h-3M325.6 168.7h3M454.9 168.7h-3M325.6 189.4h3M454.9 189.4h-3M325.6 210.1h3M454.9 210.1h-3M325.6 230.8h3M454.9 230.8h-3M325.6 251.4h3M454.9 251.4h-3M467.8 65.0v2.5M467.8 272.0v-2.5M493.7 65.0v2.5M493.7 272.0v-2.5M519.6 65.0v2.5M519.6 272.0v-2.5M545.4 65.0v2.5M545.4 272.0v-2.5M571.3 65.0v2.5M571.3 272.0v-2.5M454.9 106.7h3M584.2 106.7h-3M454.9 127.4h3M584.2 127.4h-3M454.9 148.0h3M584.2 148.0h-3M454.9 168.7h3M584.2 168.7h-3M454.9 189.4h3M584.2 189.4h-3M454.9 210.1h3M584.2 210.1h-3M454.9 230.8h3M584.2 230.8h-3M454.9 251.4h3M584.2 251.4h-3M597.1 65.0v2.5M597.1 272.0v-2.5M623.0 65.0v2.5M623.0 272.0v-2.5M648.9 65.0v2.5M648.9 272.0v-2.5M674.7 65.0v2.5M674.7 272.0v-2.5M700.6 65.0v2.5M700.6 272.0v-2.5M584.2 106.7h3M713.5 106.7h-3M584.2 127.4h3M713.5 127.4h-3M584.2 148.0h3M713.5 148.0h-3M584.2 168.7h3M713.5 168.7h-3M584.2 189.4h3M713.5 189.4h-3M584.2 210.1h3M713.5 210.1h-3M584.2 230.8h3M713.5 230.8h-3M584.2 251.4h3M713.5 251.4h-3M726.4 65.0v2.5M726.4 272.0v-2.5M752.3 65.0v2.5M752.3 272.0v-2.5M778.1 65.0v2.5M778.1 272.0v-2.5M804.0 65.0v2.5M804.0 272.0v-2.5M829.9 65.0v2.5M829.9 272.0v-2.5M713.5 106.7h3M842.8 106.7h-3M713.5 127.4h3M842.8 127.4h-3M713.5 148.0h3M842.8 148.0h-3M713.5 168.7h3M842.8 168.7h-3M713.5 189.4h3M842.8 189.4h-3M713.5 210.1h3M842.8 210.1h-3M713.5 230.8h3M842.8 230.8h-3M713.5 251.4h3M842.8 251.4h-3M855.7 65.0v2.5M855.7 272.0v-2.5M881.6 65.0v2.5M881.6 272.0v-2.5M907.5 65.0v2.5M907.5 272.0v-2.5M933.3 65.0v2.5M933.3 272.0v-2.5M959.2 65.0v2.5M959.2 272.0v-2.5M842.8 106.7h3M972.1 106.7h-3M842.8 127.4h3M972.1 127.4h-3M842.8 148.0h3M972.1 148.0h-3M842.8 168.7h3M972.1 168.7h-3M842.8 189.4h3M972.1 189.4h-3M842.8 210.1h3M972.1 210.1h-3M842.8 230.8h3M972.1 230.8h-3M842.8 251.4h3M972.1 251.4h-3M985.0 65.0v2.5M985.0 272.0v-2.5M1010.9 65.0v2.5M1010.9 272.0v-2.5M1036.8 65.0v2.5M1036.8 272.0v-2.5M1062.6 65.0v2.5M1062.6 272.0v-2.5M1088.5 65.0v2.5M1088.5 272.0v-2.5M972.1 106.7h3M1101.4 106.7h-3M972.1 127.4h3M1101.4 127.4h-3M972.1 148.0h3M1101.4 148.0h-3M972.1 168.7h3M1101.4 168.7h-3M972.1 189.4h3M1101.4 189.4h-3M972.1 210.1h3M1101.4 210.1h-3M972.1 230.8h3M1101.4 230.8h-3M972.1 251.4h3M1101.4 251.4h-3" fill="none" stroke="#2e2e2e" stroke-width="1"/>
<text x="429.8" y="23.6" font-size="13.3" textLength="278" lengthAdjust="spacingAndGlyphs">Generating displacement field via K dosing</text>
<line x1="198" y1="30.6" x2="963" y2="30.6" stroke="#2a2a2a" stroke-width="1.1"/>
<path d="M970 30.6L961.5 27L963.5 30.6L961.5 34.2Z" fill="#222"/>
<text x="68.0" y="56.6" font-size="17.5" font-weight="bold" fill="#111" style="fill:#111">a</text>
<text x="146.6" y="56.3" font-size="14" textLength="82.5" lengthAdjust="spacingAndGlyphs"><tspan font-style="italic">D</tspan> = 0 V nm<tspan dy="-5.5" font-size="9">−1</tspan></text>
<text x="75.6" y="285.9" font-size="13.6" text-anchor="middle">−0.2</text>
<text x="128.2" y="285.9" font-size="13.6" text-anchor="middle">0</text>
<text x="182.6" y="285.9" font-size="13.6" text-anchor="middle">0.2</text>
<text x="134.1" y="304.6" font-size="14.2" text-anchor="middle"><tspan font-style="italic">k</tspan> (Å<tspan dy="-5.5" font-size="9.5">−1</tspan><tspan dy="5.5">)</tspan></text>
<text x="327.0" y="56.6" font-size="17.5" font-weight="bold" fill="#111" style="fill:#111">b</text>
<text x="389.6" y="56.3" font-size="14" textLength="103.3" lengthAdjust="spacingAndGlyphs"><tspan font-style="italic">D</tspan> = 0.72 V nm<tspan dy="-5.5" font-size="9">−1</tspan></text>
<text x="334.2" y="285.9" font-size="13.6" text-anchor="middle">−0.2</text>
<text x="386.9" y="285.9" font-size="13.6" text-anchor="middle">0</text>
<text x="441.2" y="285.9" font-size="13.6" text-anchor="middle">0.2</text>
<text x="392.6" y="304.6" font-size="14.2" text-anchor="middle"><tspan font-style="italic">k</tspan> (Å<tspan dy="-5.5" font-size="9.5">−1</tspan><tspan dy="5.5">)</tspan></text>
<text x="582.6" y="56.6" font-size="17.5" font-weight="bold" fill="#111" style="fill:#111">c</text>
<text x="649.5" y="56.3" font-size="14" textLength="102.6" lengthAdjust="spacingAndGlyphs"><tspan font-style="italic">D</tspan> = 1.44 V nm<tspan dy="-5.5" font-size="9">−1</tspan></text>
<text x="592.8" y="285.9" font-size="13.6" text-anchor="middle">−0.2</text>
<text x="645.5" y="285.9" font-size="13.6" text-anchor="middle">0</text>
<text x="699.8" y="285.9" font-size="13.6" text-anchor="middle">0.2</text>
<text x="651.2" y="304.6" font-size="14.2" text-anchor="middle"><tspan font-style="italic">k</tspan> (Å<tspan dy="-5.5" font-size="9.5">−1</tspan><tspan dy="5.5">)</tspan></text>
<text x="842.4" y="56.6" font-size="17.5" font-weight="bold" fill="#111" style="fill:#111">d</text>
<text x="905.9" y="56.3" font-size="14" textLength="102.7" lengthAdjust="spacingAndGlyphs"><tspan font-style="italic">D</tspan> = 2.18 V nm<tspan dy="-5.5" font-size="9">−1</tspan></text>
<text x="851.4" y="285.9" font-size="13.6" text-anchor="middle">−0.2</text>
<text x="904.1" y="285.9" font-size="13.6" text-anchor="middle">0</text>
<text x="958.4" y="285.9" font-size="13.6" text-anchor="middle">0.2</text>
<text x="909.9" y="304.6" font-size="14.2" text-anchor="middle"><tspan font-style="italic">k</tspan> (Å<tspan dy="-5.5" font-size="9.5">−1</tspan><tspan dy="5.5">)</tspan></text>
<text x="48.6" y="89.7" font-size="14.4" font-style="italic" textLength="9" lengthAdjust="spacingAndGlyphs">E</text><text x="57.2" y="93.7" font-size="10">F</text>
<text x="63.4" y="132.3" font-size="13.6" text-anchor="end">0.2</text>
<text x="63.4" y="173.6" font-size="13.6" text-anchor="end">0.4</text>
<text x="63.4" y="215.0" font-size="13.6" text-anchor="end">0.6</text>
<text x="63.4" y="256.3" font-size="13.6" text-anchor="end">0.8</text>
<text transform="translate(34.2 235.4) rotate(-90)" font-size="14.6" textLength="126.5" lengthAdjust="spacingAndGlyphs">Binding energy (eV)</text>
<g style="fill:#f4f0f4;stroke:#f4f0f4;stroke-width:0.15px"><text x="79.5" y="257.4" font-size="14" style="fill:#f4f0f4;stroke:#f4f0f4;stroke-width:0.15px">K</text><text x="124.5" y="257.4" font-size="14" style="fill:#f4f0f4;stroke:#f4f0f4;stroke-width:0.15px">Γ</text><text x="168.8" y="257.4" font-size="14" style="fill:#f4f0f4;stroke:#f4f0f4;stroke-width:0.15px">K</text></g>
<path d="M98 250.5H122M137 250.5H160" stroke="#f4f0f4" stroke-width="1.1"/><path d="M95.5 250.5L100.5 248.3V252.7Z M162.5 250.5L157.5 248.3V252.7Z" fill="#f4f0f4"/>
<defs><linearGradient id="cb" x1="0" x2="1" y1="0" y2="0"><stop offset="0" stop-color="#ece4ee"/><stop offset="0.025" stop-color="#b8a8b8"/><stop offset="0.06" stop-color="#2a1a22"/><stop offset="0.16" stop-color="#2c1a24"/><stop offset="0.32" stop-color="#5c1a3a"/><stop offset="0.48" stop-color="#8e2250"/><stop offset="0.62" stop-color="#c82a68"/><stop offset="0.69" stop-color="#e5327a"/><stop offset="0.76" stop-color="#e96464"/><stop offset="0.86" stop-color="#f4a038"/><stop offset="0.95" stop-color="#ffd800"/><stop offset="1" stop-color="#fff200"/></linearGradient></defs>
<rect x="984.5" y="287.2" width="104.6" height="27.8" fill="url(#cb)" stroke="#333" stroke-width="1.1"/>
<text x="971.2" y="331.8" font-size="13.8" textLength="27" lengthAdjust="spacingAndGlyphs">Min.</text>
<text x="1069.8" y="331.8" font-size="13.8" textLength="31.6" lengthAdjust="spacingAndGlyphs">Max.</text>
</svg></body></html>
